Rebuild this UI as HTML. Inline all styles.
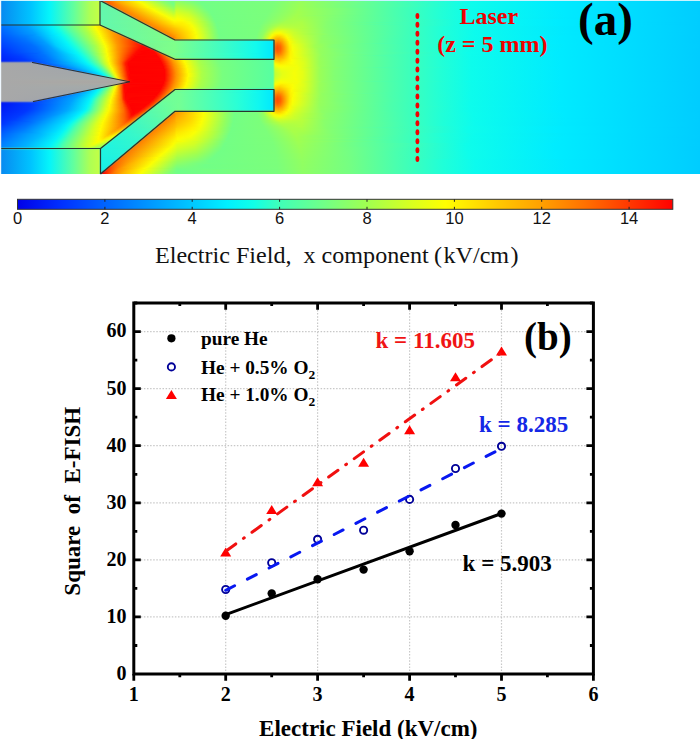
<!DOCTYPE html>
<html><head><meta charset="utf-8"><style>
html,body{margin:0;padding:0;background:#fff;width:700px;height:739px;overflow:hidden}
svg{display:block;position:absolute;left:0;top:0}
#f{position:absolute;left:0;top:0;width:700px;height:174px;overflow:hidden}
#f i{position:absolute;left:0;width:700px;display:block}
.grid{stroke:#c8c8c8;stroke-width:1.2;stroke-dasharray:1.5 1.6}
.tl{font-family:"Liberation Serif",serif;font-weight:bold;font-size:20px;fill:#000}
.lg{font-family:"Liberation Serif",serif;font-weight:bold;font-size:19.3px;fill:#000}
.k{font-family:"Liberation Serif",serif;font-weight:bold;font-size:23px}
.red{font-family:"Liberation Serif",serif;font-weight:bold;font-size:24px;fill:#f00000}
.biga{font-family:"Liberation Serif",serif;font-weight:bold;font-size:47px;fill:#000}
.big{font-family:"Liberation Serif",serif;font-weight:bold;font-size:39px;fill:#000}
.at{font-family:"Liberation Serif",serif;font-weight:bold;font-size:23px;fill:#000}
.cbl{font-family:"Liberation Sans",sans-serif;font-size:16.5px;fill:#111}
.cap{font-family:"Liberation Serif",serif;font-size:24.1px;fill:#111}
</style></head><body>
<div id="f">
<i style="top:0px;height:1px;background:linear-gradient(90deg,#0889f0 0.5px,#00c3ff 30.5px,#05f5fa 49.5px,#62ff9e 73.5px,#acff55 89.5px,#c2ff45 98.5px,#affa5a 99.5px,#97d074 100.5px,#ba7c4c 101.5px,#db5228 102.5px,#f2400f 103.5px,#fe4801 105.5px,#ff8a00 112.5px,#ffcd00 125.5px,#fafe04 137.5px,#8aff6a 161.5px,#76ff82 167.5px,#75ff82 173.5px,#8cff68 176.5px,#79ff7d 191.5px,#71ff87 200.5px,#7bff7b 274.5px,#97ff5a 300.5px,#70ff88 353.5px,#49ffaf 397.5px,#0efdeb 467.5px,#00ecff 555.5px,#00d2ff 676.5px,#00cdff 698.5px,#00cdff 699.5px)"></i>
<i style="top:1px;height:1px;background:linear-gradient(90deg,#0889f0 0.5px,#00c3ff 30.5px,#05f5fa 49.5px,#62ff9e 73.5px,#acff55 89.5px,#c2ff46 98.5px,#adfc5c 99.5px,#84eb89 100.5px,#82cc8a 101.5px,#9baa6e 102.5px,#c57941 103.5px,#df6024 104.5px,#f3520e 105.5px,#fe5901 107.5px,#ff9e00 116.5px,#fbfd04 138.5px,#90ff63 161.5px,#75ff82 169.5px,#75ff82 173.5px,#90ff63 176.5px,#7dff79 191.5px,#71ff87 200.5px,#7aff7c 273.5px,#98ff5a 300.5px,#70ff88 353.5px,#49ffaf 397.5px,#0efdeb 467.5px,#00ecff 555.5px,#00d2ff 676.5px,#00cdff 698.5px,#00cdff 699.5px)"></i>
<i style="top:2px;height:1px;background:linear-gradient(90deg,#0889f0 0.5px,#00c3ff 30.5px,#05f5fa 49.5px,#62ff9e 73.5px,#acff55 89.5px,#c2ff46 98.5px,#acfd5d 99.5px,#7bf993 100.5px,#66f3a9 101.5px,#6ee8a1 102.5px,#9cb16d 104.5px,#c58440 105.5px,#f35e0d 107.5px,#ff6400 109.5px,#ffa700 119.5px,#fafe04 140.5px,#8fff64 163.5px,#75ff82 171.5px,#76ff81 173.5px,#7dff79 174.5px,#8eff65 175.5px,#96ff5c 177.5px,#80ff75 192.5px,#71ff86 201.5px,#7bff7c 273.5px,#98ff59 300.5px,#6eff8a 355.5px,#48ffb0 398.5px,#0efdeb 467.5px,#00ecff 555.5px,#00d2ff 676.5px,#00cdff 698.5px,#00cdff 699.5px)"></i>
<i style="top:3px;height:1px;background:linear-gradient(90deg,#0889f0 0.5px,#00c3ff 30.5px,#05f5fa 49.5px,#62ff9e 73.5px,#acff55 89.5px,#c2ff46 98.5px,#acfd5d 99.5px,#7afa94 100.5px,#63f8ad 101.5px,#65f4aa 103.5px,#6ee9a0 104.5px,#9db66c 106.5px,#cd8537 107.5px,#f16310 108.5px,#fe6601 110.5px,#ffaa00 121.5px,#f9fe05 142.5px,#8eff65 165.5px,#76ff81 172.5px,#76ff81 173.5px,#7fff77 174.5px,#92ff60 175.5px,#9cff55 177.5px,#85ff6f 192.5px,#71ff86 201.5px,#7bff7b 273.5px,#99ff58 300.5px,#6cff8c 357.5px,#47ffb1 400.5px,#0efdeb 467.5px,#00ecff 555.5px,#00d2ff 676.5px,#00cdff 698.5px,#00cdff 699.5px)"></i>
<i style="top:4px;height:1px;background:linear-gradient(90deg,#0889f0 0.5px,#00c3ff 30.5px,#05f5fa 49.5px,#62ff9e 73.5px,#acff55 89.5px,#c2ff46 98.5px,#acfd5d 99.5px,#7afa94 100.5px,#63f8ad 101.5px,#66f4a9 105.5px,#71e99d 106.5px,#95c275 107.5px,#c59040 108.5px,#f36b0e 110.5px,#fe6e01 112.5px,#ffb400 125.5px,#f9fe05 144.5px,#8eff65 167.5px,#78ff7e 173.5px,#81ff74 174.5px,#97ff5b 175.5px,#a1ff50 176.5px,#8fff64 190.5px,#72ff86 202.5px,#7bff7c 272.5px,#9aff57 299.5px,#6cff8c 357.5px,#47ffb1 400.5px,#0efdeb 467.5px,#00ecff 555.5px,#00d2ff 676.5px,#00cdff 698.5px,#00cdff 699.5px)"></i>
<i style="top:5px;height:1px;background:linear-gradient(90deg,#0889f0 0.5px,#00c3ff 30.5px,#05f5fa 49.5px,#62ff9e 73.5px,#acff55 89.5px,#c2ff46 98.5px,#acfd5d 99.5px,#7afa94 100.5px,#63f8ad 101.5px,#64f7ab 106.5px,#6fec9f 107.5px,#9dbc6c 109.5px,#c6953f 110.5px,#f3720d 112.5px,#fe7501 114.5px,#ffbd00 129.5px,#fbfd03 145.5px,#96ff5c 167.5px,#7eff78 173.5px,#86ff6f 174.5px,#9dff56 175.5px,#a8ff4a 176.5px,#97ff5b 189.5px,#71ff86 204.5px,#7bff7b 272.5px,#9bff56 299.5px,#69ff8f 359.5px,#46ffb2 402.5px,#0efdeb 467.5px,#00ecff 555.5px,#00d2ff 676.5px,#00cdff 698.5px,#00cdff 699.5px)"></i>
<i style="top:6px;height:1px;background:linear-gradient(90deg,#0889f0 0.5px,#00c3ff 30.5px,#05f5fa 49.5px,#62ff9e 73.5px,#acff55 89.5px,#c2ff46 98.5px,#acfd5d 99.5px,#7afa94 100.5px,#63f8ad 101.5px,#67f5a8 108.5px,#70ec9d 109.5px,#9ec06b 111.5px,#c69a3f 112.5px,#f3780d 114.5px,#fe7901 116.5px,#ffc600 133.5px,#fbfd03 147.5px,#95ff5c 169.5px,#85ff6f 173.5px,#8dff67 174.5px,#a4ff4f 175.5px,#aeff44 176.5px,#9aff57 190.5px,#72ff86 205.5px,#7bff7b 272.5px,#9bff55 299.5px,#67ff91 361.5px,#44ffb4 405.5px,#0efdea 466.5px,#00ecff 554.5px,#00d2ff 675.5px,#00ceff 697.5px,#00cdff 699.5px)"></i>
<i style="top:7px;height:1px;background:linear-gradient(90deg,#0889f0 0.5px,#00c3ff 30.5px,#05f5fa 49.5px,#62ff9e 73.5px,#acff55 89.5px,#c2ff46 98.5px,#acfd5d 99.5px,#7afa94 100.5px,#63f8ad 101.5px,#68f5a7 110.5px,#71ed9c 111.5px,#9ec26a 113.5px,#c69e3e 114.5px,#f37d0d 116.5px,#fe7d01 118.5px,#fef901 147.5px,#cfff28 159.5px,#8dff66 173.5px,#95ff5f 174.5px,#abff49 175.5px,#b6ff3d 177.5px,#9aff57 192.5px,#72ff86 205.5px,#7bff7b 271.5px,#9cff54 299.5px,#65ff93 363.5px,#22ffd6 440.5px,#0dfced 472.5px,#00eaff 562.5px,#00d0ff 683.5px,#00cdff 698.5px,#00cdff 699.5px)"></i>
<i style="top:8px;height:1px;background:linear-gradient(90deg,#0889f0 0.5px,#00c3ff 30.5px,#05f5fa 49.5px,#62ff9e 73.5px,#acff55 89.5px,#c2ff46 98.5px,#acfd5d 99.5px,#7afa94 100.5px,#63f8ad 101.5px,#69f6a6 112.5px,#72ed9b 113.5px,#9fc56a 115.5px,#c7a13e 116.5px,#f3800d 118.5px,#fe8001 120.5px,#fafe04 151.5px,#95ff5d 173.5px,#9cff56 174.5px,#b2ff42 175.5px,#bcff38 177.5px,#9fff52 192.5px,#72ff86 206.5px,#7bff7b 270.5px,#9dff53 299.5px,#7fff76 338.5px,#4cffac 392.5px,#23ffd5 439.5px,#0dfcec 471.5px,#00ebff 560.5px,#00d1ff 681.5px,#00cdff 699.5px)"></i>
<i style="top:9px;height:1px;background:linear-gradient(90deg,#0889f0 0.5px,#00c3ff 30.5px,#05f5fa 49.5px,#62ff9e 73.5px,#acff55 89.5px,#c2ff46 98.5px,#acfd5d 99.5px,#7afa94 100.5px,#63f8ad 101.5px,#6af6a5 114.5px,#73ee9a 115.5px,#a0c669 117.5px,#c7a43e 118.5px,#f3830d 120.5px,#fe8301 122.5px,#fafe04 153.5px,#9eff53 173.5px,#a4ff4e 174.5px,#b9ff3b 175.5px,#c3ff32 177.5px,#a8ff49 191.5px,#72ff86 207.5px,#7aff7c 269.5px,#9eff52 299.5px,#80ff76 337.5px,#4cffac 392.5px,#23ffd5 439.5px,#0dfcec 471.5px,#00ebff 560.5px,#00d1ff 681.5px,#00cdff 699.5px)"></i>
<i style="top:10px;height:1px;background:linear-gradient(90deg,#0889f0 0.5px,#00c3ff 30.5px,#05f5fa 49.5px,#62ff9e 73.5px,#acff55 89.5px,#c2ff46 98.5px,#acfd5d 99.5px,#7afa94 100.5px,#63f8ad 101.5px,#6af6a4 116.5px,#73ef99 117.5px,#a0c868 119.5px,#c7a63d 120.5px,#f4850c 122.5px,#ff8400 124.5px,#fcfc02 154.5px,#a6ff4b 173.5px,#acff46 174.5px,#c0ff35 175.5px,#caff2c 177.5px,#aeff44 191.5px,#72ff86 208.5px,#7bff7b 269.5px,#9fff52 298.5px,#7fff76 338.5px,#4cffac 392.5px,#23ffd5 439.5px,#0dfcec 471.5px,#00ebff 560.5px,#00d1ff 681.5px,#00cdff 699.5px)"></i>
<i style="top:11px;height:1px;background:linear-gradient(90deg,#0889f0 0.5px,#00c3ff 30.5px,#05f5fa 49.5px,#62ff9e 73.5px,#acff55 89.5px,#c2ff46 98.5px,#acfd5d 99.5px,#7afa94 100.5px,#63f8ad 101.5px,#6bf7a2 118.5px,#74ef99 119.5px,#a1c867 121.5px,#cfa034 122.5px,#f2840f 123.5px,#fe8201 125.5px,#fcfd03 156.5px,#b0ff43 173.5px,#b5ff3e 174.5px,#d0ff27 176.5px,#baff3a 189.5px,#82ff73 204.5px,#72ff86 210.5px,#7bff7b 269.5px,#a0ff50 298.5px,#80ff76 337.5px,#4cffac 392.5px,#23ffd5 439.5px,#0dfcec 471.5px,#00ebff 560.5px,#00d1ff 681.5px,#00cdff 699.5px)"></i>
<i style="top:12px;height:1px;background:linear-gradient(90deg,#0889f0 0.5px,#00c3ff 30.5px,#05f5fa 49.5px,#62ff9e 73.5px,#acff55 89.5px,#c2ff46 98.5px,#acfd5d 99.5px,#7afa94 100.5px,#63f8ad 101.5px,#6cf7a1 120.5px,#77ee96 121.5px,#99cf70 122.5px,#c7a63d 123.5px,#f3840d 125.5px,#fe8301 127.5px,#fbfd03 158.5px,#b9ff3b 173.5px,#beff37 174.5px,#d7ff21 176.5px,#c3ff32 188.5px,#8aff69 203.5px,#72ff86 210.5px,#7bff7b 268.5px,#a1ff4f 298.5px,#80ff75 336.5px,#4bffad 393.5px,#21ffd7 441.5px,#0cfced 473.5px,#00eaff 564.5px,#00d0ff 685.5px,#00ceff 697.5px,#00cdff 699.5px)"></i>
<i style="top:13px;height:1px;background:linear-gradient(90deg,#0889f0 0.5px,#00c3ff 30.5px,#05f5fa 49.5px,#62ff9e 73.5px,#acff55 89.5px,#c2ff46 98.5px,#acfd5d 99.5px,#7afa94 100.5px,#63f8ad 101.5px,#6bf8a3 121.5px,#75f098 122.5px,#a1c967 124.5px,#c8a73c 125.5px,#f3860d 127.5px,#fe8501 129.5px,#fbfd03 160.5px,#c2ff33 173.5px,#c6ff2f 174.5px,#ddff1c 176.5px,#c9ff2d 188.5px,#8eff65 203.5px,#72ff86 211.5px,#7bff7c 267.5px,#a1ff4f 297.5px,#80ff76 337.5px,#4cffac 392.5px,#23ffd5 439.5px,#0dfcec 471.5px,#00ebff 560.5px,#00d1ff 681.5px,#00cdff 699.5px)"></i>
<i style="top:14px;height:1px;background:linear-gradient(90deg,#0889f0 0.5px,#00c3ff 30.5px,#05f5fa 49.5px,#62ff9e 73.5px,#acff55 89.5px,#c2ff46 98.5px,#acfd5d 99.5px,#7afa94 100.5px,#63f8ad 101.5px,#6df7a0 123.5px,#76f096 124.5px,#a2c966 126.5px,#c8a83c 127.5px,#f3870d 129.5px,#fe8601 131.5px,#fbfd04 162.5px,#cbff2b 173.5px,#cfff28 174.5px,#e3ff17 176.5px,#cfff28 188.5px,#8eff65 204.5px,#72ff85 211.5px,#7aff7c 266.5px,#a3ff4e 297.5px,#80ff75 336.5px,#4bffad 393.5px,#21ffd7 441.5px,#0cfced 473.5px,#00eaff 564.5px,#00d0ff 685.5px,#00ceff 697.5px,#00cdff 699.5px)"></i>
<i style="top:15px;height:1px;background:linear-gradient(90deg,#0889f0 0.5px,#00c3ff 30.5px,#05f5fa 49.5px,#62ff9e 73.5px,#acff55 89.5px,#c2ff46 98.5px,#acfd5d 99.5px,#7afa94 100.5px,#63f8ad 101.5px,#6ef79f 125.5px,#77f095 126.5px,#a3ca65 128.5px,#c9a93b 129.5px,#f3880d 131.5px,#ff8b00 134.5px,#fafd04 164.5px,#d5ff23 173.5px,#e9ff12 177.5px,#ceff29 190.5px,#88ff6b 206.5px,#72ff86 212.5px,#7bff7c 266.5px,#a3ff4d 296.5px,#93ff5f 312.5px,#4bffad 393.5px,#21ffd7 441.5px,#0cfced 473.5px,#00eaff 564.5px,#00d0ff 685.5px,#00ceff 697.5px,#00cdff 699.5px)"></i>
<i style="top:16px;height:1px;background:linear-gradient(90deg,#0889f0 0.5px,#00c3ff 30.5px,#05f5fa 49.5px,#62ff9e 73.5px,#acff55 89.5px,#c2ff46 98.5px,#acfd5d 99.5px,#7afa94 100.5px,#63f8ad 101.5px,#6ff89e 127.5px,#78f094 128.5px,#a3ca65 130.5px,#c9a93b 131.5px,#f3890d 133.5px,#ff8b00 136.5px,#fafe04 166.5px,#ddff1c 173.5px,#efff0e 177.5px,#d3ff24 190.5px,#8cff67 206.5px,#72ff86 213.5px,#7aff7c 265.5px,#a4ff4c 295.5px,#9bff56 307.5px,#81ff74 334.5px,#4bffad 393.5px,#21ffd7 441.5px,#0cfced 473.5px,#00eaff 564.5px,#00d0ff 685.5px,#00ceff 697.5px,#00cdff 699.5px)"></i>
<i style="top:17px;height:1px;background:linear-gradient(90deg,#0889f0 0.5px,#00c3ff 30.5px,#05f5fa 49.5px,#62ff9e 73.5px,#acff55 89.5px,#c2ff46 98.5px,#acfd5d 99.5px,#7afa94 100.5px,#63f8ad 101.5px,#70f89d 129.5px,#79f093 130.5px,#a4cb64 132.5px,#c9aa3b 133.5px,#f48a0c 135.5px,#ff8c00 138.5px,#f9fe05 168.5px,#e7ff14 174.5px,#f4ff09 177.5px,#d9ff1f 190.5px,#8fff63 206.5px,#72ff85 213.5px,#7bff7b 265.5px,#a5ff4c 294.5px,#9fff51 305.5px,#82ff73 332.5px,#4bffad 394.5px,#1fffd9 443.5px,#0cfbee 475.5px,#00e9ff 566.5px,#00d0ff 687.5px,#00cdff 699.5px)"></i>
<i style="top:18px;height:1px;background:linear-gradient(90deg,#0889f0 0.5px,#00c3ff 30.5px,#05f5fa 49.5px,#62ff9e 73.5px,#acff55 89.5px,#c2ff46 98.5px,#acfd5d 99.5px,#7afa94 100.5px,#63f8ad 101.5px,#71f89c 131.5px,#79f192 132.5px,#a4cb63 134.5px,#caab3a 135.5px,#f48a0c 137.5px,#ff8900 139.5px,#fcfc03 169.5px,#eeff0e 174.5px,#faff04 177.5px,#deff1b 190.5px,#8eff65 207.5px,#72ff86 214.5px,#7aff7c 264.5px,#a6ff4b 293.5px,#a1ff4f 304.5px,#82ff72 331.5px,#4bffad 394.5px,#1fffd9 443.5px,#0cfbee 475.5px,#00e9ff 566.5px,#00d0ff 687.5px,#00cdff 699.5px)"></i>
<i style="top:19px;height:1px;background:linear-gradient(90deg,#0889f0 0.5px,#00c3ff 30.5px,#05f5fa 49.5px,#62ff9e 73.5px,#acff55 89.5px,#c2ff46 98.5px,#acfd5d 99.5px,#7afa94 100.5px,#63f8ad 101.5px,#71f89b 133.5px,#7af191 134.5px,#a5cb62 136.5px,#d1a432 137.5px,#f2890e 138.5px,#fe8601 140.5px,#fcfd03 171.5px,#f5fe08 174.5px,#fdfd01 178.5px,#e2ff17 190.5px,#91ff61 207.5px,#72ff85 214.5px,#7aff7c 263.5px,#a7ff4a 292.5px,#a4ff4c 303.5px,#83ff72 330.5px,#4affae 395.5px,#0efdeb 468.5px,#00ecff 556.5px,#00d2ff 677.5px,#00cdff 699.5px)"></i>
<i style="top:20px;height:1px;background:linear-gradient(90deg,#0889f0 0.5px,#00c3ff 30.5px,#05f5fa 49.5px,#62ff9e 73.5px,#acff55 89.5px,#c2ff46 98.5px,#acfd5d 99.5px,#7afa94 100.5px,#63f8ad 101.5px,#72f89a 135.5px,#7cf08e 136.5px,#9dd26a 137.5px,#c9aa3a 138.5px,#f4880c 140.5px,#ff8a00 143.5px,#fbfd03 173.5px,#fdfd02 182.5px,#d3ff25 195.5px,#80ff75 211.5px,#72ff86 215.5px,#7bff7c 263.5px,#a6ff4b 289.5px,#a7ff4a 302.5px,#84ff71 329.5px,#4affae 395.5px,#0efdeb 468.5px,#00ecff 556.5px,#00d2ff 677.5px,#00cdff 699.5px)"></i>
<i style="top:21px;height:1px;background:linear-gradient(90deg,#0889f0 0.5px,#00c3ff 30.5px,#05f5fa 49.5px,#62ff9e 73.5px,#acff55 89.5px,#c2ff46 98.5px,#acfd5d 99.5px,#7afa94 100.5px,#63f8ad 101.5px,#71fa9b 136.5px,#7bf290 137.5px,#a5cb62 139.5px,#caaa39 140.5px,#f4890c 142.5px,#ff8b00 145.5px,#fef801 174.5px,#fff700 180.5px,#f3ff0a 188.5px,#acff45 203.5px,#72ff85 215.5px,#7aff7c 262.5px,#a5ff4c 286.5px,#aaff47 301.5px,#84ff70 328.5px,#4affae 395.5px,#0efdeb 468.5px,#00ecff 556.5px,#00d2ff 677.5px,#00cdff 699.5px)"></i>
<i style="top:22px;height:1px;background:linear-gradient(90deg,#0889f0 0.5px,#00c3ff 30.5px,#05f5fa 49.5px,#62ff9e 73.5px,#acff55 89.5px,#c2ff45 98.5px,#acfd5d 99.5px,#7afa94 100.5px,#63f8ad 101.5px,#74f998 138.5px,#7cf18f 139.5px,#a6cb61 141.5px,#cbaa39 142.5px,#f4890c 144.5px,#ff8b00 147.5px,#fff200 174.5px,#fff300 181.5px,#f4ff09 189.5px,#aaff47 204.5px,#73ff84 215.5px,#7aff7d 261.5px,#a6ff4b 284.5px,#acff46 301.5px,#85ff6f 327.5px,#57ffa1 376.5px,#2bffcd 432.5px,#0dfdec 469.5px,#00ecff 557.5px,#00d1ff 678.5px,#00ceff 696.5px,#00cdff 699.5px)"></i>
<i style="top:23px;height:1px;background:linear-gradient(90deg,#0889f1 0.5px,#00c3ff 30.5px,#05f5fa 49.5px,#63ff9d 73.5px,#adff54 89.5px,#c3fe44 98.5px,#aefd5b 99.5px,#7cf992 100.5px,#64f8ac 101.5px,#74f997 140.5px,#7df18e 141.5px,#a7cc60 143.5px,#cbab39 144.5px,#f48a0c 146.5px,#ff8c00 149.5px,#ffeb00 174.5px,#fff000 182.5px,#f8ff06 189.5px,#aeff44 204.5px,#72ff85 216.5px,#7aff7c 261.5px,#a8ff49 282.5px,#adff45 301.5px,#85ff6f 327.5px,#4affae 395.5px,#0efdeb 468.5px,#00ecff 556.5px,#00d2ff 677.5px,#00cdff 699.5px)"></i>
<i style="top:24px;height:1px;background:linear-gradient(90deg,#0682f4 0.5px,#00baff 29.5px,#04f3fb 49.5px,#4fffaf 68.5px,#baff46 90.5px,#d1fa34 98.5px,#c0f747 99.5px,#92f579 100.5px,#6ff69f 101.5px,#62f8ad 103.5px,#75f996 142.5px,#7ef28d 143.5px,#a7cc60 145.5px,#cbab38 146.5px,#f48a0c 148.5px,#ff8c00 151.5px,#ffe400 174.5px,#fff100 184.5px,#f4ff09 191.5px,#9fff51 207.5px,#73ff85 216.5px,#7aff7d 260.5px,#adff45 281.5px,#aeff44 301.5px,#86ff6e 326.5px,#57ffa1 376.5px,#2bffcd 432.5px,#0dfdec 469.5px,#00ecff 557.5px,#00d1ff 678.5px,#00ceff 696.5px,#00cdff 699.5px)"></i>
<i style="top:25px;height:1px;background:linear-gradient(90deg,#0275fb 0.5px,#00a6ff 27.5px,#05f3f9 51.5px,#1efedb 58.5px,#56ffa4 68.5px,#aeff48 85.5px,#effa12 96.5px,#f0f011 98.5px,#e8eb19 99.5px,#cae93b 100.5px,#9ced6e 101.5px,#6ef5a0 103.5px,#63f8ac 105.5px,#76f995 144.5px,#7ef28c 145.5px,#a8cc5f 147.5px,#ccac38 148.5px,#f48b0c 150.5px,#ff8d00 153.5px,#ffdd00 175.5px,#fff200 186.5px,#f4ff09 192.5px,#9cff55 208.5px,#73ff84 216.5px,#79ff7e 259.5px,#94ff5e 270.5px,#b2ff41 280.5px,#aeff44 302.5px,#86ff6e 326.5px,#4affae 395.5px,#0efdeb 468.5px,#00ecff 556.5px,#00d2ff 677.5px,#00cdff 699.5px)"></i>
<i style="top:26px;height:1px;background:linear-gradient(90deg,#006eff 0.5px,#00a0ff 27.5px,#03f2fb 51.5px,#1bffdd 58.5px,#50ffa8 66.5px,#abff47 84.5px,#fbfe04 95.5px,#fce503 99.5px,#f3e00d 100.5px,#c5e041 102.5px,#9ce86e 103.5px,#6ff49f 105.5px,#65f8aa 108.5px,#77f994 146.5px,#7ff28b 147.5px,#a8cd5e 149.5px,#ccac37 150.5px,#f58b0b 152.5px,#ff8900 154.5px,#ffd700 175.5px,#ffee00 186.5px,#f7ff06 192.5px,#9eff52 208.5px,#72ff85 217.5px,#79ff7d 259.5px,#95ff5d 269.5px,#b8ff3b 279.5px,#afff43 302.5px,#87ff6d 325.5px,#4bffad 394.5px,#1fffd9 443.5px,#0cfbee 475.5px,#00e9ff 566.5px,#00d0ff 687.5px,#00cdff 699.5px)"></i>
<i style="top:27px;height:1px;background:linear-gradient(90deg,#006cff 0.5px,#009dff 27.5px,#03f3fa 52.5px,#18ffe0 58.5px,#4effaa 66.5px,#a9ff48 84.5px,#fbfe04 95.5px,#fcd904 101.5px,#f3d50e 102.5px,#c5d940 104.5px,#9de46c 105.5px,#70f39e 108.5px,#65f8a9 110.5px,#78fa93 148.5px,#80f28a 149.5px,#a9cc5d 151.5px,#d3a52f 152.5px,#f38a0d 153.5px,#fe8601 155.5px,#ffd200 176.5px,#ffee00 187.5px,#f6ff07 193.5px,#96ff5c 210.5px,#73ff85 217.5px,#7aff7c 259.5px,#95ff5d 268.5px,#c0ff35 278.5px,#afff44 303.5px,#87ff6d 325.5px,#4bffad 394.5px,#1fffd9 443.5px,#0cfbee 475.5px,#00e9ff 566.5px,#00d0ff 687.5px,#00cdff 699.5px)"></i>
<i style="top:28px;height:1px;background:linear-gradient(90deg,#0069ff 0.5px,#009dff 28.5px,#02f2fc 52.5px,#1affde 59.5px,#4fffa9 67.5px,#adff45 85.5px,#fdfc02 96.5px,#fcce04 103.5px,#d7ca2c 106.5px,#c5cf41 107.5px,#9dde6c 108.5px,#71f39d 110.5px,#66f9a8 112.5px,#79fa92 150.5px,#82f187 151.5px,#a2d365 152.5px,#ccab37 153.5px,#f4890c 155.5px,#ff8a00 158.5px,#ffcd00 177.5px,#fff200 189.5px,#f4ff09 194.5px,#92ff60 211.5px,#73ff84 217.5px,#79ff7d 258.5px,#90ff63 266.5px,#c8ff2e 277.5px,#c5ff31 285.5px,#abff46 305.5px,#87ff6d 326.5px,#4bffad 394.5px,#1fffd9 443.5px,#0cfbee 475.5px,#00e9ff 566.5px,#00d0ff 687.5px,#00cdff 699.5px)"></i>
<i style="top:29px;height:1px;background:linear-gradient(90deg,#0066ff 0.5px,#00a0ff 30.5px,#02f2fc 53.5px,#1bffdd 60.5px,#50ffa8 68.5px,#b0ff43 86.5px,#fbfe04 96.5px,#fbbd05 106.5px,#f3bb0e 107.5px,#c6c83f 109.5px,#9eda6b 110.5px,#72f29c 112.5px,#67f9a7 114.5px,#77fb93 151.5px,#93e275 153.5px,#aacc5d 154.5px,#cdaa36 155.5px,#f4890c 157.5px,#ff8b00 160.5px,#ffc800 177.5px,#ffef00 189.5px,#f7ff06 194.5px,#94ff5e 211.5px,#72ff85 218.5px,#7aff7d 258.5px,#93ff5f 266.5px,#d0ff27 276.5px,#d3ff24 282.5px,#bbff39 296.5px,#87ff6d 326.5px,#4bffad 394.5px,#1fffd9 443.5px,#0cfbee 475.5px,#00e9ff 566.5px,#00d0ff 687.5px,#00cdff 699.5px)"></i>
<i style="top:30px;height:1px;background:linear-gradient(90deg,#0063ff 0.5px,#009fff 31.5px,#01f0fd 53.5px,#15fee4 60.5px,#4cffac 68.5px,#abff47 86.5px,#fdfd02 97.5px,#fcb304 108.5px,#f3b10e 109.5px,#c6c13f 111.5px,#9ed76a 112.5px,#72f29b 114.5px,#68f9a6 116.5px,#7afa90 153.5px,#93e274 155.5px,#aacc5c 156.5px,#cdab36 157.5px,#f48a0b 159.5px,#ff8c00 162.5px,#ffc300 177.5px,#ffe700 188.5px,#faff04 194.5px,#95ff5d 211.5px,#73ff85 218.5px,#7aff7c 258.5px,#92ff61 265.5px,#dcff1d 276.5px,#ddff1c 282.5px,#bfff35 294.5px,#abff47 306.5px,#87ff6d 326.5px,#4bffad 394.5px,#1fffd9 443.5px,#0cfbee 475.5px,#00e9ff 566.5px,#00d0ff 687.5px,#00cdff 699.5px)"></i>
<i style="top:31px;height:1px;background:linear-gradient(90deg,#0061ff 0.5px,#009fff 32.5px,#00eefe 53.5px,#16fee3 61.5px,#4dffab 69.5px,#aeff44 87.5px,#fefb01 98.5px,#fca804 110.5px,#f3a80d 111.5px,#c6bc3e 113.5px,#9fd46a 114.5px,#73f19a 116.5px,#69f9a5 119.5px,#7bfa8f 155.5px,#94e274 157.5px,#abcd5b 158.5px,#cdab36 159.5px,#f48a0b 161.5px,#ff8c00 164.5px,#ffbf00 177.5px,#ffe400 188.5px,#f7ff07 195.5px,#91ff62 212.5px,#73ff85 218.5px,#79ff7d 257.5px,#8fff63 264.5px,#e3ff17 275.5px,#ebff10 280.5px,#c2ff33 294.5px,#aaff48 307.5px,#86ff6e 327.5px,#4bffad 394.5px,#1fffd9 443.5px,#0cfbee 475.5px,#00e9ff 566.5px,#00d0ff 687.5px,#00cdff 699.5px)"></i>
<i style="top:32px;height:1px;background:linear-gradient(90deg,#005eff 0.5px,#009eff 33.5px,#00ebff 53.5px,#11fde8 61.5px,#4effaa 70.5px,#a9ff49 87.5px,#fcfd02 98.5px,#fc9f04 112.5px,#f3a10d 113.5px,#c7b83e 115.5px,#a0d168 116.5px,#74f098 119.5px,#6af9a4 121.5px,#7bfa8e 157.5px,#95e273 159.5px,#abcd5b 160.5px,#ceac35 161.5px,#f58b0b 163.5px,#ff8d00 166.5px,#ffba00 177.5px,#ffe100 188.5px,#f9ff05 195.5px,#92ff60 212.5px,#73ff84 218.5px,#7aff7c 257.5px,#93ff60 264.5px,#eaff11 274.5px,#f7fd07 279.5px,#d9ff1f 287.5px,#c2ff33 296.5px,#89ff6b 324.5px,#4bffad 393.5px,#21ffd7 441.5px,#0cfced 473.5px,#00eaff 564.5px,#00d0ff 685.5px,#00ceff 697.5px,#00cdff 699.5px)"></i>
<i style="top:33px;height:1px;background:linear-gradient(90deg,#005cff 0.5px,#009eff 34.5px,#00e5ff 52.5px,#0af9f1 60.5px,#27ffd1 65.5px,#58ffa0 73.5px,#acff46 88.5px,#fefb01 99.5px,#fe9a01 113.5px,#f39a0d 115.5px,#c6b13e 118.5px,#a0cd68 119.5px,#75f097 121.5px,#6bf9a2 123.5px,#7cfb8d 159.5px,#95e372 161.5px,#accd5a 162.5px,#ceac35 163.5px,#f58b0b 165.5px,#ff8d00 168.5px,#ffb600 177.5px,#ffdf00 188.5px,#fafe04 195.5px,#93ff5f 212.5px,#73ff84 218.5px,#79ff7e 256.5px,#90ff63 263.5px,#c7ff2e 269.5px,#f5fd08 274.5px,#fdf802 280.5px,#e5ff15 286.5px,#c7ff2e 294.5px,#a6ff4b 309.5px,#86ff6f 328.5px,#4bffad 394.5px,#1fffd9 443.5px,#0cfbee 475.5px,#00e9ff 566.5px,#00d0ff 687.5px,#00cdff 699.5px)"></i>
<i style="top:34px;height:1px;background:linear-gradient(90deg,#005aff 0.5px,#0099ff 34.5px,#00dfff 51.5px,#05f5f7 59.5px,#18ffe0 64.5px,#4fffa9 72.5px,#afff43 89.5px,#fcfd03 99.5px,#ff9700 114.5px,#fb8c04 117.5px,#f38f0d 118.5px,#c7ac3d 120.5px,#a1cb67 121.5px,#76ef96 123.5px,#6cfaa1 125.5px,#7dfb8c 161.5px,#96e371 163.5px,#acce59 164.5px,#cead34 165.5px,#f58b0a 167.5px,#ff8900 169.5px,#ffa100 174.5px,#ffb400 178.5px,#fff100 192.5px,#f1ff0b 197.5px,#83ff72 215.5px,#72ff85 219.5px,#79ff7d 256.5px,#8cff67 262.5px,#b8ff3b 267.5px,#f2fe0b 272.5px,#ffed00 276.5px,#ffed00 280.5px,#f3fe0a 285.5px,#cdff2a 293.5px,#a4ff4c 310.5px,#85ff70 329.5px,#4bffad 394.5px,#1fffd9 443.5px,#0cfbee 475.5px,#00e9ff 566.5px,#00d0ff 687.5px,#00cdff 699.5px)"></i>
<i style="top:35px;height:1px;background:linear-gradient(90deg,#0057ff 0.5px,#0090ff 32.5px,#00ecff 56.5px,#12fee6 64.5px,#50ffa8 73.5px,#aaff48 89.5px,#fdfb01 100.5px,#ff9800 114.5px,#fc8404 119.5px,#f3870d 120.5px,#c8a63d 122.5px,#a1c767 123.5px,#77ef95 125.5px,#6dfaa0 127.5px,#7efb8b 163.5px,#97e370 165.5px,#adcd58 166.5px,#d5a62d 167.5px,#f38a0d 168.5px,#fe8601 170.5px,#ff9a00 174.5px,#ffad00 177.5px,#ffe500 190.5px,#f8ff06 196.5px,#89ff6a 214.5px,#72ff85 219.5px,#7aff7d 256.5px,#8fff64 262.5px,#c0ff35 267.5px,#fafa04 272.5px,#ffdc00 277.5px,#ffe500 281.5px,#f4fe09 286.5px,#d0ff27 293.5px,#8bff68 323.5px,#4bffad 393.5px,#21ffd7 441.5px,#0cfced 473.5px,#00eaff 564.5px,#00d0ff 685.5px,#00ceff 697.5px,#00cdff 699.5px)"></i>
<i style="top:36px;height:1px;background:linear-gradient(90deg,#0055ff 0.5px,#0083ff 27.5px,#00a0ff 38.5px,#00d9ff 51.5px,#06f5f7 61.5px,#1affde 66.5px,#51ffa7 74.5px,#adff45 90.5px,#fbfd03 100.5px,#ff9900 114.5px,#fc7c04 121.5px,#f3800d 122.5px,#c8a03c 124.5px,#a2c366 125.5px,#78ee94 127.5px,#6efa9f 130.5px,#7ffb8a 165.5px,#88f280 166.5px,#a6d460 167.5px,#ceab34 168.5px,#f5890b 170.5px,#ff8b00 173.5px,#ffa600 176.5px,#ffe400 190.5px,#f9ff05 196.5px,#8aff6a 214.5px,#73ff85 219.5px,#7aff7c 256.5px,#91ff61 262.5px,#baff3a 266.5px,#faf904 271.5px,#ffd100 276.5px,#ffd200 280.5px,#fafc04 286.5px,#d0ff27 294.5px,#8dff67 322.5px,#4cffac 392.5px,#23ffd5 439.5px,#0dfcec 471.5px,#00ebff 560.5px,#00d1ff 681.5px,#00cdff 699.5px)"></i>
<i style="top:37px;height:1px;background:linear-gradient(90deg,#0052ff 0.5px,#007cff 25.5px,#009fff 39.5px,#00d9ff 52.5px,#06f6f6 62.5px,#1bffdd 67.5px,#51ffa7 75.5px,#b0ff42 91.5px,#fdfb02 101.5px,#ff9b00 114.5px,#fc7304 123.5px,#f3760d 124.5px,#c8993c 126.5px,#a3be65 127.5px,#79ed93 130.5px,#6ffa9e 132.5px,#7efd8b 166.5px,#98e36f 168.5px,#aecd58 169.5px,#cfab33 170.5px,#f5890b 172.5px,#fc8603 173.5px,#ffa500 177.5px,#faff04 196.5px,#90ff63 213.5px,#73ff85 219.5px,#79ff7e 255.5px,#8dff66 261.5px,#b3ff40 265.5px,#f8fa05 270.5px,#ffc800 275.5px,#ffc100 279.5px,#ffe600 284.5px,#f9fd05 287.5px,#d3ff24 294.5px,#8dff66 322.5px,#4cffac 392.5px,#23ffd5 439.5px,#0dfcec 471.5px,#00ebff 560.5px,#00d1ff 681.5px,#00cdff 699.5px)"></i>
<i style="top:38px;height:1px;background:linear-gradient(90deg,#0050ff 0.5px,#0078ff 25.5px,#009fff 40.5px,#00d6ff 52.5px,#04f4f9 62.5px,#1cffdc 68.5px,#52ffa6 76.5px,#abff47 91.5px,#fbfd03 101.5px,#ff9700 115.5px,#fc6804 125.5px,#d97d29 128.5px,#c88e3c 129.5px,#a3b864 130.5px,#79ec92 132.5px,#70fa9d 134.5px,#80fb88 168.5px,#98e36e 170.5px,#aecd57 171.5px,#cfab33 172.5px,#e5981c 173.5px,#f5900b 174.5px,#fca503 177.5px,#f7ff08 196.5px,#8fff64 213.5px,#72ff86 219.5px,#77ff80 255.5px,#8cff67 261.5px,#b4ff40 265.5px,#effc0e 269.5px,#ffbb00 275.5px,#ffb200 278.5px,#ffc800 282.5px,#fdf902 287.5px,#d3ff24 295.5px,#8fff64 321.5px,#4cffac 391.5px,#25ffd3 437.5px,#0dfcec 470.5px,#00ebff 559.5px,#00d1ff 680.5px,#00cdff 698.5px,#00cdff 699.5px)"></i>
<i style="top:39px;height:1px;background:linear-gradient(90deg,#004eff 0.5px,#0075ff 25.5px,#009eff 41.5px,#00d6ff 53.5px,#04f4f9 63.5px,#1dffdb 69.5px,#4effaa 76.5px,#aeff44 92.5px,#fdfc02 102.5px,#ff9900 115.5px,#fb5704 128.5px,#f35a0d 129.5px,#c9853b 131.5px,#a4b464 132.5px,#7aeb91 134.5px,#70fa9c 136.5px,#81fc87 170.5px,#99e36d 172.5px,#afce56 173.5px,#cfb134 174.5px,#dcae25 175.5px,#d3ff2c 196.5px,#66ff93 219.5px,#61fd98 256.5px,#75fc80 262.5px,#bcf643 269.5px,#c1d73e 272.5px,#cfca30 273.5px,#efb910 274.5px,#feae01 275.5px,#ffa500 278.5px,#ffbd00 282.5px,#fcfb03 288.5px,#d6ff22 295.5px,#8fff64 321.5px,#4cffac 391.5px,#25ffd3 437.5px,#0dfcec 470.5px,#00ebff 559.5px,#00d1ff 680.5px,#00cdff 698.5px,#00cdff 699.5px)"></i>
<i style="top:40px;height:1px;background:linear-gradient(90deg,#004bff 0.5px,#0073ff 26.5px,#009dff 42.5px,#00d3ff 53.5px,#05f4f8 64.5px,#1effda 70.5px,#4fffa9 77.5px,#b2ff41 93.5px,#fbfd04 102.5px,#ff9a00 115.5px,#fc4a03 130.5px,#f34f0d 131.5px,#e16120 132.5px,#c97e3b 133.5px,#a4b063 134.5px,#7bea90 136.5px,#71fa9b 138.5px,#82fc86 172.5px,#97e770 174.5px,#81ff81 198.5px,#4bffb3 222.5px,#2cf9d1 258.5px,#3df2c1 267.5px,#45e1ba 272.5px,#70d28f 273.5px,#cfb430 274.5px,#fba204 275.5px,#ff9700 278.5px,#ffb300 282.5px,#fef801 288.5px,#dcff1d 294.5px,#91ff62 320.5px,#4dffab 390.5px,#26ffd2 436.5px,#0dfcec 470.5px,#00ebff 559.5px,#00d1ff 680.5px,#00cdff 698.5px,#00cdff 699.5px)"></i>
<i style="top:41px;height:1px;background:linear-gradient(90deg,#0049ff 0.5px,#0072ff 27.5px,#009cff 43.5px,#00d4ff 54.5px,#05f4f8 65.5px,#17ffe1 70.5px,#4fffa9 78.5px,#acff46 93.5px,#fdfc02 103.5px,#ff9c00 115.5px,#ff4e00 129.5px,#fc3e03 132.5px,#f4440d 133.5px,#e25820 134.5px,#ca773a 135.5px,#a5ab62 136.5px,#7cea8f 138.5px,#72fa99 140.5px,#7cfd8c 175.5px,#15faeb 255.5px,#0de7f2 272.5px,#45d5ba 273.5px,#c1ae3e 274.5px,#f99606 275.5px,#ff8a00 278.5px,#ffa900 282.5px,#fcfb02 289.5px,#d8ff20 296.5px,#91ff61 320.5px,#4dffab 390.5px,#26ffd2 436.5px,#0dfcec 470.5px,#00ebff 559.5px,#00d1ff 680.5px,#00cdff 698.5px,#00cdff 699.5px)"></i>
<i style="top:42px;height:1px;background:linear-gradient(90deg,#0046ff 0.5px,#0070ff 28.5px,#009bff 44.5px,#00d1ff 54.5px,#05f5f8 66.5px,#18ffe0 71.5px,#50ffa8 79.5px,#afff43 94.5px,#fafe04 103.5px,#ff9800 116.5px,#ff4800 130.5px,#fc3303 134.5px,#f4390c 135.5px,#e24f20 136.5px,#ca6f3a 137.5px,#a5a862 138.5px,#7de98e 140.5px,#75f897 142.5px,#7eff8a 174.5px,#13faed 255.5px,#03eafc 271.5px,#07e8f8 272.5px,#41d3be 273.5px,#bfa540 274.5px,#f98a06 275.5px,#ff7d00 277.5px,#ff8900 280.5px,#fef801 289.5px,#daff1f 296.5px,#91ff61 320.5px,#4dffab 390.5px,#26ffd2 436.5px,#0dfcec 470.5px,#00ebff 559.5px,#00d1ff 680.5px,#00cdff 698.5px,#00cdff 699.5px)"></i>
<i style="top:43px;height:1px;background:linear-gradient(90deg,#0044ff 0.5px,#0071ff 30.5px,#00a0ff 46.5px,#00d1ff 55.5px,#05f5f8 67.5px,#19ffdf 72.5px,#51ffa7 80.5px,#b3ff40 95.5px,#fcfc02 104.5px,#ff9900 116.5px,#ff4300 131.5px,#fc2703 136.5px,#f42f0c 137.5px,#e24720 138.5px,#ca6a39 139.5px,#a7a360 140.5px,#96be72 141.5px,#8dcd7c 142.5px,#7ee98d 143.5px,#76f795 144.5px,#7eff8a 174.5px,#13faed 255.5px,#03eafc 271.5px,#07e7f8 272.5px,#41d0be 273.5px,#bf9d40 274.5px,#f97f06 275.5px,#ff7100 277.5px,#ff7f00 280.5px,#fef501 289.5px,#e8ff13 293.5px,#94ff5e 319.5px,#53ffa5 380.5px,#2dffcb 430.5px,#0efdeb 468.5px,#00ecff 556.5px,#00d2ff 677.5px,#00cdff 699.5px)"></i>
<i style="top:44px;height:1px;background:linear-gradient(90deg,#0042ff 0.5px,#006fff 31.5px,#009fff 47.5px,#00ceff 55.5px,#03f3fa 67.5px,#1affde 73.5px,#52ffa6 81.5px,#adff45 95.5px,#fafe04 104.5px,#ffd600 109.5px,#ff9600 117.5px,#ff3100 134.5px,#fc1d03 138.5px,#f4260c 139.5px,#e43d1e 140.5px,#db4927 141.5px,#ca633a 142.5px,#a7a060 143.5px,#7fe88c 145.5px,#77f794 146.5px,#7eff8a 174.5px,#13faed 255.5px,#03eafc 271.5px,#07e7f8 272.5px,#41cebe 273.5px,#bf9640 274.5px,#f97606 275.5px,#ff6700 277.5px,#ff7600 280.5px,#fff200 289.5px,#f1ff0c 292.5px,#9bff56 316.5px,#82ff72 333.5px,#4bffad 393.5px,#21ffd7 441.5px,#0cfced 473.5px,#00eaff 564.5px,#00d0ff 685.5px,#00ceff 697.5px,#00cdff 699.5px)"></i>
<i style="top:45px;height:1px;background:linear-gradient(90deg,#003fff 0.5px,#006eff 32.5px,#009eff 48.5px,#00ceff 56.5px,#04f3fa 68.5px,#1bffdd 74.5px,#4dffab 81.5px,#a0ff51 94.5px,#fcfc02 105.5px,#ff9700 117.5px,#fe1501 139.5px,#fb1104 141.5px,#f41a0c 142.5px,#e2361f 143.5px,#cb5e38 144.5px,#a79f5f 145.5px,#90c978 146.5px,#7fe88b 147.5px,#78f793 148.5px,#7eff8a 174.5px,#13faed 255.5px,#03eafc 271.5px,#07e7f8 272.5px,#41ccbe 273.5px,#bf9140 274.5px,#f96e06 275.5px,#ff5e00 277.5px,#ff6e00 280.5px,#ffef00 289.5px,#f3ff0a 292.5px,#9eff52 315.5px,#83ff72 332.5px,#4bffad 393.5px,#21ffd7 441.5px,#0cfced 473.5px,#00eaff 564.5px,#00d0ff 685.5px,#00ceff 697.5px,#00cdff 699.5px)"></i>
<i style="top:46px;height:1px;background:linear-gradient(90deg,#003dff 0.5px,#006fff 34.5px,#009eff 49.5px,#00ceff 57.5px,#04f3fa 69.5px,#1bffdd 75.5px,#4effaa 82.5px,#a4ff4d 95.5px,#fbfd04 105.5px,#ff9800 117.5px,#ff0900 141.5px,#fc0703 143.5px,#f4140c 144.5px,#e2341f 145.5px,#cb5e38 146.5px,#a89f5f 147.5px,#91c977 148.5px,#80e98a 149.5px,#79f792 150.5px,#7eff8a 174.5px,#13faed 255.5px,#03eafc 271.5px,#07e7f8 272.5px,#41cbbe 273.5px,#bf8c40 274.5px,#f96806 275.5px,#ff5800 277.5px,#ff6800 280.5px,#ffec00 289.5px,#f5ff08 292.5px,#a2ff4f 314.5px,#85ff70 330.5px,#4bffad 393.5px,#21ffd7 441.5px,#0cfced 473.5px,#00eaff 564.5px,#00d0ff 685.5px,#00ceff 697.5px,#00cdff 699.5px)"></i>
<i style="top:47px;height:1px;background:linear-gradient(90deg,#003aff 0.5px,#006fff 35.5px,#009fff 50.5px,#00d1ff 59.5px,#04f3fa 70.5px,#1cffdc 76.5px,#4fffa9 83.5px,#a9ff49 96.5px,#f9fe05 105.5px,#ffdf00 109.5px,#ff9800 117.5px,#ff2c00 134.5px,#ff0200 142.5px,#fc0603 145.5px,#f4140c 146.5px,#e3341f 147.5px,#cc5e38 148.5px,#a89f5e 149.5px,#92c977 150.5px,#81e989 151.5px,#7af690 152.5px,#7cfe8d 165.5px,#7eff8a 174.5px,#13faed 255.5px,#03eafc 271.5px,#07e7f8 272.5px,#41cabe 273.5px,#bf8a40 274.5px,#f96506 275.5px,#ff5400 277.5px,#ff6500 280.5px,#ffea00 289.5px,#f7ff07 292.5px,#9fff51 315.5px,#84ff71 331.5px,#4bffad 393.5px,#21ffd7 441.5px,#0cfced 473.5px,#00eaff 564.5px,#00d0ff 685.5px,#00ceff 697.5px,#00cdff 699.5px)"></i>
<i style="top:48px;height:1px;background:linear-gradient(90deg,#0037ff 0.5px,#006fff 36.5px,#009fff 51.5px,#00d4ff 61.5px,#04f3fa 71.5px,#1dffdb 77.5px,#50ffa8 84.5px,#aeff44 97.5px,#fdfb02 106.5px,#ff9800 117.5px,#ff2e00 133.5px,#ff0300 141.5px,#fc0603 147.5px,#f4140c 148.5px,#e3341f 149.5px,#cc5e37 150.5px,#aa9e5d 151.5px,#99be6e 152.5px,#91cf77 153.5px,#82eb87 154.5px,#79fc91 156.5px,#7eff8a 174.5px,#13faed 255.5px,#03eafc 271.5px,#07e7f8 272.5px,#41cabe 273.5px,#bf8940 274.5px,#f96406 275.5px,#ff5300 277.5px,#ff6400 280.5px,#ffe900 289.5px,#f8fe06 292.5px,#98ff5a 318.5px,#81ff74 336.5px,#4cffac 392.5px,#23ffd5 439.5px,#0dfcec 471.5px,#00ebff 560.5px,#00d1ff 681.5px,#00cdff 699.5px)"></i>
<i style="top:49px;height:1px;background:linear-gradient(90deg,#0034ff 0.5px,#006fff 37.5px,#00a0ff 52.5px,#00d3ff 62.5px,#04f3fa 72.5px,#16fee2 77.5px,#52ffa6 85.5px,#b5ff3e 98.5px,#fcfc02 106.5px,#ff9800 117.5px,#ff3900 131.5px,#ff0700 139.5px,#fe0201 148.5px,#fc0603 149.5px,#f4140c 150.5px,#e4321d 151.5px,#dc4626 152.5px,#cc6737 153.5px,#aaa75c 154.5px,#93cf74 155.5px,#83ec86 156.5px,#7afc90 158.5px,#7eff8a 174.5px,#13faed 255.5px,#03eafc 271.5px,#07e7f8 272.5px,#41cabe 273.5px,#bf8b40 274.5px,#f96506 275.5px,#ff5400 277.5px,#ff6500 280.5px,#ffe800 289.5px,#f9fe05 292.5px,#96ff5c 319.5px,#80ff76 338.5px,#4cffac 391.5px,#25ffd3 437.5px,#0dfcec 470.5px,#00ebff 559.5px,#00d1ff 680.5px,#00cdff 698.5px,#00cdff 699.5px)"></i>
<i style="top:50px;height:1px;background:linear-gradient(90deg,#0031ff 0.5px,#0070ff 38.5px,#00a0ff 53.5px,#00d6ff 64.5px,#06f5f7 74.5px,#1fffda 79.5px,#53ffa5 86.5px,#b1ff42 98.5px,#fbfd03 106.5px,#ff9800 117.5px,#ff3c00 130.5px,#ff0700 138.5px,#ff0000 148.5px,#fb0a04 152.5px,#f41c0c 153.5px,#cd6e36 155.5px,#aaac5c 156.5px,#94d274 157.5px,#84ed85 158.5px,#7bfd8f 160.5px,#7eff8a 174.5px,#13faed 255.5px,#03eafc 271.5px,#07e7f8 272.5px,#41cbbe 273.5px,#bf8e40 274.5px,#f96906 275.5px,#ff5900 277.5px,#ff6800 280.5px,#ffe800 289.5px,#fafe04 292.5px,#96ff5c 319.5px,#80ff75 337.5px,#4cffac 392.5px,#23ffd5 439.5px,#0dfcec 471.5px,#00ebff 560.5px,#00d1ff 681.5px,#00cdff 699.5px)"></i>
<i style="top:51px;height:1px;background:linear-gradient(90deg,#002ffe 0.5px,#0070ff 39.5px,#00a1ff 54.5px,#00ddff 67.5px,#06f5f7 75.5px,#1fffd9 80.5px,#54ffa4 87.5px,#b7ff3c 99.5px,#fafd04 106.5px,#ffc500 112.5px,#ff8b00 119.5px,#ff0d00 136.5px,#ff0000 141.5px,#fe0501 153.5px,#fc1003 154.5px,#f4270c 155.5px,#cd7836 157.5px,#abb25b 158.5px,#95d673 159.5px,#84ef84 160.5px,#7bfd8e 162.5px,#7eff8a 174.5px,#13faed 255.5px,#03eafc 271.5px,#07e7f8 272.5px,#41cdbe 273.5px,#bf9240 274.5px,#f97006 275.5px,#ff5f00 277.5px,#ff6e00 280.5px,#fff200 290.5px,#f5ff08 293.5px,#96ff5b 319.5px,#80ff75 337.5px,#4cffac 392.5px,#23ffd5 439.5px,#0dfcec 471.5px,#00ebff 560.5px,#00d1ff 681.5px,#00cdff 699.5px)"></i>
<i style="top:52px;height:1px;background:linear-gradient(90deg,#002dfe 0.5px,#006dff 39.5px,#00a1ff 55.5px,#00e4ff 70.5px,#09f8f3 77.5px,#20ffd8 81.5px,#86ff6f 94.5px,#f8fe06 106.5px,#ffdc00 110.5px,#ff9200 118.5px,#ff3b00 129.5px,#ff0800 136.5px,#ff0000 144.5px,#ff0400 154.5px,#fc1c03 156.5px,#f4340b 157.5px,#ce8135 159.5px,#abb75a 160.5px,#95d972 161.5px,#85f083 162.5px,#7efb8b 164.5px,#7eff8a 174.5px,#13faed 255.5px,#03eafc 271.5px,#07e7f8 272.5px,#41cfbe 273.5px,#bf9840 274.5px,#f97806 275.5px,#ff6800 277.5px,#ff7500 280.5px,#fff200 290.5px,#f6ff07 293.5px,#94ff5e 320.5px,#6dff8b 356.5px,#48ffb0 399.5px,#0efdeb 467.5px,#00ecff 555.5px,#00d2ff 676.5px,#00cdff 698.5px,#00cdff 699.5px)"></i>
<i style="top:53px;height:1px;background:linear-gradient(90deg,#002cfd 0.5px,#0062ff 36.5px,#00a2ff 56.5px,#01eefe 74.5px,#11fde8 80.5px,#51ffa7 88.5px,#a5ff4c 98.5px,#fdfb02 107.5px,#ff9100 118.5px,#ff3f00 128.5px,#ff0900 135.5px,#ff0000 142.5px,#ff0400 155.5px,#fc2b03 158.5px,#f4420b 159.5px,#ce8b35 161.5px,#acbd59 162.5px,#9dd56a 163.5px,#7ffb89 166.5px,#79ff8f 175.5px,#25ffdb 240.5px,#0cf3f4 262.5px,#03eafc 271.5px,#07e7f8 272.5px,#41d1be 273.5px,#bf9f40 274.5px,#f98106 275.5px,#ff7300 277.5px,#ff7d00 280.5px,#fff300 290.5px,#f2ff0b 294.5px,#95ff5d 320.5px,#70ff88 353.5px,#49ffaf 397.5px,#0efdeb 467.5px,#00ecff 555.5px,#00d2ff 676.5px,#00cdff 698.5px,#00cdff 699.5px)"></i>
<i style="top:54px;height:1px;background:linear-gradient(90deg,#002afc 0.5px,#0048ff 22.5px,#0073ff 43.5px,#00a7ff 58.5px,#03f3fa 77.5px,#19ffdf 82.5px,#52ffa6 89.5px,#b6ff3d 100.5px,#fcfc02 107.5px,#ff9100 118.5px,#ff4300 127.5px,#ff0f00 133.5px,#ff0000 138.5px,#ff0500 156.5px,#fc3b03 160.5px,#cea035 164.5px,#adc959 165.5px,#87f481 167.5px,#7efe8a 170.5px,#2bffd5 236.5px,#10f7f0 258.5px,#03eafc 271.5px,#07e8f8 272.5px,#41d4be 273.5px,#bfa740 274.5px,#f98c06 275.5px,#ff7d00 278.5px,#ff9000 281.5px,#fff400 290.5px,#f2ff0a 294.5px,#bbff39 309.5px,#91ff62 322.5px,#4dffab 390.5px,#26ffd2 436.5px,#0dfcec 470.5px,#00ebff 559.5px,#00d1ff 680.5px,#00cdff 698.5px,#00cdff 699.5px)"></i>
<i style="top:55px;height:1px;background:linear-gradient(90deg,#0029fc 0.5px,#0041ff 20.5px,#0073ff 44.5px,#00acff 60.5px,#03f3fa 78.5px,#1affdf 83.5px,#54ffa4 90.5px,#beff37 101.5px,#fbfd04 107.5px,#ff8900 119.5px,#ff3300 128.5px,#ff0500 134.5px,#ff0100 156.5px,#ff1e00 159.5px,#fb5904 163.5px,#f56e0b 164.5px,#cfa934 166.5px,#adcf58 167.5px,#88f580 169.5px,#7fff89 172.5px,#13faed 255.5px,#03eafc 271.5px,#07e8f8 272.5px,#41d6be 273.5px,#bfb040 274.5px,#f99806 275.5px,#ff8900 278.5px,#ffa300 282.5px,#fff500 290.5px,#f3ff0a 294.5px,#c0ff34 308.5px,#93ff5f 321.5px,#53ffa5 380.5px,#2dffcb 430.5px,#0efdeb 468.5px,#00ecff 556.5px,#00d2ff 677.5px,#00cdff 699.5px)"></i>
<i style="top:56px;height:1px;background:linear-gradient(90deg,#0027fb 0.5px,#003dff 20.5px,#0073ff 45.5px,#00b0ff 62.5px,#03f3fa 79.5px,#1affde 84.5px,#7aff7c 95.5px,#f0ff0c 106.5px,#ffee00 109.5px,#ff9100 118.5px,#ff4e00 125.5px,#ff1200 131.5px,#ff0000 135.5px,#ff0200 157.5px,#ff2100 160.5px,#fc6903 165.5px,#e4971d 167.5px,#cfb234 168.5px,#aed457 169.5px,#89f77f 171.5px,#75ff92 177.5px,#2bffd5 236.5px,#10f7f0 258.5px,#03eafc 271.5px,#07e8f8 272.5px,#41d9be 273.5px,#bfb840 274.5px,#f9a406 275.5px,#ff9600 278.5px,#ffac00 282.5px,#fff600 290.5px,#f0ff0c 295.5px,#c6ff30 307.5px,#95ff5d 320.5px,#80ff76 338.5px,#4cffac 391.5px,#25ffd3 437.5px,#0dfcec 470.5px,#00ebff 559.5px,#00d1ff 680.5px,#00cdff 698.5px,#00cdff 699.5px)"></i>
<i style="top:57px;height:1px;background:linear-gradient(90deg,#0026fa 0.5px,#003cff 21.5px,#0077ff 47.5px,#00bdff 66.5px,#03f3fa 80.5px,#1bffdd 85.5px,#74ff83 95.5px,#e4ff16 105.5px,#fdf901 108.5px,#ff8800 119.5px,#ff3d00 126.5px,#ff0c00 131.5px,#ff0000 135.5px,#ff0300 158.5px,#ff4100 163.5px,#fc7a03 167.5px,#e5a31c 169.5px,#cfbb33 170.5px,#aed957 171.5px,#89f87e 173.5px,#78fe8f 177.5px,#14faeb 255.5px,#04ebfb 271.5px,#09e9f6 272.5px,#42dcbd 273.5px,#c0c13f 274.5px,#f9af06 275.5px,#ffa300 278.5px,#ffb400 282.5px,#fff800 290.5px,#e9ff12 298.5px,#95ff5c 320.5px,#80ff76 338.5px,#4cffac 391.5px,#25ffd3 437.5px,#0dfcec 470.5px,#00ebff 559.5px,#00d1ff 680.5px,#00cdff 698.5px,#00cdff 699.5px)"></i>
<i style="top:58px;height:1px;background:linear-gradient(90deg,#0024f9 0.5px,#003aff 22.5px,#0077ff 48.5px,#00ccff 71.5px,#03f3fa 81.5px,#1cffdc 86.5px,#78ff7f 96.5px,#e1ff19 105.5px,#fdfb02 108.5px,#ff5000 124.5px,#ff1400 129.5px,#ff0000 133.5px,#ff0500 159.5px,#fc8903 169.5px,#e5ad1c 171.5px,#d0c333 172.5px,#afdd55 173.5px,#9fea66 174.5px,#8bff78 186.5px,#60ff9e 207.5px,#23f9db 258.5px,#1beee2 272.5px,#50e3ae 273.5px,#c4cb3a 274.5px,#fabb05 275.5px,#ffaf00 278.5px,#ffc400 283.5px,#fff900 290.5px,#d1ff26 305.5px,#98ff59 319.5px,#81ff74 336.5px,#4cffac 392.5px,#23ffd5 439.5px,#0dfcec 471.5px,#00ebff 560.5px,#00d1ff 681.5px,#00cdff 699.5px)"></i>
<i style="top:59px;height:1px;background:linear-gradient(90deg,#0023f9 0.5px,#003aff 24.5px,#007aff 50.5px,#03f3fa 82.5px,#14fee5 86.5px,#71ff86 96.5px,#d2ff25 104.5px,#fcfc03 108.5px,#ff5800 123.5px,#ff1600 128.5px,#ff0100 132.5px,#ff0200 159.5px,#ff2000 162.5px,#fc9703 171.5px,#dfc222 174.5px,#dafc27 183.5px,#97ff5f 197.5px,#69ff90 219.5px,#3ffabb 271.5px,#43f9b7 272.5px,#6fee8c 273.5px,#cfd72f 274.5px,#fbc704 275.5px,#ffbb00 279.5px,#ffdb00 285.5px,#fdfe01 291.5px,#d2ff25 305.5px,#98ff59 319.5px,#81ff74 336.5px,#4cffac 392.5px,#23ffd5 439.5px,#0dfcec 471.5px,#00ebff 560.5px,#00d1ff 681.5px,#00cdff 699.5px)"></i>
<i style="top:60px;height:1px;background:linear-gradient(90deg,#0424f6 0.5px,#043cfd 26.5px,#007bff 51.5px,#03f3fa 83.5px,#15fee4 87.5px,#75ff81 97.5px,#ceff29 104.5px,#fafd04 108.5px,#ff6100 122.5px,#ff1800 127.5px,#ff0100 131.5px,#ff0400 160.5px,#ff5000 166.5px,#fda402 173.5px,#fbf904 183.5px,#c0ff36 193.5px,#a1ff50 200.5px,#77ff80 218.5px,#55fea3 272.5px,#7df57d 273.5px,#d3e12a 274.5px,#fbd304 275.5px,#ffc600 279.5px,#ffe200 285.5px,#fdfe02 291.5px,#d3ff24 305.5px,#99ff59 319.5px,#82ff74 335.5px,#4cffac 392.5px,#23ffd5 439.5px,#0dfcec 471.5px,#00ebff 560.5px,#00d1ff 681.5px,#00cdff 699.5px)"></i>
<i style="top:61px;height:1px;background:linear-gradient(90deg,#2a42e3 0.5px,#2a57e9 28.5px,#295cea 31.5px,#2058ee 32.5px,#0d4ef8 33.5px,#044dfd 35.5px,#0088ff 56.5px,#03f3fa 84.5px,#15fee3 88.5px,#6dff8a 97.5px,#caff2c 104.5px,#f8fd06 108.5px,#ffa500 116.5px,#ff5b00 122.5px,#ff1b00 126.5px,#ff0300 129.5px,#ff0100 160.5px,#ff1e00 163.5px,#ff9300 172.5px,#fefb01 184.5px,#aaff47 198.5px,#78ff7f 218.5px,#57fea1 272.5px,#7ef97c 273.5px,#d4eb29 274.5px,#fbe004 275.5px,#ffd100 279.5px,#ffed00 286.5px,#f9ff05 292.5px,#d8ff20 304.5px,#99ff58 319.5px,#82ff73 335.5px,#4cffac 392.5px,#23ffd5 439.5px,#0dfcec 471.5px,#00ebff 560.5px,#00d1ff 681.5px,#00cdff 699.5px)"></i>
<i style="top:62px;height:1px;background:linear-gradient(90deg,#7e86bc 0.5px,#7c8dbf 31.5px,#6982c9 32.5px,#3f6ade 33.5px,#2c60e8 34.5px,#205fee 37.5px,#0d56f8 38.5px,#0456fd 40.5px,#00a7ff 66.5px,#03f2fa 85.5px,#16fee3 89.5px,#71ff86 98.5px,#c4ff31 104.5px,#fdf902 109.5px,#ff6800 121.5px,#ff2000 125.5px,#ff0400 128.5px,#ff0300 161.5px,#ff4100 166.5px,#ff9800 173.5px,#fff900 184.5px,#c9ff2c 193.5px,#a9ff49 199.5px,#78ff7f 219.5px,#57ffa1 272.5px,#7efc7c 273.5px,#d4f429 274.5px,#fbeb04 275.5px,#ffdd00 279.5px,#fbff03 291.5px,#ddff1c 303.5px,#99ff58 319.5px,#82ff73 335.5px,#4cffac 392.5px,#23ffd5 439.5px,#0dfcec 471.5px,#00ebff 560.5px,#00d1ff 681.5px,#00cdff 699.5px)"></i>
<i style="top:63px;height:1px;background:linear-gradient(90deg,#a4a5aa 0.5px,#a3a5aa 31.5px,#9ba0af 32.5px,#8894b9 33.5px,#7c8fbf 36.5px,#6985c9 37.5px,#3f6fde 38.5px,#2c66e8 39.5px,#2065ee 42.5px,#0d5df8 43.5px,#045efd 45.5px,#00cbff 77.5px,#05f5f7 87.5px,#1ffeda 91.5px,#66ff91 98.5px,#bdff37 104.5px,#fbfb04 109.5px,#ff6700 121.5px,#ff1c00 125.5px,#ff0200 128.5px,#ff0100 161.5px,#ff1e00 164.5px,#ff9300 173.5px,#fefb01 185.5px,#aaff47 199.5px,#78ff7f 219.5px,#57ffa1 272.5px,#7efe7c 273.5px,#d2fb2b 274.5px,#faf605 275.5px,#ffe700 280.5px,#faff04 291.5px,#deff1b 303.5px,#99ff58 319.5px,#82ff73 335.5px,#4cffac 392.5px,#23ffd5 439.5px,#0dfcec 471.5px,#00ebff 560.5px,#00d1ff 681.5px,#00cdff 699.5px)"></i>
<i style="top:64px;height:1px;background:linear-gradient(90deg,#a8a8a8 0.5px,#a3a5aa 36.5px,#9ba1af 37.5px,#8896b9 38.5px,#7c91bf 41.5px,#6988c9 42.5px,#3f73de 43.5px,#2c6be8 44.5px,#206bee 47.5px,#0d64f8 48.5px,#0464fd 50.5px,#00d0ff 80.5px,#04f4f9 88.5px,#1dfedc 92.5px,#68ff90 99.5px,#c2ff33 105.5px,#f7fd07 109.5px,#ffd000 113.5px,#ff6900 121.5px,#ff1c00 125.5px,#ff0200 128.5px,#ff0300 162.5px,#ff5e00 169.5px,#ffa200 175.5px,#fef900 185.5px,#c2ff33 195.5px,#a5ff4b 201.5px,#78ff7f 220.5px,#57ffa1 272.5px,#7cff7d 273.5px,#cefe2e 274.5px,#f6fc08 275.5px,#fff100 280.5px,#f6ff07 293.5px,#deff1b 303.5px,#99ff58 319.5px,#82ff73 335.5px,#4cffac 392.5px,#23ffd5 439.5px,#0dfcec 471.5px,#00ebff 560.5px,#00d1ff 681.5px,#00cdff 699.5px)"></i>
<i style="top:65px;height:1px;background:linear-gradient(90deg,#a8a8a8 0.5px,#a3a6aa 41.5px,#9ba1af 42.5px,#8897b9 43.5px,#7c93bf 46.5px,#698ac9 47.5px,#3f77de 48.5px,#2c6fe8 49.5px,#2070ee 52.5px,#0d6af8 53.5px,#046bfd 55.5px,#00d2ff 82.5px,#06f5f6 90.5px,#25ffd3 94.5px,#68ff8f 100.5px,#c6ff30 106.5px,#fafa04 110.5px,#ff6d00 121.5px,#ff1f00 125.5px,#ff0200 128.5px,#ff0200 162.5px,#ff2000 165.5px,#ff8b00 173.5px,#fdfc01 186.5px,#adff45 199.5px,#78ff7f 220.5px,#57ffa1 272.5px,#7aff7f 273.5px,#c7ff34 274.5px,#efff0e 275.5px,#fef901 279.5px,#f2ff0a 296.5px,#d6ff21 305.5px,#9aff58 319.5px,#82ff73 335.5px,#4cffac 392.5px,#23ffd5 439.5px,#0dfcec 471.5px,#00ebff 560.5px,#00d1ff 681.5px,#00cdff 699.5px)"></i>
<i style="top:66px;height:1px;background:linear-gradient(90deg,#a8a8a8 0.5px,#a3a6aa 46.5px,#9ba2af 47.5px,#8898b9 48.5px,#7c95bf 51.5px,#698dc9 52.5px,#3f7bde 53.5px,#2c74e8 54.5px,#2075ee 57.5px,#0d70f8 58.5px,#0473fd 60.5px,#00d3ff 84.5px,#05f4f8 91.5px,#22ffd6 95.5px,#69ff8e 101.5px,#cbff2b 107.5px,#f6fd08 110.5px,#ffcd00 114.5px,#ff7000 121.5px,#ff1400 126.5px,#ff0000 129.5px,#ff0400 163.5px,#ff9100 174.5px,#fefb01 186.5px,#abff47 200.5px,#78ff7e 220.5px,#57ffa1 272.5px,#78ff81 273.5px,#c1ff39 274.5px,#e6ff15 275.5px,#fafe04 279.5px,#f3ff0a 296.5px,#d7ff21 305.5px,#9aff57 319.5px,#82ff73 335.5px,#4cffac 392.5px,#23ffd5 439.5px,#0dfcec 471.5px,#00ebff 560.5px,#00d1ff 681.5px,#00cdff 699.5px)"></i>
<i style="top:67px;height:1px;background:linear-gradient(90deg,#a8a8a8 0.5px,#a3a6aa 51.5px,#9ba2af 52.5px,#8899b9 53.5px,#7c96bf 56.5px,#698fc9 57.5px,#3f7ede 58.5px,#2c78e8 59.5px,#207cee 62.5px,#0d78f8 63.5px,#047bfd 65.5px,#00daff 87.5px,#07f6f5 93.5px,#1ffed9 96.5px,#6aff8e 102.5px,#d0ff27 108.5px,#fafa04 111.5px,#ff7300 121.5px,#ff1600 126.5px,#ff0000 129.5px,#ff0300 163.5px,#ff4f00 169.5px,#ff9800 175.5px,#fff900 186.5px,#c9ff2c 195.5px,#a9ff49 201.5px,#78ff7f 221.5px,#57ffa1 272.5px,#76ff82 273.5px,#bbff3e 274.5px,#deff1b 275.5px,#f6ff08 280.5px,#f0ff0c 298.5px,#beff36 310.5px,#92ff60 322.5px,#54ffa4 379.5px,#2dffcb 430.5px,#0efdeb 468.5px,#00ecff 556.5px,#00d2ff 677.5px,#00cdff 699.5px)"></i>
<i style="top:68px;height:1px;background:linear-gradient(90deg,#a8a8a8 0.5px,#a3a6aa 56.5px,#9ba2af 57.5px,#889bb9 58.5px,#7c98bf 61.5px,#6992c9 62.5px,#3f83de 63.5px,#2c7ee8 64.5px,#2083ee 67.5px,#0d80f8 68.5px,#0484fd 70.5px,#00e1ff 90.5px,#0bf8f0 95.5px,#5bff9d 102.5px,#d6ff22 109.5px,#fcf502 112.5px,#ff6400 122.5px,#ff1800 126.5px,#ff0100 129.5px,#ff0200 163.5px,#ff2100 166.5px,#ff8b00 174.5px,#fdfc01 187.5px,#adff45 200.5px,#78ff7f 221.5px,#57ffa1 272.5px,#74ff84 273.5px,#b5ff43 274.5px,#d7ff21 275.5px,#f2ff0b 281.5px,#f2ff0b 297.5px,#ceff29 307.5px,#97ff5a 320.5px,#80ff75 337.5px,#4cffac 392.5px,#23ffd5 439.5px,#0dfcec 471.5px,#00ebff 560.5px,#00d1ff 681.5px,#00cdff 699.5px)"></i>
<i style="top:69px;height:1px;background:linear-gradient(90deg,#a8a8a8 0.5px,#a3a6aa 61.5px,#9ba3af 62.5px,#889cb9 63.5px,#7c9abf 66.5px,#6995c9 67.5px,#3f89de 68.5px,#2c85e8 69.5px,#208bee 72.5px,#0d89f8 73.5px,#048efd 75.5px,#02eefc 94.5px,#10faeb 97.5px,#6bff8c 104.5px,#dcff1d 110.5px,#f9fa05 112.5px,#ff6700 122.5px,#ff1a00 126.5px,#ff0100 129.5px,#ff0500 164.5px,#ff9300 175.5px,#fefb01 187.5px,#aaff47 201.5px,#78ff7f 221.5px,#57ffa1 272.5px,#73ff85 273.5px,#b1ff46 274.5px,#d1ff26 275.5px,#edff0f 281.5px,#f4ff09 296.5px,#d8ff20 305.5px,#9aff57 319.5px,#82ff73 335.5px,#4cffac 392.5px,#23ffd5 439.5px,#0dfcec 471.5px,#00ebff 560.5px,#00d1ff 681.5px,#00cdff 699.5px)"></i>
<i style="top:70px;height:1px;background:linear-gradient(90deg,#a8a8a8 0.5px,#a3a7aa 66.5px,#9ba4af 67.5px,#889eb9 68.5px,#7c9dbf 71.5px,#6999c9 72.5px,#3f8fde 73.5px,#2c8ce8 74.5px,#2093ee 77.5px,#0d93f8 78.5px,#0499fd 80.5px,#03f1fa 96.5px,#16fce3 99.5px,#6cff8b 105.5px,#cfff28 110.5px,#f3fc0a 112.5px,#ffe600 114.5px,#ff6b00 122.5px,#ff1c00 126.5px,#ff0100 129.5px,#ff0400 164.5px,#ff9100 175.5px,#fefa01 187.5px,#abff47 201.5px,#78ff7f 222.5px,#57ffa1 272.5px,#71ff86 273.5px,#adff4a 274.5px,#ccff2a 275.5px,#e9ff12 281.5px,#f5ff08 295.5px,#e1ff18 303.5px,#9aff57 319.5px,#82ff73 334.5px,#4cffac 392.5px,#23ffd5 439.5px,#0dfcec 471.5px,#00ebff 560.5px,#00d1ff 681.5px,#00cdff 699.5px)"></i>
<i style="top:71px;height:1px;background:linear-gradient(90deg,#a8a8a8 0.5px,#a3a7aa 71.5px,#9ba5af 72.5px,#88a0b9 73.5px,#7ca0bf 76.5px,#699dc9 77.5px,#3f95de 78.5px,#2c94e8 79.5px,#209dee 82.5px,#0d9ef8 83.5px,#04a7fd 85.5px,#02eefc 97.5px,#13fbe6 100.5px,#6dff8a 106.5px,#d6ff22 111.5px,#f8f906 113.5px,#ff9000 120.5px,#ff1100 127.5px,#ff0000 130.5px,#ff0300 164.5px,#ff8f00 175.5px,#fefa00 187.5px,#c1ff34 197.5px,#a5ff4c 203.5px,#78ff7f 222.5px,#57ffa1 272.5px,#71ff87 273.5px,#aaff4c 274.5px,#c9ff2e 275.5px,#e6ff14 281.5px,#f5ff08 294.5px,#e6ff15 302.5px,#9aff57 319.5px,#82ff73 334.5px,#4cffac 392.5px,#23ffd5 439.5px,#0dfcec 471.5px,#00ebff 560.5px,#00d1ff 681.5px,#00cdff 699.5px)"></i>
<i style="top:72px;height:1px;background:linear-gradient(90deg,#a8a8a8 0.5px,#a3a7aa 76.5px,#9ba5af 77.5px,#88a2b9 78.5px,#7ca2bf 81.5px,#69a1c9 82.5px,#3f9dde 83.5px,#2c9de8 84.5px,#20a9ee 87.5px,#0dacf8 88.5px,#04b7fd 90.5px,#04f1fa 99.5px,#1dfddc 102.5px,#6eff89 107.5px,#deff1c 112.5px,#fbf303 114.5px,#ff5e00 123.5px,#ff1300 127.5px,#ff0000 130.5px,#ff0300 164.5px,#ff4f00 170.5px,#ff9800 176.5px,#fff900 187.5px,#c9ff2c 196.5px,#a9ff49 202.5px,#78ff7f 222.5px,#57ffa1 272.5px,#70ff87 273.5px,#a8ff4e 274.5px,#c6ff30 275.5px,#e4ff16 281.5px,#f6ff08 294.5px,#e6ff15 302.5px,#9aff57 319.5px,#82ff73 334.5px,#4cffac 392.5px,#23ffd5 439.5px,#0dfcec 471.5px,#00ebff 560.5px,#00d1ff 681.5px,#00cdff 699.5px)"></i>
<i style="top:73px;height:1px;background:linear-gradient(90deg,#a8a8a8 0.5px,#a3a7aa 81.5px,#9ba6af 82.5px,#88a4b9 83.5px,#7ca6bf 86.5px,#69a6c9 87.5px,#3fa6de 88.5px,#2ca9e8 89.5px,#20b7ee 92.5px,#0dbdf8 93.5px,#04cafd 95.5px,#03eefb 100.5px,#19fce0 103.5px,#6fff88 108.5px,#e6fe15 113.5px,#feeb01 115.5px,#ff6200 123.5px,#ff1600 127.5px,#ff0000 130.5px,#ff0200 164.5px,#ff4000 169.5px,#ff9700 176.5px,#fdfd02 188.5px,#acff46 201.5px,#78ff7f 222.5px,#57ffa1 272.5px,#70ff88 273.5px,#a7ff4f 274.5px,#c4ff31 275.5px,#e6ff14 282.5px,#f6ff08 294.5px,#e6ff14 302.5px,#9aff57 319.5px,#82ff73 334.5px,#4cffac 392.5px,#23ffd5 439.5px,#0dfcec 471.5px,#00ebff 560.5px,#00d1ff 681.5px,#00cdff 699.5px)"></i>
<i style="top:74px;height:1px;background:linear-gradient(90deg,#a8a8a8 0.5px,#a3a8aa 86.5px,#9ba7af 87.5px,#88a7b9 88.5px,#7cabbf 91.5px,#69adc9 92.5px,#3fb2de 93.5px,#2cb7e8 94.5px,#20c9ee 97.5px,#0dd2f8 98.5px,#04e3fc 100.5px,#0cf6f0 103.5px,#37ffc1 106.5px,#70ff86 109.5px,#d7ff21 113.5px,#fbf204 115.5px,#ff6600 123.5px,#ff1800 127.5px,#ff0300 129.5px,#ff0200 164.5px,#ff3100 168.5px,#ff8d00 175.5px,#fdfd01 188.5px,#acff46 201.5px,#78ff7f 222.5px,#57ffa1 272.5px,#70ff88 273.5px,#a7ff4f 274.5px,#c4ff31 275.5px,#e6ff14 282.5px,#f6ff08 294.5px,#e6ff14 302.5px,#9aff57 319.5px,#82ff73 334.5px,#4cffac 392.5px,#23ffd5 439.5px,#0dfcec 471.5px,#00ebff 560.5px,#00d1ff 681.5px,#00cdff 699.5px)"></i>
<i style="top:75px;height:1px;background:linear-gradient(90deg,#a8a8a8 0.5px,#a3a8aa 91.5px,#9ba9af 92.5px,#88aab9 93.5px,#7cb0bf 96.5px,#69b5c9 97.5px,#3fc0de 98.5px,#2cc8e8 99.5px,#22deed 102.5px,#11eaf4 103.5px,#0df3f2 104.5px,#36fdc3 107.5px,#72ff84 110.5px,#e0fe1a 114.5px,#f5f809 115.5px,#ffd700 117.5px,#ff1a00 127.5px,#ff0300 129.5px,#ff0200 164.5px,#ff3100 168.5px,#ff8d00 175.5px,#fdfd01 188.5px,#acff46 201.5px,#78ff7f 222.5px,#57ffa1 272.5px,#70ff87 273.5px,#a7ff4e 274.5px,#c5ff31 275.5px,#e7ff14 282.5px,#f6ff08 295.5px,#e2ff18 303.5px,#9aff57 319.5px,#82ff72 334.5px,#4cffac 392.5px,#23ffd5 439.5px,#0dfcec 471.5px,#00ebff 560.5px,#00d1ff 681.5px,#00cdff 699.5px)"></i>
<i style="top:76px;height:1px;background:linear-gradient(90deg,#a8a8a8 0.5px,#a3a9aa 96.5px,#9babaf 97.5px,#88afb9 98.5px,#7cb7bf 101.5px,#69c0c9 102.5px,#40d1de 103.5px,#2edce5 104.5px,#3df8c2 108.5px,#5efd9c 110.5px,#e9fc12 115.5px,#f9f105 116.5px,#ff4400 125.5px,#ff0e00 128.5px,#ff0100 130.5px,#ff0200 164.5px,#ff4000 169.5px,#ff9700 176.5px,#fdfd02 188.5px,#acff46 201.5px,#78ff7f 222.5px,#57ffa1 272.5px,#70ff87 273.5px,#a9ff4d 274.5px,#c7ff2f 275.5px,#e6ff15 281.5px,#f6ff07 294.5px,#e6ff14 302.5px,#9aff57 319.5px,#82ff72 334.5px,#4cffac 392.5px,#23ffd5 439.5px,#0dfcec 471.5px,#00ebff 560.5px,#00d1ff 681.5px,#00cdff 699.5px)"></i>
<i style="top:77px;height:1px;background:linear-gradient(90deg,#a8a8a8 0.5px,#a3aaaa 101.5px,#9badaf 102.5px,#88b4b9 103.5px,#7fbbbc 105.5px,#80bdba 106.5px,#72c8bd 107.5px,#56dec4 108.5px,#54e8bb 109.5px,#87ee80 112.5px,#b7fd41 114.5px,#f1f50e 116.5px,#fed301 118.5px,#ff1000 128.5px,#ff0100 130.5px,#ff0300 164.5px,#ff4f00 170.5px,#ff9800 176.5px,#fff900 187.5px,#c9ff2c 196.5px,#a9ff49 202.5px,#78ff7f 222.5px,#57ffa1 272.5px,#71ff86 273.5px,#acff4b 274.5px,#cbff2c 275.5px,#e8ff13 281.5px,#f6ff07 294.5px,#e6ff14 302.5px,#9aff57 319.5px,#82ff73 334.5px,#4cffac 392.5px,#23ffd5 439.5px,#0dfcec 471.5px,#00ebff 560.5px,#00d1ff 681.5px,#00cdff 699.5px)"></i>
<i style="top:78px;height:1px;background:linear-gradient(90deg,#a8a8a8 0.5px,#a4aaaa 106.5px,#8db9b2 108.5px,#90beaa 110.5px,#96c998 112.5px,#96de81 113.5px,#a6e866 114.5px,#dae636 116.5px,#f8d60e 118.5px,#fdb304 120.5px,#ff1300 128.5px,#ff0100 130.5px,#ff0300 164.5px,#ff8f00 175.5px,#fefa00 187.5px,#c1ff34 197.5px,#a5ff4c 203.5px,#78ff7f 222.5px,#57ffa1 272.5px,#72ff85 273.5px,#afff48 274.5px,#cfff28 275.5px,#ecff10 281.5px,#f6ff08 295.5px,#e2ff18 303.5px,#9aff57 319.5px,#82ff73 334.5px,#4cffac 392.5px,#23ffd5 439.5px,#0dfcec 471.5px,#00ebff 560.5px,#00d1ff 681.5px,#00cdff 699.5px)"></i>
<i style="top:79px;height:1px;background:linear-gradient(90deg,#a8a8a8 0.5px,#a6aaa8 111.5px,#a6bd94 114.5px,#b8bd81 116.5px,#c7c16a 117.5px,#dec93f 118.5px,#e8c22c 119.5px,#ee9220 122.5px,#f87b0d 123.5px,#fd5004 125.5px,#ff0800 129.5px,#ff0000 134.5px,#ff0400 164.5px,#ff9100 175.5px,#fefa01 187.5px,#abff47 201.5px,#78ff7f 222.5px,#57ffa1 272.5px,#74ff84 273.5px,#b4ff44 274.5px,#d5ff23 275.5px,#f0ff0c 281.5px,#f5ff08 296.5px,#d9ff1f 305.5px,#9aff57 319.5px,#82ff73 334.5px,#4cffac 392.5px,#23ffd5 439.5px,#0dfcec 471.5px,#00ebff 560.5px,#00d1ff 681.5px,#00cdff 699.5px)"></i>
<i style="top:80px;height:1px;background:linear-gradient(90deg,#a8a8a8 0.5px,#aaaaa4 116.5px,#afad9b 117.5px,#b9b288 118.5px,#bfa77c 121.5px,#c99c69 122.5px,#de893f 123.5px,#e8762c 124.5px,#f03b1d 127.5px,#fa1d0a 128.5px,#ff0901 129.5px,#ff0000 132.5px,#ff0500 164.5px,#ff9300 175.5px,#fefb01 187.5px,#aaff47 201.5px,#78ff7f 221.5px,#57ffa1 272.5px,#75ff83 273.5px,#b9ff40 274.5px,#dcff1e 275.5px,#f4ff09 280.5px,#f5ff08 296.5px,#d9ff1f 305.5px,#9aff57 319.5px,#82ff73 334.5px,#4cffac 392.5px,#23ffd5 439.5px,#0dfcec 471.5px,#00ebff 560.5px,#00d1ff 681.5px,#00cdff 699.5px)"></i>
<i style="top:81px;height:1px;background:linear-gradient(90deg,#a8a8a8 0.5px,#aaa8a3 120.5px,#b1a297 122.5px,#c0937a 124.5px,#c58570 125.5px,#de4c40 127.5px,#f42115 128.5px,#fe0802 129.5px,#ff0000 133.5px,#ff0200 163.5px,#ff2100 166.5px,#ff8b00 174.5px,#fdfc01 187.5px,#adff45 200.5px,#78ff7f 221.5px,#57ffa1 272.5px,#77ff81 273.5px,#beff3b 274.5px,#e3ff17 275.5px,#f9fe05 280.5px,#f2ff0b 298.5px,#bfff35 310.5px,#93ff60 322.5px,#5bff9d 372.5px,#29ffcf 434.5px,#0dfdec 469.5px,#00ecff 557.5px,#00d1ff 678.5px,#00ceff 696.5px,#00cdff 699.5px)"></i>
<i style="top:82px;height:1px;background:linear-gradient(90deg,#a8a8a8 0.5px,#aaa7a3 119.5px,#afa29b 120.5px,#be8b7e 122.5px,#c17c78 124.5px,#cb6765 125.5px,#e13c3a 126.5px,#fa0d0a 128.5px,#ff0100 130.5px,#ff0300 163.5px,#ff4f00 169.5px,#ff9800 175.5px,#fff900 186.5px,#c9ff2c 195.5px,#a9ff49 201.5px,#78ff7f 221.5px,#57ffa1 272.5px,#79ff80 273.5px,#c5ff36 274.5px,#ebff11 275.5px,#fdfc02 279.5px,#f3ff0a 297.5px,#ceff28 307.5px,#97ff5a 320.5px,#81ff74 336.5px,#4cffac 392.5px,#23ffd5 439.5px,#0dfcec 471.5px,#00ebff 560.5px,#00d1ff 681.5px,#00cdff 699.5px)"></i>
<i style="top:83px;height:1px;background:linear-gradient(90deg,#a8a8a8 0.5px,#aaaaa4 115.5px,#afac9b 116.5px,#b9af88 117.5px,#bfa27c 119.5px,#c99269 120.5px,#de723f 121.5px,#e8512c 122.5px,#e9392a 123.5px,#ee2120 125.5px,#fd0404 127.5px,#ff0400 163.5px,#ff9100 174.5px,#fefb01 186.5px,#abff47 200.5px,#78ff7e 220.5px,#57ffa1 272.5px,#7bff7e 273.5px,#cbff30 274.5px,#f4fe0a 275.5px,#fff500 279.5px,#f4ff09 296.5px,#d8ff20 305.5px,#9aff57 319.5px,#82ff73 335.5px,#4cffac 392.5px,#23ffd5 439.5px,#0dfcec 471.5px,#00ebff 560.5px,#00d1ff 681.5px,#00cdff 699.5px)"></i>
<i style="top:84px;height:1px;background:linear-gradient(90deg,#a8a8a8 0.5px,#a7aaa6 110.5px,#b5be85 114.5px,#bbbd7f 115.5px,#c8bf6a 116.5px,#debf3f 117.5px,#e8af2c 118.5px,#ee8120 120.5px,#f85d0d 121.5px,#fd1804 123.5px,#fd0804 124.5px,#ff0000 131.5px,#ff0200 162.5px,#ff2000 165.5px,#ff8b00 173.5px,#fdfc01 186.5px,#adff45 199.5px,#78ff7f 220.5px,#57ffa1 272.5px,#7dfe7c 273.5px,#d1fc2c 274.5px,#f9f906 275.5px,#ffeb00 281.5px,#faff04 292.5px,#e0ff19 303.5px,#9aff57 319.5px,#82ff73 335.5px,#4cffac 392.5px,#23ffd5 439.5px,#0dfcec 471.5px,#00ebff 560.5px,#00d1ff 681.5px,#00cdff 699.5px)"></i>
<i style="top:85px;height:1px;background:linear-gradient(90deg,#a8a8a8 0.5px,#a5aaa8 105.5px,#98bda2 108.5px,#a1bf96 110.5px,#a7c985 111.5px,#b1de65 112.5px,#d1e93e 114.5px,#ecdd22 116.5px,#f8ca0e 117.5px,#fd9404 119.5px,#fe5b01 121.5px,#ff1600 123.5px,#ff0500 124.5px,#ff0000 161.5px,#ff0c00 163.5px,#ff8f00 173.5px,#fef900 185.5px,#c2ff33 195.5px,#a5ff4b 201.5px,#78ff7f 220.5px,#57ffa1 272.5px,#7efd7c 273.5px,#d3f62a 274.5px,#fbef04 275.5px,#ffe000 280.5px,#fbff03 292.5px,#e0ff1a 303.5px,#9aff57 319.5px,#82ff73 335.5px,#4cffac 392.5px,#23ffd5 439.5px,#0dfcec 471.5px,#00ebff 560.5px,#00d1ff 681.5px,#00cdff 699.5px)"></i>
<i style="top:86px;height:1px;background:linear-gradient(90deg,#a8a8a8 0.5px,#a4aaaa 100.5px,#8abdb1 103.5px,#8fbfaa 105.5px,#89c9a6 106.5px,#7ade9f 107.5px,#7be893 108.5px,#a7ee5e 111.5px,#cffd2b 113.5px,#f4f70b 115.5px,#fce504 116.5px,#ff5b00 121.5px,#ff1800 123.5px,#ff0600 124.5px,#ff0000 145.5px,#ff0100 161.5px,#ff1e00 164.5px,#ff9300 173.5px,#fefb01 185.5px,#aaff47 199.5px,#78ff7f 219.5px,#57ffa1 272.5px,#7efa7c 273.5px,#d4ee29 274.5px,#fbe404 275.5px,#ffd500 279.5px,#fff100 287.5px,#f9ff05 293.5px,#dbff1e 304.5px,#9aff58 319.5px,#82ff73 335.5px,#4cffac 392.5px,#23ffd5 439.5px,#0dfcec 471.5px,#00ebff 560.5px,#00d1ff 681.5px,#00cdff 699.5px)"></i>
<i style="top:87px;height:1px;background:linear-gradient(90deg,#a8a8a8 0.5px,#a3aaaa 95.5px,#9badaf 96.5px,#88b6b9 97.5px,#80bcbb 99.5px,#80beba 100.5px,#72c8bd 101.5px,#55dec4 102.5px,#4fe8c0 103.5px,#68eea1 106.5px,#76fd83 108.5px,#edfd0f 114.5px,#faf504 115.5px,#ff5d00 121.5px,#ff1900 123.5px,#ff0600 124.5px,#ff0000 134.5px,#ff0300 161.5px,#ff4100 166.5px,#ff9800 173.5px,#fbf904 184.5px,#c7ff2f 193.5px,#a7ff4b 199.5px,#77ff80 219.5px,#55fea3 272.5px,#7df77d 273.5px,#d3e52a 274.5px,#fbd804 275.5px,#ffc900 279.5px,#ffe800 286.5px,#fcff02 292.5px,#daff1e 304.5px,#99ff58 319.5px,#82ff73 335.5px,#4cffac 392.5px,#23ffd5 439.5px,#0dfcec 471.5px,#00ebff 560.5px,#00d1ff 681.5px,#00cdff 699.5px)"></i>
<i style="top:88px;height:1px;background:linear-gradient(90deg,#a8a8a8 0.5px,#a3a9aa 90.5px,#9babaf 91.5px,#88b0b9 92.5px,#7cb8bf 95.5px,#69c1c8 96.5px,#40d4dd 97.5px,#2fdfe4 98.5px,#3cfdbf 103.5px,#70fe87 107.5px,#e2ff18 113.5px,#fcf002 115.5px,#ff5e00 121.5px,#ff1a00 123.5px,#ff0700 124.5px,#ff0000 129.5px,#ff0100 160.5px,#ff1e00 163.5px,#ff9400 172.5px,#f5ac0b 174.5px,#ddc724 176.5px,#d7fe29 185.5px,#97ff5f 198.5px,#69ff90 220.5px,#43f9b7 272.5px,#6ff08c 273.5px,#cfda2f 274.5px,#fbcb04 275.5px,#ffbe00 279.5px,#ffdb00 285.5px,#fdfe02 292.5px,#d5ff22 305.5px,#99ff58 319.5px,#82ff73 335.5px,#4cffac 392.5px,#23ffd5 439.5px,#0dfcec 471.5px,#00ebff 560.5px,#00d1ff 681.5px,#00cdff 699.5px)"></i>
<i style="top:89px;height:1px;background:linear-gradient(90deg,#a8a8a8 0.5px,#a3a8aa 85.5px,#9ba9af 86.5px,#88abb9 87.5px,#7cb0bf 90.5px,#69b6c9 91.5px,#3fc2de 92.5px,#2ccbe8 93.5px,#21dfed 96.5px,#10ebf5 97.5px,#0bf3f4 98.5px,#28fdd2 101.5px,#7cff7a 107.5px,#eafe11 113.5px,#f8f906 114.5px,#ffd300 116.5px,#ff5f00 121.5px,#ff1c00 123.5px,#ff0900 124.5px,#ff0000 128.5px,#ff0400 160.5px,#ff5000 166.5px,#fc9b03 172.5px,#f2a90e 173.5px,#aae05a 175.5px,#9aec6b 176.5px,#8aff79 187.5px,#60ff9e 208.5px,#23f9db 258.5px,#1beee2 272.5px,#50e4ae 273.5px,#c4ce3a 274.5px,#fabf05 275.5px,#ffb300 279.5px,#ffd500 285.5px,#fffb00 291.5px,#d9ff1f 304.5px,#99ff58 319.5px,#82ff73 335.5px,#4cffac 392.5px,#23ffd5 439.5px,#0dfcec 471.5px,#00ebff 560.5px,#00d1ff 681.5px,#00cdff 699.5px)"></i>
<i style="top:90px;height:1px;background:linear-gradient(90deg,#a8a8a8 0.5px,#a3a8aa 80.5px,#9ba7af 81.5px,#88a7b9 82.5px,#7caabf 85.5px,#69adc9 86.5px,#3fb3de 87.5px,#2cb8e8 88.5px,#20c9ee 91.5px,#0dd2f8 92.5px,#04e2fd 94.5px,#0bf9f0 98.5px,#87ff6d 107.5px,#f0fd0c 113.5px,#fbf603 114.5px,#ff7b00 120.5px,#ff1d00 123.5px,#ff0a00 124.5px,#ff0000 127.5px,#ff0200 159.5px,#ff2000 162.5px,#fd8c02 170.5px,#f49c0b 171.5px,#c9c639 173.5px,#9fe366 174.5px,#82f785 175.5px,#77fe90 178.5px,#20ffe0 245.5px,#04ebfb 271.5px,#09e9f6 272.5px,#42ddbd 273.5px,#c0c43f 274.5px,#f9b306 275.5px,#ffa700 278.5px,#ffbd00 283.5px,#fffa00 291.5px,#d4ff24 305.5px,#99ff58 319.5px,#82ff73 335.5px,#4cffac 392.5px,#23ffd5 439.5px,#0dfcec 471.5px,#00ebff 560.5px,#00d1ff 681.5px,#00cdff 699.5px)"></i>
<i style="top:91px;height:1px;background:linear-gradient(90deg,#a8a8a8 0.5px,#a3a7aa 75.5px,#9ba6af 76.5px,#88a3b9 77.5px,#7ca5bf 80.5px,#69a5c9 81.5px,#3fa5de 82.5px,#2ca8e8 83.5px,#20b5ee 86.5px,#0dbcf8 87.5px,#04c8fd 89.5px,#05f3f9 96.5px,#20fed9 99.5px,#b3ff40 109.5px,#f5fc08 113.5px,#ffdf00 115.5px,#ff7b00 120.5px,#ff1e00 123.5px,#ff0b00 124.5px,#ff0000 127.5px,#ff0500 159.5px,#fd8802 169.5px,#f3990d 170.5px,#d2b830 171.5px,#a6da5f 172.5px,#7cf88b 174.5px,#6fff97 182.5px,#28ffd8 238.5px,#0ef5f2 260.5px,#03eafc 271.5px,#07e8f8 272.5px,#41dabe 273.5px,#bfbb40 274.5px,#f9a806 275.5px,#ff9a00 278.5px,#ffad00 282.5px,#fff900 291.5px,#d3ff24 305.5px,#99ff59 319.5px,#82ff74 335.5px,#4cffac 392.5px,#23ffd5 439.5px,#0dfcec 471.5px,#00ebff 560.5px,#00d1ff 681.5px,#00cdff 699.5px)"></i>
<i style="top:92px;height:1px;background:linear-gradient(90deg,#a8a8a8 0.5px,#a3a7aa 71.5px,#9ba5af 72.5px,#88a2b9 73.5px,#7ca1bf 75.5px,#699fc9 76.5px,#3f9ade 77.5px,#2c9ae8 78.5px,#20a4ee 81.5px,#0da8f8 82.5px,#04b2fd 84.5px,#04f3fa 95.5px,#1dfedb 98.5px,#bcff38 109.5px,#fafa05 113.5px,#ffb200 117.5px,#ff7b00 120.5px,#ff3f00 122.5px,#ff1f00 123.5px,#ff0c00 124.5px,#ff0000 126.5px,#ff0300 158.5px,#ff4100 163.5px,#fd8402 168.5px,#f3960d 169.5px,#d1b631 170.5px,#9edd67 171.5px,#7df68a 172.5px,#73fe95 174.5px,#65ffa0 190.5px,#13faed 255.5px,#03eafc 271.5px,#07e8f8 272.5px,#41d7be 273.5px,#bfb240 274.5px,#f99c06 275.5px,#ff8d00 278.5px,#ffa500 282.5px,#fff200 290.5px,#f7ff06 294.5px,#c9ff2d 307.5px,#96ff5c 320.5px,#80ff76 338.5px,#4cffac 391.5px,#25ffd3 437.5px,#0dfcec 470.5px,#00ebff 559.5px,#00d1ff 680.5px,#00cdff 698.5px,#00cdff 699.5px)"></i>
<i style="top:93px;height:1px;background:linear-gradient(90deg,#a8a8a8 0.5px,#a3a7aa 66.5px,#9ba5af 67.5px,#88a0b9 68.5px,#7c9fbf 71.5px,#699cc9 72.5px,#3f95de 73.5px,#2c94e8 74.5px,#2097ee 76.5px,#0d97f8 77.5px,#049efd 79.5px,#03f2fa 94.5px,#1bfede 97.5px,#7bff7b 104.5px,#f3fd0a 112.5px,#ffe800 114.5px,#ff7c00 120.5px,#ff4100 122.5px,#ff2100 123.5px,#ff0300 125.5px,#ff0200 157.5px,#ff2100 160.5px,#fc8203 167.5px,#f2940e 168.5px,#d1b431 169.5px,#9edd67 170.5px,#7cf68b 171.5px,#70ff98 173.5px,#73ff95 179.5px,#29ffd7 237.5px,#0ff6f1 259.5px,#03eafc 271.5px,#07e8f8 272.5px,#41d4be 273.5px,#bfaa40 274.5px,#f99006 275.5px,#ff8100 278.5px,#ff9200 281.5px,#fff000 290.5px,#f7ff06 294.5px,#c3ff32 308.5px,#93ff5f 321.5px,#64ff94 364.5px,#23ffd5 439.5px,#0dfcec 471.5px,#00ebff 560.5px,#00d1ff 681.5px,#00cdff 699.5px)"></i>
<i style="top:94px;height:1px;background:linear-gradient(90deg,#a8a8a8 0.5px,#a3a7aa 61.5px,#9ba4af 62.5px,#889eb9 63.5px,#7c9dbf 66.5px,#6999c9 67.5px,#3f8fde 68.5px,#2c8ce8 69.5px,#2090ee 72.5px,#0d8ff8 73.5px,#0494fd 75.5px,#03f1fb 93.5px,#18fde1 96.5px,#5fff98 101.5px,#bdff37 108.5px,#f7fc06 112.5px,#ffe300 114.5px,#ff7c00 120.5px,#ff6400 121.5px,#ff2200 123.5px,#ff0400 125.5px,#ff0100 156.5px,#ff1e00 159.5px,#fd7202 165.5px,#f4850b 166.5px,#c9b839 168.5px,#9ddc68 169.5px,#7cf68b 170.5px,#70ff98 172.5px,#73ff95 179.5px,#29ffd7 237.5px,#0ff6f1 259.5px,#03eafc 271.5px,#07e7f8 272.5px,#41d2be 273.5px,#bfa140 274.5px,#f98406 275.5px,#ff7500 277.5px,#ff7f00 280.5px,#ffef00 290.5px,#fbfe03 293.5px,#b9ff3b 310.5px,#91ff61 322.5px,#4effaa 389.5px,#27ffd1 435.5px,#0dfcec 470.5px,#00ebff 559.5px,#00d1ff 680.5px,#00cdff 698.5px,#00cdff 699.5px)"></i>
<i style="top:95px;height:1px;background:linear-gradient(90deg,#a8a8a8 0.5px,#a3a6aa 56.5px,#9ba3af 57.5px,#889db9 58.5px,#7c9abf 61.5px,#6995c9 62.5px,#3f89de 63.5px,#2c85e8 64.5px,#2089ee 67.5px,#0d86f8 68.5px,#0489fd 70.5px,#00b1ff 80.5px,#02f1fc 92.5px,#16fde3 95.5px,#5dff9b 100.5px,#b6ff3d 107.5px,#fbfa04 112.5px,#ff7c00 120.5px,#ff6500 121.5px,#ff2300 123.5px,#ff0400 125.5px,#ff0500 156.5px,#fd6f02 164.5px,#f3840d 165.5px,#d2a930 166.5px,#a6d25f 167.5px,#7bf78d 169.5px,#70ff98 171.5px,#73ff95 179.5px,#29ffd7 237.5px,#0ff6f1 259.5px,#03eafc 271.5px,#07e7f8 272.5px,#41cfbe 273.5px,#bf9a40 274.5px,#f97a06 275.5px,#ff6a00 277.5px,#ff7600 280.5px,#ffee00 290.5px,#fbfe04 293.5px,#95ff5d 320.5px,#80ff76 338.5px,#4cffac 391.5px,#25ffd3 437.5px,#0dfcec 470.5px,#00ebff 559.5px,#00d1ff 680.5px,#00cdff 698.5px,#00cdff 699.5px)"></i>
<i style="top:96px;height:1px;background:linear-gradient(90deg,#a8a8a8 0.5px,#a3a6aa 51.5px,#9ba3af 52.5px,#889bb9 53.5px,#7c98bf 56.5px,#6992c9 57.5px,#3f84de 58.5px,#2c7fe8 59.5px,#2082ee 62.5px,#0d7ef8 63.5px,#0480fd 65.5px,#00a9ff 77.5px,#02f0fc 91.5px,#14fce6 94.5px,#5cff9c 99.5px,#beff36 107.5px,#f5fd08 111.5px,#ffea00 113.5px,#ff7c00 120.5px,#ff6600 121.5px,#ff2400 123.5px,#ff0500 125.5px,#ff0100 154.5px,#ff1900 157.5px,#fd6d02 163.5px,#f3820d 164.5px,#d1a831 165.5px,#9ed767 166.5px,#7df48a 167.5px,#71fe97 169.5px,#71ff96 180.5px,#29ffd7 237.5px,#0ff6f1 259.5px,#03eafc 271.5px,#07e7f8 272.5px,#41cdbe 273.5px,#bf9340 274.5px,#f97106 275.5px,#ff6000 277.5px,#ff6d00 280.5px,#ffee00 290.5px,#fafe04 293.5px,#95ff5d 320.5px,#7fff76 339.5px,#4cffac 391.5px,#25ffd3 437.5px,#0dfcec 470.5px,#00ebff 559.5px,#00d1ff 680.5px,#00cdff 698.5px,#00cdff 699.5px)"></i>
<i style="top:97px;height:1px;background:linear-gradient(90deg,#a8a8a8 0.5px,#a3a6aa 46.5px,#9ba2af 47.5px,#889ab9 48.5px,#7c96bf 51.5px,#698fc9 52.5px,#3f7fde 53.5px,#2c79e8 54.5px,#207bee 57.5px,#0d76f8 58.5px,#0478fd 60.5px,#00a6ff 75.5px,#04f3f9 91.5px,#1ffed9 94.5px,#5aff9e 98.5px,#b7ff3c 106.5px,#f9fc05 111.5px,#ffc600 115.5px,#ff7d00 120.5px,#ff6700 121.5px,#ff2500 123.5px,#ff0600 125.5px,#ff0000 135.5px,#ff0400 154.5px,#ff4100 159.5px,#fc6d03 162.5px,#f2810e 163.5px,#d1a731 164.5px,#9ed667 165.5px,#7cf48b 166.5px,#70ff98 168.5px,#73ff95 179.5px,#29ffd7 237.5px,#0ff6f1 259.5px,#03eafc 271.5px,#07e7f8 272.5px,#41cbbe 273.5px,#bf8e40 274.5px,#f96a06 275.5px,#ff5800 277.5px,#ff6700 280.5px,#ffe300 289.5px,#fefc01 292.5px,#95ff5d 320.5px,#7fff76 339.5px,#4cffac 391.5px,#25ffd3 437.5px,#0dfcec 470.5px,#00ebff 559.5px,#00d1ff 680.5px,#00cdff 698.5px,#00cdff 699.5px)"></i>
<i style="top:98px;height:1px;background:linear-gradient(90deg,#a8a8a8 0.5px,#a3a6aa 41.5px,#9ba1af 42.5px,#8898b9 43.5px,#7c94bf 46.5px,#698cc9 47.5px,#3f7ade 48.5px,#2c74e8 49.5px,#2075ee 52.5px,#0d6ff8 53.5px,#0470fd 55.5px,#00a2ff 73.5px,#03f3fa 90.5px,#1cfedd 93.5px,#57ffa1 97.5px,#bfff36 106.5px,#fbfa03 111.5px,#ff7d00 120.5px,#ff6900 121.5px,#ff2800 123.5px,#ff0800 125.5px,#ff0000 131.5px,#ff0400 153.5px,#ff3200 157.5px,#fd5d02 160.5px,#f4720b 161.5px,#c9ac3a 163.5px,#9dd668 164.5px,#7cf48b 165.5px,#70ff98 167.5px,#73ff95 179.5px,#29ffd7 237.5px,#0ff6f1 259.5px,#03eafc 271.5px,#07e7f8 272.5px,#41cabe 273.5px,#bf8a40 274.5px,#f96406 275.5px,#ff5300 277.5px,#ff6200 280.5px,#ffe300 289.5px,#fdfd01 292.5px,#97ff5b 319.5px,#80ff75 337.5px,#4cffac 392.5px,#23ffd5 439.5px,#0dfcec 471.5px,#00ebff 560.5px,#00d1ff 681.5px,#00cdff 699.5px)"></i>
<i style="top:99px;height:1px;background:linear-gradient(90deg,#a8a8a8 0.5px,#a3a5aa 36.5px,#9ba0af 37.5px,#8896b9 38.5px,#7c91bf 41.5px,#6988c9 42.5px,#3f74de 43.5px,#2c6ce8 44.5px,#206dee 47.5px,#0d66f8 48.5px,#0467fd 50.5px,#00a2ff 72.5px,#02f1fc 89.5px,#16fde3 92.5px,#53ffa5 96.5px,#b7ff3c 105.5px,#f6fe07 110.5px,#ffde00 113.5px,#ff6c00 121.5px,#ff2e00 123.5px,#ff0a00 125.5px,#ff0000 129.5px,#ff0400 152.5px,#ff3100 156.5px,#fd5d02 159.5px,#f2730d 160.5px,#d09c31 161.5px,#a4cb60 162.5px,#7af68e 164.5px,#70ff98 166.5px,#73ff95 179.5px,#29ffd7 237.5px,#0ff6f1 259.5px,#03eafc 271.5px,#07e7f8 272.5px,#41c9be 273.5px,#bf8840 274.5px,#f96106 275.5px,#ff5000 277.5px,#ff6000 280.5px,#ffe400 289.5px,#fdfd02 292.5px,#97ff5b 319.5px,#80ff75 337.5px,#4cffac 392.5px,#23ffd5 439.5px,#0dfcec 471.5px,#00ebff 560.5px,#00d1ff 681.5px,#00cdff 699.5px)"></i>
<i style="top:100px;height:1px;background:linear-gradient(90deg,#a4a5aa 0.5px,#a3a5aa 31.5px,#9b9faf 32.5px,#8893b9 33.5px,#7c8ebf 36.5px,#6984c9 37.5px,#3f6dde 38.5px,#2c63e8 39.5px,#2063ee 42.5px,#0d5cf8 43.5px,#045cfd 45.5px,#00a1ff 71.5px,#04f3fa 89.5px,#1cfedc 92.5px,#58ffa0 96.5px,#bcff38 105.5px,#f9fd05 110.5px,#ffc000 115.5px,#ff6f00 121.5px,#ff1f00 124.5px,#ff0500 126.5px,#ff0100 150.5px,#ff1600 153.5px,#fd5d02 158.5px,#f2730d 159.5px,#cf9d33 160.5px,#9bd16a 161.5px,#7af28d 162.5px,#6ffe99 164.5px,#73ff95 179.5px,#29ffd7 237.5px,#0ff6f1 259.5px,#03eafc 271.5px,#07e7f8 272.5px,#41c9be 273.5px,#bf8740 274.5px,#f96106 275.5px,#ff4f00 277.5px,#ff6000 280.5px,#ffe500 289.5px,#fcfd03 292.5px,#96ff5b 319.5px,#80ff75 337.5px,#4cffac 392.5px,#23ffd5 439.5px,#0dfcec 471.5px,#00ebff 560.5px,#00d1ff 681.5px,#00cdff 699.5px)"></i>
<i style="top:101px;height:1px;background:linear-gradient(90deg,#7e83bb 0.5px,#7c8bbf 31.5px,#697fc9 32.5px,#3f65de 33.5px,#2c5be8 34.5px,#205aee 37.5px,#0d51f8 38.5px,#0450fd 40.5px,#00a3ff 71.5px,#02f1fc 88.5px,#14fde5 91.5px,#51ffa7 95.5px,#c0ff34 105.5px,#fbfc03 110.5px,#ff7300 121.5px,#ff1500 125.5px,#ff0200 127.5px,#ff0400 150.5px,#ff3200 154.5px,#fc5e04 157.5px,#f1740e 158.5px,#ce9d33 159.5px,#9ad16b 160.5px,#77f38f 161.5px,#6dfd9a 162.5px,#73ff95 179.5px,#29ffd7 237.5px,#0ff6f1 259.5px,#03eafc 271.5px,#07e7f8 272.5px,#41cabe 273.5px,#bf8940 274.5px,#f96306 275.5px,#ff5200 277.5px,#ff6200 280.5px,#ffe600 289.5px,#fafe04 292.5px,#96ff5c 319.5px,#80ff75 337.5px,#4cffac 392.5px,#23ffd5 439.5px,#0dfcec 471.5px,#00ebff 560.5px,#00d1ff 681.5px,#00cdff 699.5px)"></i>
<i style="top:102px;height:1px;background:linear-gradient(90deg,#2a3ae0 0.5px,#2954ea 31.5px,#2050ee 32.5px,#0d46f8 33.5px,#0445fd 35.5px,#00a2ff 70.5px,#03f3fa 88.5px,#1afedf 91.5px,#55ffa3 95.5px,#c5ff30 105.5px,#fcfa02 110.5px,#ff7600 121.5px,#ff1c00 125.5px,#ff0500 127.5px,#ff0500 149.5px,#ff3300 153.5px,#fd5002 155.5px,#f4660c 156.5px,#c6a43c 158.5px,#98d26d 159.5px,#75f291 160.5px,#6bfd9c 161.5px,#73ff95 179.5px,#29ffd7 237.5px,#0ff6f1 259.5px,#03eafc 271.5px,#07e7f8 272.5px,#41cbbe 273.5px,#bf8c40 274.5px,#f96806 275.5px,#ff5700 277.5px,#ff6700 280.5px,#ffe800 289.5px,#f9fe05 292.5px,#96ff5c 319.5px,#80ff76 338.5px,#4cffac 391.5px,#25ffd3 437.5px,#0dfcec 470.5px,#00ebff 559.5px,#00d1ff 680.5px,#00cdff 698.5px,#00cdff 699.5px)"></i>
<i style="top:103px;height:1px;background:linear-gradient(90deg,#041af1 0.5px,#043cfd 31.5px,#00a0ff 69.5px,#02f1fc 87.5px,#12fce7 90.5px,#59ff9f 95.5px,#c9ff2d 105.5px,#fdf802 110.5px,#ff6900 122.5px,#ff2300 125.5px,#ff0800 127.5px,#ff0000 132.5px,#ff0500 148.5px,#ff4300 153.5px,#fd5202 154.5px,#f2690e 155.5px,#ce9434 156.5px,#9fc665 157.5px,#72f494 159.5px,#69fe9e 161.5px,#74ff94 178.5px,#2bffd5 236.5px,#10f7f0 258.5px,#03eafc 271.5px,#07e7f8 272.5px,#41ccbe 273.5px,#bf9140 274.5px,#f96e06 275.5px,#ff5e00 277.5px,#ff6e00 280.5px,#ffeb00 289.5px,#f7ff06 292.5px,#95ff5c 319.5px,#80ff76 338.5px,#4cffac 391.5px,#25ffd3 437.5px,#0dfcec 470.5px,#00ebff 559.5px,#00d1ff 680.5px,#00cdff 698.5px,#00cdff 699.5px)"></i>
<i style="top:104px;height:1px;background:linear-gradient(90deg,#0018f3 0.5px,#0038ff 30.5px,#00a2ff 69.5px,#03f3fb 87.5px,#18fee1 90.5px,#52ffa6 94.5px,#c0ff34 104.5px,#f9fd05 109.5px,#ff6d00 122.5px,#ff1900 126.5px,#ff0100 129.5px,#ff0200 146.5px,#ff1b00 149.5px,#fd5402 153.5px,#f26b0e 154.5px,#cc9635 155.5px,#96ce6e 156.5px,#72f094 157.5px,#67fda0 159.5px,#74ff94 178.5px,#2bffd5 236.5px,#10f7f0 258.5px,#03eafc 271.5px,#07e7f8 272.5px,#41cebe 273.5px,#bf9740 274.5px,#f97706 275.5px,#ff6800 277.5px,#ff7600 280.5px,#ffee00 289.5px,#f5ff08 292.5px,#95ff5d 319.5px,#7fff76 339.5px,#4cffac 391.5px,#25ffd3 437.5px,#0dfcec 470.5px,#00ebff 559.5px,#00d1ff 680.5px,#00cdff 698.5px,#00cdff 699.5px)"></i>
<i style="top:105px;height:1px;background:linear-gradient(90deg,#0019f4 0.5px,#0036ff 29.5px,#00a5ff 69.5px,#02f1fd 86.5px,#11fce9 89.5px,#56ffa2 94.5px,#c5ff31 104.5px,#fbfc03 109.5px,#ff7000 122.5px,#ff1200 127.5px,#ff0000 130.5px,#ff0300 145.5px,#ff1e00 148.5px,#fb5804 152.5px,#f16e0f 153.5px,#cc9836 154.5px,#94ce70 155.5px,#70f196 156.5px,#65fca1 157.5px,#74ff94 178.5px,#2bffd5 236.5px,#10f7f0 258.5px,#03eafc 271.5px,#07e7f8 272.5px,#41d1be 273.5px,#bf9f40 274.5px,#f98106 275.5px,#ff7300 277.5px,#ff8000 280.5px,#fff200 289.5px,#f2ff0a 292.5px,#95ff5d 319.5px,#7fff76 339.5px,#4cffac 391.5px,#25ffd3 437.5px,#0dfcec 470.5px,#00ebff 559.5px,#00d1ff 680.5px,#00cdff 698.5px,#00cdff 699.5px)"></i>
<i style="top:106px;height:1px;background:linear-gradient(90deg,#001af5 0.5px,#0038ff 29.5px,#00a3ff 68.5px,#03f2fb 86.5px,#16fde3 89.5px,#4fffa9 93.5px,#c9ff2d 104.5px,#fdfa02 109.5px,#ff7200 122.5px,#ff1800 127.5px,#ff0100 130.5px,#ff0400 144.5px,#ff2100 147.5px,#fd4c02 150.5px,#f3630d 151.5px,#c3a13f 153.5px,#92d071 154.5px,#6ef197 155.5px,#63fca3 156.5px,#74ff94 178.5px,#2bffd5 236.5px,#10f7f0 258.5px,#03eafc 271.5px,#07e8f8 272.5px,#41d4be 273.5px,#bfa740 274.5px,#f98d06 275.5px,#ff8000 278.5px,#ff9500 281.5px,#fef601 289.5px,#eaff11 293.5px,#92ff60 320.5px,#4effaa 388.5px,#29ffcf 434.5px,#0dfdec 469.5px,#00ecff 557.5px,#00d1ff 678.5px,#00ceff 696.5px,#00cdff 699.5px)"></i>
<i style="top:107px;height:1px;background:linear-gradient(90deg,#001cf5 0.5px,#0036ff 28.5px,#00a6ff 68.5px,#04f4f9 86.5px,#1bfedd 89.5px,#54ffa4 93.5px,#d8ff20 105.5px,#fdf801 109.5px,#ff6700 123.5px,#ff1100 128.5px,#ff0000 131.5px,#ff0500 143.5px,#ff3300 147.5px,#fd5002 149.5px,#f1680f 150.5px,#cb9336 151.5px,#9ac469 152.5px,#6bf39b 154.5px,#61fda5 156.5px,#74ff94 178.5px,#2bffd5 236.5px,#10f7f0 258.5px,#03eafc 271.5px,#07e8f8 272.5px,#41d7be 273.5px,#bfb040 274.5px,#f99906 275.5px,#ff8d00 278.5px,#ffaa00 282.5px,#fdf901 289.5px,#daff1e 297.5px,#92ff60 320.5px,#4dffab 390.5px,#26ffd2 436.5px,#0dfcec 470.5px,#00ebff 559.5px,#00d1ff 680.5px,#00cdff 698.5px,#00cdff 699.5px)"></i>
<i style="top:108px;height:1px;background:linear-gradient(90deg,#001df6 0.5px,#0037ff 28.5px,#00a8ff 68.5px,#03f2fb 85.5px,#14fde5 88.5px,#58ffa0 93.5px,#e7ff14 106.5px,#fef601 109.5px,#ff6a00 123.5px,#ff1600 128.5px,#ff0000 131.5px,#ff0200 141.5px,#ff1c00 144.5px,#fb5604 148.5px,#f06c10 149.5px,#ca9637 150.5px,#90cd73 151.5px,#6bef9a 152.5px,#5ffca7 154.5px,#74ff93 178.5px,#2bffd5 236.5px,#10f7f0 258.5px,#03eafc 271.5px,#07e8f8 272.5px,#41dabe 273.5px,#bfba40 274.5px,#f9a606 275.5px,#ff9b00 278.5px,#ffb400 282.5px,#fbfc03 289.5px,#daff1e 296.5px,#92ff61 320.5px,#4dffab 390.5px,#26ffd2 436.5px,#0dfcec 470.5px,#00ebff 559.5px,#00d1ff 680.5px,#00cdff 698.5px,#00cdff 699.5px)"></i>
<i style="top:109px;height:1px;background:linear-gradient(90deg,#001ef6 0.5px,#0036ff 27.5px,#00a7ff 67.5px,#02f0fd 84.5px,#10fbea 87.5px,#5cff9c 93.5px,#eaff11 106.5px,#fff400 109.5px,#ff6d00 123.5px,#ff0f00 129.5px,#ff0000 132.5px,#ff0400 140.5px,#ff2100 143.5px,#fd4c02 146.5px,#f2620d 147.5px,#c0a041 149.5px,#8ecf75 150.5px,#68f09d 151.5px,#5dfba8 152.5px,#72fe96 174.5px,#77fd90 178.5px,#33ffcd 231.5px,#13f8ed 257.5px,#0de8f2 272.5px,#45ddba 273.5px,#c1c33e 274.5px,#f9b206 275.5px,#ffa800 278.5px,#ffbe00 282.5px,#fdfa02 288.5px,#d8ff20 296.5px,#90ff63 321.5px,#4cffac 391.5px,#25ffd3 437.5px,#0dfcec 470.5px,#00ebff 559.5px,#00d1ff 680.5px,#00cdff 698.5px,#00cdff 699.5px)"></i>
<i style="top:110px;height:1px;background:linear-gradient(90deg,#001ff7 0.5px,#0037ff 26.5px,#00a7ff 66.5px,#04f3f9 84.5px,#19fde0 87.5px,#59ff9f 92.5px,#e4ff16 105.5px,#fdf902 108.5px,#ff6e00 123.5px,#ff1300 129.5px,#ff0000 132.5px,#ff0600 139.5px,#ff4200 144.5px,#fd5102 145.5px,#f0680f 146.5px,#c99338 147.5px,#96c46d 148.5px,#65f2a0 150.5px,#5afdab 152.5px,#6ffd99 173.5px,#8feb77 175.5px,#98e66e 177.5px,#75ff8a 208.5px,#3bffc3 238.5px,#2cf7d1 260.5px,#45e9ba 272.5px,#70df8f 273.5px,#cfcc30 274.5px,#fbbf04 275.5px,#ffb600 278.5px,#ffc900 282.5px,#fafd04 288.5px,#d8ff20 295.5px,#8fff63 321.5px,#4cffac 391.5px,#25ffd3 437.5px,#0dfcec 470.5px,#00ebff 559.5px,#00d1ff 680.5px,#00cdff 698.5px,#00cdff 699.5px)"></i>
<i style="top:111px;height:1px;background:linear-gradient(90deg,#0020f8 0.5px,#0038ff 25.5px,#00a8ff 65.5px,#02f0fc 82.5px,#0ffbeb 85.5px,#62ff96 92.5px,#dfff1a 104.5px,#fef601 108.5px,#ff6e00 123.5px,#ff0b00 130.5px,#ff0000 133.5px,#ff0900 138.5px,#fd5702 144.5px,#f06e0f 145.5px,#c89739 146.5px,#8ccd77 147.5px,#65ef9f 148.5px,#58fbad 150.5px,#6ffc99 172.5px,#7af38d 173.5px,#9cda69 174.5px,#c9bd39 175.5px,#dbb426 176.5px,#d2ff2d 203.5px,#6fff88 229.5px,#61ff98 235.5px,#61fd97 257.5px,#76fc7f 263.5px,#bdf441 271.5px,#c1ec3e 272.5px,#cfe230 273.5px,#efd610 274.5px,#fecc01 275.5px,#ffc400 279.5px,#ffef00 285.5px,#f5fe08 288.5px,#d6ff22 295.5px,#8fff64 321.5px,#4cffac 391.5px,#25ffd3 437.5px,#0dfcec 470.5px,#00ebff 559.5px,#00d1ff 680.5px,#00cdff 698.5px,#00cdff 699.5px)"></i>
<i style="top:112px;height:1px;background:linear-gradient(90deg,#0022f8 0.5px,#0037ff 23.5px,#00a3ff 62.5px,#02f1fc 81.5px,#11fbe9 84.5px,#61ff97 91.5px,#e5ff15 104.5px,#fdfa02 107.5px,#ff6e00 123.5px,#ff0d00 130.5px,#ff0000 133.5px,#ff0d00 137.5px,#fb5f04 143.5px,#ef7410 144.5px,#c79b3a 145.5px,#8acf78 146.5px,#62f0a2 147.5px,#56faae 148.5px,#6afd9d 170.5px,#75f592 171.5px,#a3cf61 173.5px,#d0ae31 174.5px,#f29d0e 175.5px,#fca003 177.5px,#f8ff07 203.5px,#8eff65 226.5px,#71ff86 234.5px,#78ff7f 256.5px,#8eff65 262.5px,#c1ff35 267.5px,#f2fb0b 271.5px,#ffd500 276.5px,#ffd500 280.5px,#fbfc03 286.5px,#d5ff22 294.5px,#8dff66 322.5px,#4cffac 392.5px,#23ffd5 439.5px,#0dfcec 471.5px,#00ebff 560.5px,#00d1ff 681.5px,#00cdff 699.5px)"></i>
<i style="top:113px;height:1px;background:linear-gradient(90deg,#0024f9 0.5px,#0039ff 22.5px,#00a1ff 60.5px,#00e5ff 77.5px,#0bf9f0 82.5px,#6aff8d 91.5px,#e1ff18 103.5px,#fef701 107.5px,#ff6100 124.5px,#ff0600 131.5px,#ff0400 134.5px,#ff1f00 137.5px,#fd5702 141.5px,#f26c0e 142.5px,#bda644 144.5px,#88d17a 145.5px,#61f0a3 146.5px,#55fab0 147.5px,#69fd9e 169.5px,#75f392 170.5px,#99d56c 171.5px,#c7ae3b 172.5px,#e19a20 173.5px,#f4910c 174.5px,#ff9d00 176.5px,#fbff03 203.5px,#90ff63 226.5px,#73ff85 234.5px,#7cff7b 257.5px,#95ff5d 263.5px,#cbff2b 268.5px,#f8fb06 272.5px,#ffe000 277.5px,#ffe700 281.5px,#f6fe08 286.5px,#d2ff25 294.5px,#abff46 309.5px,#88ff6c 326.5px,#4bffad 393.5px,#21ffd7 441.5px,#0cfced 473.5px,#00eaff 564.5px,#00d0ff 685.5px,#00ceff 697.5px,#00cdff 699.5px)"></i>
<i style="top:114px;height:1px;background:linear-gradient(90deg,#0025fa 0.5px,#0038ff 20.5px,#0099ff 56.5px,#00e2ff 75.5px,#07f6f6 80.5px,#1efeda 83.5px,#58ffa0 88.5px,#ddff1c 102.5px,#fdfa02 106.5px,#ff6100 124.5px,#ff0800 131.5px,#ff0700 133.5px,#ff3400 137.5px,#fd5f02 140.5px,#f07410 141.5px,#c69b3a 142.5px,#91c871 143.5px,#5df2a7 145.5px,#52fcb2 147.5px,#67fca0 168.5px,#73f393 169.5px,#98d46c 170.5px,#cea734 171.5px,#f18b0e 172.5px,#fc8603 173.5px,#ffa000 176.5px,#fbff03 203.5px,#8fff63 226.5px,#73ff85 234.5px,#7bff7b 257.5px,#92ff60 263.5px,#c2ff33 268.5px,#f6fd07 273.5px,#ffee00 279.5px,#f4fe09 285.5px,#cfff27 294.5px,#adff44 308.5px,#89ff6b 325.5px,#4bffad 393.5px,#21ffd7 441.5px,#0cfced 473.5px,#00eaff 564.5px,#00d0ff 685.5px,#00ceff 697.5px,#00cdff 699.5px)"></i>
<i style="top:115px;height:1px;background:linear-gradient(90deg,#0026fa 0.5px,#003aff 19.5px,#0095ff 53.5px,#00deff 73.5px,#07f7f5 79.5px,#20fed9 82.5px,#58ffa0 87.5px,#e3ff17 102.5px,#fef801 106.5px,#ff6100 124.5px,#ff0d00 131.5px,#ff1500 133.5px,#fd6702 139.5px,#f07c10 140.5px,#c5a13b 141.5px,#86d07c 142.5px,#5defa6 143.5px,#50fbb4 145.5px,#65fca1 167.5px,#71f395 168.5px,#97d46d 169.5px,#cea734 170.5px,#f28b0e 171.5px,#fd8502 172.5px,#ff9000 174.5px,#ffa400 176.5px,#ffe300 195.5px,#faff04 203.5px,#8bff69 227.5px,#73ff85 234.5px,#7aff7c 257.5px,#8fff64 263.5px,#c4ff31 269.5px,#f2fe0a 274.5px,#fcfa02 280.5px,#cdff2a 294.5px,#afff43 307.5px,#8aff6a 324.5px,#4bffad 393.5px,#21ffd7 441.5px,#0cfced 473.5px,#00eaff 564.5px,#00d0ff 685.5px,#00ceff 697.5px,#00cdff 699.5px)"></i>
<i style="top:116px;height:1px;background:linear-gradient(90deg,#0028fb 0.5px,#003aff 17.5px,#008eff 49.5px,#00daff 71.5px,#05f4f8 77.5px,#16fde3 80.5px,#58ffa0 86.5px,#dfff1a 101.5px,#fdfb02 105.5px,#ff6100 124.5px,#ff1a00 130.5px,#ff1d00 132.5px,#fb7004 138.5px,#ef8311 139.5px,#c4a63c 140.5px,#85d37d 141.5px,#5bf0a8 142.5px,#4efab5 143.5px,#65fba1 166.5px,#70f295 167.5px,#96d46e 168.5px,#cda834 169.5px,#f28c0e 170.5px,#fd8602 171.5px,#ff9400 174.5px,#ffa700 176.5px,#ffdc00 193.5px,#faff04 203.5px,#8aff69 227.5px,#73ff85 234.5px,#7cff7a 258.5px,#98ff59 265.5px,#e7ff14 274.5px,#f5fe08 279.5px,#c8ff2d 295.5px,#aeff44 307.5px,#89ff6b 325.5px,#4bffad 393.5px,#21ffd7 441.5px,#0cfced 473.5px,#00eaff 564.5px,#00d0ff 685.5px,#00ceff 697.5px,#00cdff 699.5px)"></i>
<i style="top:117px;height:1px;background:linear-gradient(90deg,#0029fc 0.5px,#003bff 16.5px,#0086ff 45.5px,#00d7ff 69.5px,#05f5f8 76.5px,#17fde1 79.5px,#58ffa0 85.5px,#dcff1d 100.5px,#fef801 105.5px,#ff6200 124.5px,#ff2900 129.5px,#ff2800 131.5px,#fd6b02 136.5px,#f17e0e 137.5px,#bab046 139.5px,#83d67f 140.5px,#59f1aa 141.5px,#4dfab7 142.5px,#60fca5 164.5px,#6bf39a 165.5px,#9dce67 167.5px,#cda834 168.5px,#f28c0e 169.5px,#fd8602 170.5px,#ff9900 174.5px,#ffab00 176.5px,#ffd900 192.5px,#f9ff05 203.5px,#8aff6a 227.5px,#73ff85 234.5px,#7bff7b 258.5px,#94ff5e 265.5px,#e0ff19 275.5px,#eaff11 280.5px,#c6ff2f 295.5px,#adff45 307.5px,#89ff6b 325.5px,#4bffad 393.5px,#21ffd7 441.5px,#0cfced 473.5px,#00eaff 564.5px,#00d0ff 685.5px,#00ceff 697.5px,#00cdff 699.5px)"></i>
<i style="top:118px;height:1px;background:linear-gradient(90deg,#002afc 0.5px,#003dff 15.5px,#0082ff 42.5px,#00d8ff 68.5px,#06f5f7 75.5px,#24ffd4 79.5px,#60ff98 85.5px,#e1ff19 100.5px,#fdfb02 104.5px,#ff6c00 123.5px,#ff3000 129.5px,#ff3e00 131.5px,#fd7402 135.5px,#ef8710 136.5px,#c4a83c 137.5px,#8bce76 138.5px,#55f2ad 140.5px,#4afbb9 142.5px,#5ffba7 163.5px,#6bf29a 164.5px,#92d472 165.5px,#c3ad3e 166.5px,#f38b0c 168.5px,#ff8900 170.5px,#ff9d00 174.5px,#ffae00 176.5px,#ffd700 191.5px,#fcff03 202.5px,#92ff60 225.5px,#73ff84 233.5px,#7aff7c 258.5px,#91ff62 265.5px,#d9ff1f 276.5px,#dcff1c 282.5px,#c3ff32 296.5px,#a3ff4d 310.5px,#85ff70 329.5px,#4bffad 394.5px,#1fffd9 443.5px,#0cfbee 475.5px,#00e9ff 566.5px,#00d0ff 687.5px,#00cdff 699.5px)"></i>
<i style="top:119px;height:1px;background:linear-gradient(90deg,#002cfd 0.5px,#003eff 14.5px,#0080ff 40.5px,#00d9ff 67.5px,#06f6f6 74.5px,#26ffd2 78.5px,#60ff98 84.5px,#ddff1c 99.5px,#fef901 104.5px,#ff6c00 123.5px,#ff3d00 128.5px,#ff4900 130.5px,#fd7d02 134.5px,#ef8f10 135.5px,#c2ae3e 136.5px,#81d681 137.5px,#56f0ac 138.5px,#48fabb 140.5px,#5dfba9 162.5px,#6af29b 163.5px,#91d372 164.5px,#cba736 165.5px,#f18b0f 166.5px,#fe8701 168.5px,#ffa100 174.5px,#ffb200 176.5px,#ffd500 190.5px,#fbff04 202.5px,#91ff61 225.5px,#73ff84 233.5px,#7bff7b 259.5px,#98ff5a 267.5px,#d1ff26 277.5px,#d0ff27 284.5px,#b3ff40 304.5px,#89ff6b 324.5px,#4bffad 393.5px,#21ffd7 441.5px,#0cfced 473.5px,#00eaff 564.5px,#00d0ff 685.5px,#00ceff 697.5px,#00cdff 699.5px)"></i>
<i style="top:120px;height:1px;background:linear-gradient(90deg,#002dfd 0.5px,#0046ff 16.5px,#0082ff 39.5px,#00dbff 66.5px,#07f7f5 73.5px,#27ffd1 77.5px,#60ff98 83.5px,#daff1e 98.5px,#fdfc02 103.5px,#ff6c00 123.5px,#ff4900 127.5px,#ff5400 129.5px,#fb8704 133.5px,#ee9712 134.5px,#c2b43e 135.5px,#7fd982 136.5px,#53f1af 137.5px,#46f9bc 138.5px,#5bfbaa 161.5px,#68f29d 162.5px,#90d373 163.5px,#caa737 164.5px,#f18b0e 165.5px,#fd8502 166.5px,#ffa600 174.5px,#ffb500 176.5px,#ffd700 190.5px,#faff05 202.5px,#91ff62 225.5px,#73ff85 233.5px,#7bff7b 259.5px,#98ff59 268.5px,#c9ff2d 278.5px,#b7ff3d 302.5px,#8aff69 323.5px,#4bffad 393.5px,#21ffd7 441.5px,#0cfced 473.5px,#00eaff 564.5px,#00d0ff 685.5px,#00ceff 697.5px,#00cdff 699.5px)"></i>
<i style="top:121px;height:1px;background:linear-gradient(90deg,#002efe 0.5px,#0062ff 27.5px,#00d7ff 64.5px,#05f4f8 71.5px,#1dfedb 75.5px,#58ffa0 81.5px,#dfff1a 98.5px,#fef901 103.5px,#ff6c00 123.5px,#ff5400 126.5px,#ff5f00 128.5px,#fd8402 131.5px,#f1940f 132.5px,#b7bd49 134.5px,#7ddb84 135.5px,#52f2b0 136.5px,#44f9be 137.5px,#5bf9aa 160.5px,#67f19d 161.5px,#8fd374 162.5px,#caa737 163.5px,#f18b0f 164.5px,#fd8502 165.5px,#ffa900 174.5px,#ffb900 176.5px,#ffd600 189.5px,#fcff03 201.5px,#98ff59 223.5px,#73ff85 233.5px,#7cff7a 260.5px,#9dff54 270.5px,#c1ff34 279.5px,#b5ff3e 302.5px,#8aff6a 323.5px,#4bffad 393.5px,#21ffd7 441.5px,#0cfced 473.5px,#00eaff 564.5px,#00d0ff 685.5px,#00ceff 697.5px,#00cdff 699.5px)"></i>
<i style="top:122px;height:1px;background:linear-gradient(90deg,#002ffe 0.5px,#0072ff 31.5px,#00d8ff 63.5px,#05f5f7 70.5px,#1effda 74.5px,#58ffa0 80.5px,#dcff1d 97.5px,#fdfc02 102.5px,#ff6c00 123.5px,#ff6000 125.5px,#ff6b00 127.5px,#fd8e02 130.5px,#ee9d11 131.5px,#c1b83f 132.5px,#86d67a 133.5px,#4ef3b4 135.5px,#43f9bf 136.5px,#56fbae 158.5px,#62f2a2 159.5px,#96cd6c 161.5px,#caa737 162.5px,#f18c0f 163.5px,#fd8602 164.5px,#ffad00 174.5px,#ffbd00 177.5px,#ffdf00 191.5px,#faff04 201.5px,#93ff5f 224.5px,#73ff85 233.5px,#7bff7b 260.5px,#a0ff50 272.5px,#bbff39 281.5px,#b4ff3f 302.5px,#89ff6b 324.5px,#4bffad 394.5px,#1fffd9 443.5px,#0cfbee 475.5px,#00e9ff 566.5px,#00d0ff 687.5px,#00cdff 699.5px)"></i>
<i style="top:123px;height:1px;background:linear-gradient(90deg,#0031ff 0.5px,#0074ff 30.5px,#00d9ff 62.5px,#06f5f7 69.5px,#1fffd9 73.5px,#58ffa0 79.5px,#d9ff1f 96.5px,#fefa01 102.5px,#ff6a00 124.5px,#ff8100 127.5px,#fd9702 129.5px,#eea511 130.5px,#c0be40 131.5px,#7bdd86 132.5px,#4ef1b3 133.5px,#42f8c0 134.5px,#55fab0 157.5px,#62f1a2 158.5px,#8bd378 159.5px,#bfac42 160.5px,#f38b0d 162.5px,#ff8900 164.5px,#ffb100 174.5px,#ffc100 177.5px,#ffe100 191.5px,#f9ff05 201.5px,#92ff60 224.5px,#73ff84 232.5px,#7cff7a 261.5px,#b3ff40 280.5px,#b4ff3f 301.5px,#89ff6b 324.5px,#4bffad 394.5px,#1fffd9 443.5px,#0cfbee 475.5px,#00e9ff 566.5px,#00d0ff 687.5px,#00cdff 699.5px)"></i>
<i style="top:124px;height:1px;background:linear-gradient(90deg,#0035ff 0.5px,#0076ff 29.5px,#00daff 61.5px,#06f5f7 68.5px,#1effda 72.5px,#56ffa2 78.5px,#dcff1c 96.5px,#fff800 102.5px,#ff7500 122.5px,#ff7800 124.5px,#fba104 128.5px,#edae12 129.5px,#bfc341 130.5px,#7adf87 131.5px,#4cf2b5 132.5px,#3ef8c3 133.5px,#53fab1 156.5px,#61f1a3 157.5px,#8ad278 158.5px,#c8a639 159.5px,#f08a10 160.5px,#fe8701 162.5px,#ffb500 174.5px,#ffc400 177.5px,#ffe700 192.5px,#fbff04 200.5px,#99ff58 222.5px,#73ff84 232.5px,#7bff7b 261.5px,#aeff44 281.5px,#b3ff40 301.5px,#87ff6d 325.5px,#4bffad 394.5px,#1fffd9 443.5px,#0cfbee 475.5px,#00e9ff 566.5px,#00d0ff 687.5px,#00cdff 699.5px)"></i>
<i style="top:125px;height:1px;background:linear-gradient(90deg,#003aff 0.5px,#0075ff 27.5px,#00daff 60.5px,#05f5f8 67.5px,#1cffdc 71.5px,#54ffa4 77.5px,#d8ff20 95.5px,#fefc01 101.5px,#ff7d00 121.5px,#ff8c00 124.5px,#fda002 126.5px,#f0ad0f 127.5px,#b4cc4c 129.5px,#77e289 130.5px,#4af3b7 131.5px,#3cf8c5 132.5px,#51fab3 155.5px,#5ff1a5 156.5px,#89d379 157.5px,#c7a63a 158.5px,#f08a0f 159.5px,#fd8402 160.5px,#ffb900 174.5px,#ffc800 177.5px,#ffe900 192.5px,#f9ff05 200.5px,#98ff59 222.5px,#73ff85 232.5px,#7cff7a 262.5px,#acff46 283.5px,#b1ff41 301.5px,#87ff6d 325.5px,#4bffad 394.5px,#1fffd9 443.5px,#0cfbee 475.5px,#00e9ff 566.5px,#00d0ff 687.5px,#00cdff 699.5px)"></i>
<i style="top:126px;height:1px;background:linear-gradient(90deg,#003fff 0.5px,#0077ff 26.5px,#00daff 59.5px,#05f4f8 66.5px,#1affde 70.5px,#52ffa6 76.5px,#d4ff24 94.5px,#fefb01 101.5px,#ff8400 120.5px,#ffa000 124.5px,#fdaa02 125.5px,#eeb511 126.5px,#bfc941 127.5px,#81de7f 128.5px,#46f4bb 130.5px,#3af8c7 131.5px,#4ffab4 154.5px,#5df1a6 155.5px,#88d37a 156.5px,#c6a73a 157.5px,#f08b0f 158.5px,#fd8502 159.5px,#ffbc00 174.5px,#ffcc00 177.5px,#ffec00 192.5px,#f7ff07 200.5px,#97ff5b 222.5px,#73ff85 232.5px,#7cff7a 263.5px,#a9ff48 284.5px,#b2ff41 300.5px,#86ff6e 326.5px,#4affae 395.5px,#0efdeb 468.5px,#00ecff 556.5px,#00d2ff 677.5px,#00cdff 699.5px)"></i>
<i style="top:127px;height:1px;background:linear-gradient(90deg,#0044ff 0.5px,#0078ff 25.5px,#00daff 58.5px,#04f4f9 65.5px,#18fee1 69.5px,#50ffa8 75.5px,#d6ff21 94.5px,#fff900 101.5px,#ff8d00 118.5px,#ff9800 121.5px,#fab305 124.5px,#ecbe13 125.5px,#bdcf43 126.5px,#75e48b 127.5px,#47f3ba 128.5px,#3af7c7 129.5px,#4ff8b4 153.5px,#5cf0a7 154.5px,#87d37b 155.5px,#c6a73b 156.5px,#f08b0f 157.5px,#fd8602 158.5px,#ffc000 174.5px,#ffd000 177.5px,#fff200 193.5px,#f4ff09 200.5px,#91ff61 223.5px,#73ff84 231.5px,#7cff7a 263.5px,#aaff48 287.5px,#aeff44 301.5px,#86ff6e 326.5px,#57ffa1 376.5px,#2bffcd 432.5px,#0dfdec 469.5px,#00ecff 557.5px,#00d1ff 678.5px,#00ceff 696.5px,#00cdff 699.5px)"></i>
<i style="top:128px;height:1px;background:linear-gradient(90deg,#0048ff 0.5px,#007aff 24.5px,#00daff 57.5px,#06f6f6 65.5px,#1fffd9 69.5px,#55ffa3 75.5px,#d2ff25 93.5px,#fdfd01 100.5px,#ff9400 117.5px,#ffa200 120.5px,#fdb402 122.5px,#f0be0f 123.5px,#b2d74e 125.5px,#73e88d 126.5px,#44f4bc 127.5px,#36f8ca 128.5px,#4bf9b8 151.5px,#57f1ac 152.5px,#8fcc73 154.5px,#c6a73a 155.5px,#f08c10 156.5px,#fd8602 157.5px,#ffc400 174.5px,#ffd300 176.5px,#fff200 192.5px,#f5ff08 199.5px,#98ff59 221.5px,#73ff84 231.5px,#7cff7a 264.5px,#aaff48 289.5px,#abff46 302.5px,#85ff6f 327.5px,#4affae 395.5px,#0efdeb 468.5px,#00ecff 556.5px,#00d2ff 677.5px,#00cdff 699.5px)"></i>
<i style="top:129px;height:1px;background:linear-gradient(90deg,#004cff 0.5px,#007eff 24.5px,#00daff 56.5px,#06f5f7 64.5px,#1cffdc 68.5px,#52ffa6 74.5px,#d5ff23 93.5px,#fefc01 100.5px,#ff9d00 115.5px,#ffa400 118.5px,#fdbe02 121.5px,#edc812 122.5px,#bdd642 123.5px,#7de582 124.5px,#40f5c0 126.5px,#34f8cc 127.5px,#49f9ba 150.5px,#57f0ab 151.5px,#83d27f 152.5px,#bbac46 153.5px,#f28b0e 155.5px,#ff8900 157.5px,#ffc800 174.5px,#ffd700 176.5px,#fff500 192.5px,#f3ff0a 199.5px,#97ff5b 221.5px,#73ff85 231.5px,#7bff7b 264.5px,#aaff47 291.5px,#aaff48 302.5px,#85ff70 328.5px,#4affae 395.5px,#0efdeb 468.5px,#00ecff 556.5px,#00d2ff 677.5px,#00cdff 699.5px)"></i>
<i style="top:130px;height:1px;background:linear-gradient(90deg,#0050ff 0.5px,#0082ff 24.5px,#00daff 55.5px,#05f5f7 63.5px,#1affde 67.5px,#50ffa8 73.5px,#d1ff26 92.5px,#fefb01 100.5px,#ffa400 114.5px,#ffae00 117.5px,#fdc802 120.5px,#edd212 121.5px,#bcdd44 122.5px,#72eb8e 123.5px,#42f4be 124.5px,#34f7cc 125.5px,#47f9bb 149.5px,#56f0ad 150.5px,#82d27f 151.5px,#c4a63d 152.5px,#ef8a11 153.5px,#fe8701 155.5px,#ffcc00 174.5px,#ffdb00 176.5px,#fff800 192.5px,#edff0f 200.5px,#8dff66 223.5px,#73ff85 231.5px,#7cff7a 265.5px,#a9ff48 292.5px,#a7ff4a 303.5px,#84ff71 329.5px,#4affae 395.5px,#0efdeb 468.5px,#00ecff 556.5px,#00d2ff 677.5px,#00cdff 699.5px)"></i>
<i style="top:131px;height:1px;background:linear-gradient(90deg,#0054ff 0.5px,#008bff 26.5px,#00daff 54.5px,#05f5f8 62.5px,#18fee0 66.5px,#4effaa 72.5px,#cdff2a 91.5px,#fff900 100.5px,#ffac00 112.5px,#ffb100 115.5px,#fad305 119.5px,#ecdc13 120.5px,#bbe544 121.5px,#71ee8e 122.5px,#40f5c0 123.5px,#31f7cf 124.5px,#45f9bd 148.5px,#54efae 149.5px,#81d280 150.5px,#c3a63d 151.5px,#ef8a10 152.5px,#fd8402 153.5px,#ffd000 174.5px,#ffe000 176.5px,#faff04 195.5px,#a8ff49 216.5px,#73ff84 230.5px,#7cff7a 266.5px,#a9ff49 293.5px,#a5ff4b 303.5px,#83ff72 330.5px,#4affae 395.5px,#0efdeb 468.5px,#00ecff 556.5px,#00d2ff 677.5px,#00cdff 699.5px)"></i>
<i style="top:132px;height:1px;background:linear-gradient(90deg,#0057ff 0.5px,#009aff 31.5px,#00e1ff 55.5px,#07f7f5 62.5px,#1fffd9 66.5px,#53ffa5 72.5px,#cfff27 91.5px,#fefd01 99.5px,#ffb200 111.5px,#ffbc00 114.5px,#fdd602 117.5px,#efde10 118.5px,#b0ed50 120.5px,#70f290 121.5px,#3ff6c1 122.5px,#30f7d0 123.5px,#46f7bd 147.5px,#53efaf 148.5px,#80d281 149.5px,#c3a63e 150.5px,#ef8b10 151.5px,#fd8502 152.5px,#ffd500 174.5px,#ffe400 176.5px,#faff04 194.5px,#afff43 214.5px,#73ff85 230.5px,#7cff7a 266.5px,#a8ff49 294.5px,#a2ff4e 304.5px,#83ff72 330.5px,#4affae 395.5px,#0efdeb 468.5px,#00ecff 556.5px,#00d2ff 677.5px,#00cdff 699.5px)"></i>
<i style="top:133px;height:1px;background:linear-gradient(90deg,#005bff 0.5px,#00b0ff 38.5px,#04f4f9 60.5px,#1dffdb 65.5px,#51ffa7 71.5px,#cbff2b 90.5px,#fefc01 99.5px,#ffbb00 109.5px,#ffbf00 112.5px,#fde202 116.5px,#ede912 117.5px,#bcef44 118.5px,#7bf385 119.5px,#3cf6c4 121.5px,#2ff7d1 122.5px,#41f8c1 145.5px,#4ef0b4 146.5px,#89cb78 148.5px,#c3a63d 149.5px,#ef8b10 150.5px,#fd8602 151.5px,#ffd900 174.5px,#ffe800 176.5px,#faff04 193.5px,#b1ff42 213.5px,#73ff84 229.5px,#7cff7a 267.5px,#a6ff4b 294.5px,#a1ff4f 304.5px,#82ff72 331.5px,#4bffad 394.5px,#1fffd9 443.5px,#0cfbee 475.5px,#00e9ff 566.5px,#00d0ff 687.5px,#00cdff 699.5px)"></i>
<i style="top:134px;height:1px;background:linear-gradient(90deg,#005eff 0.5px,#00bbff 41.5px,#04f3fa 59.5px,#1affde 64.5px,#4fffa9 70.5px,#c7ff2e 89.5px,#fefb00 99.5px,#ffc100 108.5px,#ffcb00 111.5px,#fcec03 115.5px,#ecf213 116.5px,#baf645 117.5px,#6ff690 118.5px,#3ef6c2 119.5px,#30f7d0 120.5px,#3bf9c6 142.5px,#3ff8c3 144.5px,#4eefb3 145.5px,#7cd185 146.5px,#b7ab49 147.5px,#f18b0e 149.5px,#fd8602 150.5px,#ffdd00 174.5px,#ffec00 176.5px,#f9ff05 192.5px,#b7ff3c 211.5px,#73ff85 229.5px,#7dff79 268.5px,#a6ff4b 295.5px,#9cff55 307.5px,#81ff74 333.5px,#4bffad 394.5px,#1fffd9 443.5px,#0cfbee 475.5px,#00e9ff 566.5px,#00d0ff 687.5px,#00cdff 699.5px)"></i>
<i style="top:135px;height:1px;background:linear-gradient(90deg,#0061ff 0.5px,#00bbff 40.5px,#03f3fa 58.5px,#18ffe0 63.5px,#4dffab 69.5px,#caff2c 89.5px,#fff900 99.5px,#ffc800 107.5px,#ffe000 111.5px,#f8f507 114.5px,#e8f916 115.5px,#b7fa48 116.5px,#6ef892 117.5px,#3cf7c4 118.5px,#2df7d3 119.5px,#3df8c4 143.5px,#4defb5 144.5px,#7cd185 145.5px,#c0a53f 146.5px,#ee8a12 147.5px,#fb8404 148.5px,#ffe100 174.5px,#fff000 176.5px,#f8ff06 191.5px,#b8ff3b 210.5px,#73ff84 228.5px,#7cff7a 268.5px,#a5ff4c 296.5px,#94ff5e 312.5px,#4bffad 393.5px,#21ffd7 441.5px,#0cfced 473.5px,#00eaff 564.5px,#00d0ff 685.5px,#00ceff 697.5px,#00cdff 699.5px)"></i>
<i style="top:136px;height:1px;background:linear-gradient(90deg,#0064ff 0.5px,#00bbff 39.5px,#03f3fb 57.5px,#16fee2 62.5px,#51ffa7 69.5px,#c7ff2f 88.5px,#fefd01 98.5px,#ffd200 105.5px,#ffdb00 108.5px,#f9f706 112.5px,#e9fa15 113.5px,#a8fb56 115.5px,#6af995 116.5px,#3bf7c5 117.5px,#2cf6d4 118.5px,#3bf8c6 142.5px,#4beeb6 143.5px,#7ad186 144.5px,#c0a540 145.5px,#ee8a11 146.5px,#fd8402 147.5px,#ffe600 174.5px,#fff500 177.5px,#f7ff07 190.5px,#b9ff3a 209.5px,#73ff85 228.5px,#7dff79 269.5px,#a3ff4d 296.5px,#93ff5f 312.5px,#4bffad 393.5px,#21ffd7 441.5px,#0cfced 473.5px,#00eaff 564.5px,#00d0ff 685.5px,#00ceff 697.5px,#00cdff 699.5px)"></i>
<i style="top:137px;height:1px;background:linear-gradient(90deg,#0067ff 0.5px,#00b9ff 37.5px,#03f2fb 56.5px,#14fee4 61.5px,#4fffa9 68.5px,#c9ff2d 88.5px,#fefc01 98.5px,#ffda00 104.5px,#f9f905 110.5px,#f3fc0a 111.5px,#e1fd1c 112.5px,#b1fc4d 113.5px,#73f98b 114.5px,#37f7c9 116.5px,#2bf6d5 117.5px,#38f8c9 140.5px,#3cf6c5 141.5px,#4aeeb7 142.5px,#79d187 143.5px,#bfa540 144.5px,#ee8a11 145.5px,#fd8402 146.5px,#ffea00 174.5px,#fff900 177.5px,#f3ff0a 190.5px,#baff39 208.5px,#73ff85 228.5px,#7cff7a 269.5px,#a2ff4e 296.5px,#93ff5f 312.5px,#5bff9d 372.5px,#29ffcf 434.5px,#0dfdec 469.5px,#00ecff 557.5px,#00d1ff 678.5px,#00ceff 696.5px,#00cdff 699.5px)"></i>
<i style="top:138px;height:1px;background:linear-gradient(90deg,#006bff 0.5px,#00b7ff 35.5px,#04f4f9 56.5px,#1bffde 61.5px,#4dffab 67.5px,#c6ff30 87.5px,#fffb00 98.5px,#ffe300 103.5px,#f3fd0a 109.5px,#ecfe10 110.5px,#d9fe23 111.5px,#aafc53 112.5px,#66f999 113.5px,#39f7c7 114.5px,#2cf6d4 115.5px,#37f7ca 139.5px,#44efbc 140.5px,#82ca7e 142.5px,#c0a540 143.5px,#ee8b11 144.5px,#fd8502 145.5px,#ffee00 174.5px,#fefc01 177.5px,#edff0f 191.5px,#afff43 210.5px,#73ff85 227.5px,#7cff79 270.5px,#a1ff4f 297.5px,#80ff76 337.5px,#4cffac 392.5px,#23ffd5 439.5px,#0dfcec 471.5px,#00ebff 560.5px,#00d1ff 681.5px,#00cdff 699.5px)"></i>
<i style="top:139px;height:1px;background:linear-gradient(90deg,#006eff 0.5px,#00b5ff 33.5px,#04f4fa 55.5px,#19ffe0 60.5px,#51ffa7 67.5px,#c2ff33 86.5px,#fffa00 98.5px,#feed01 102.5px,#f0fe0d 107.5px,#e0ff1a 109.5px,#cffe2b 110.5px,#a2fc59 111.5px,#62f89c 112.5px,#36f6c9 113.5px,#29f6d7 114.5px,#35f7cb 138.5px,#45eebb 139.5px,#75d08b 140.5px,#b3aa4c 141.5px,#f08a0f 143.5px,#fd8502 144.5px,#fcfe02 177.5px,#e2ff17 194.5px,#96ff5c 216.5px,#73ff85 227.5px,#7cff7a 270.5px,#a0ff50 297.5px,#5dff9b 370.5px,#27ffd1 435.5px,#0dfcec 470.5px,#00ebff 559.5px,#00d1ff 680.5px,#00cdff 698.5px,#00cdff 699.5px)"></i>
<i style="top:140px;height:1px;background:linear-gradient(90deg,#0071ff 0.5px,#00b2ff 31.5px,#03f3fa 54.5px,#17fee2 59.5px,#4fffa9 66.5px,#c5ff31 86.5px,#fefd01 97.5px,#fcf502 101.5px,#deff1b 107.5px,#cefe2b 108.5px,#93fb68 110.5px,#5df8a0 111.5px,#34f6cb 112.5px,#28f5d8 113.5px,#33f7cd 137.5px,#43edbd 138.5px,#75d08b 139.5px,#bda442 140.5px,#ed8912 141.5px,#fb8304 142.5px,#fdf601 174.5px,#f8ff06 178.5px,#daff1f 196.5px,#8cff67 218.5px,#73ff85 226.5px,#7cff79 271.5px,#9fff51 297.5px,#62ff96 366.5px,#24ffd4 438.5px,#0dfcec 471.5px,#00ebff 560.5px,#00d1ff 681.5px,#00cdff 699.5px)"></i>
<i style="top:141px;height:1px;background:linear-gradient(90deg,#0075ff 0.5px,#00b3ff 30.5px,#03f3fa 53.5px,#15fee4 58.5px,#4dffab 65.5px,#c1ff33 85.5px,#fdfd01 97.5px,#e9ff12 103.5px,#d3ff24 106.5px,#c2fe36 107.5px,#98fc61 108.5px,#64f998 109.5px,#31f6ce 111.5px,#25f5db 113.5px,#32f6ce 136.5px,#42edbe 137.5px,#74d08c 138.5px,#bda443 139.5px,#ee8812 140.5px,#fd8302 141.5px,#fcf902 174.5px,#efff0d 183.5px,#c6ff2f 201.5px,#7bff7b 222.5px,#73ff85 228.5px,#7dff79 272.5px,#9fff52 298.5px,#7fff76 338.5px,#4cffac 392.5px,#23ffd5 439.5px,#0dfcec 471.5px,#00ebff 560.5px,#00d1ff 681.5px,#00cdff 699.5px)"></i>
<i style="top:142px;height:1px;background:linear-gradient(90deg,#0078ff 0.5px,#00b1ff 28.5px,#03f3fb 52.5px,#13fee5 57.5px,#4cffac 64.5px,#c4ff31 85.5px,#faff04 96.5px,#deff1b 102.5px,#c8ff2e 105.5px,#b7fe3f 106.5px,#8ffc69 107.5px,#57f8a6 108.5px,#32f6cd 109.5px,#25f5db 111.5px,#31f6cf 135.5px,#41edbf 136.5px,#73d08d 137.5px,#bca443 138.5px,#ed8912 139.5px,#fd8302 140.5px,#fbfc03 174.5px,#efff0d 178.5px,#d2ff25 196.5px,#8bff69 217.5px,#73ff85 225.5px,#7cff7a 272.5px,#9eff53 298.5px,#64ff94 364.5px,#23ffd5 439.5px,#0dfcec 471.5px,#00ebff 560.5px,#00d1ff 681.5px,#00cdff 699.5px)"></i>
<i style="top:143px;height:1px;background:linear-gradient(90deg,#007aff 0.5px,#00b1ff 27.5px,#03f2fb 51.5px,#19ffdf 57.5px,#4fffa9 64.5px,#c1ff34 84.5px,#f3ff0a 94.5px,#e6ff14 98.5px,#bbff39 104.5px,#acfe49 105.5px,#87fc70 106.5px,#52f8aa 107.5px,#2ff5d0 108.5px,#24f5dc 109.5px,#32f5ce 134.5px,#41ecbf 135.5px,#72cf8e 136.5px,#bca443 137.5px,#ed8912 138.5px,#fd8302 139.5px,#fdfc01 173.5px,#ebff10 177.5px,#d3ff24 194.5px,#8fff64 215.5px,#73ff85 224.5px,#7cff7a 272.5px,#9dff54 298.5px,#66ff92 362.5px,#43ffb5 407.5px,#0efdea 466.5px,#00ecff 554.5px,#00d2ff 675.5px,#00ceff 697.5px,#00cdff 699.5px)"></i>
<i style="top:144px;height:1px;background:linear-gradient(90deg,#007dff 0.5px,#00aeff 25.5px,#04f4fa 51.5px,#16ffe2 56.5px,#4dffab 63.5px,#c3ff32 84.5px,#ecff0f 93.5px,#cdff29 99.5px,#b8ff3c 102.5px,#95fd61 104.5px,#7afb7d 105.5px,#4ef8ad 106.5px,#2df5d2 107.5px,#23f4dd 108.5px,#2ff6d1 132.5px,#3ceec3 133.5px,#7cc983 135.5px,#bda443 136.5px,#ed8a12 137.5px,#fd8402 138.5px,#fbfe03 173.5px,#e7ff13 176.5px,#d1ff26 193.5px,#8fff63 214.5px,#72ff85 224.5px,#7cff79 273.5px,#9cff55 298.5px,#68ff90 360.5px,#45ffb3 403.5px,#0efdeb 467.5px,#00ecff 555.5px,#00d2ff 676.5px,#00cdff 698.5px,#00cdff 699.5px)"></i>
<i style="top:145px;height:1px;background:linear-gradient(90deg,#007eff 0.5px,#00b0ff 25.5px,#03f3fb 50.5px,#19ffdf 56.5px,#4fffa9 63.5px,#beff36 83.5px,#e5ff16 91.5px,#d5ff23 95.5px,#afff44 101.5px,#a1fe52 102.5px,#7ffb77 103.5px,#54f8a6 104.5px,#2af5d5 106.5px,#21f4df 108.5px,#2ef5d2 131.5px,#3eecc2 132.5px,#6fcf90 133.5px,#b0a94f 134.5px,#ef8810 136.5px,#fd8402 137.5px,#fbfe03 172.5px,#e3ff17 176.5px,#cdff2a 193.5px,#8dff67 214.5px,#73ff85 223.5px,#7cff7a 273.5px,#9bff55 299.5px,#67ff91 361.5px,#44ffb4 405.5px,#0efdea 466.5px,#00ecff 554.5px,#00d2ff 675.5px,#00ceff 697.5px,#00cdff 699.5px)"></i>
<i style="top:146px;height:1px;background:linear-gradient(90deg,#0281fc 0.5px,#02b2fc 25.5px,#05f3f8 50.5px,#1bffdd 56.5px,#50ffa8 63.5px,#bdff37 83.5px,#dcff1e 90.5px,#a6ff4c 100.5px,#9afe58 101.5px,#7afb7c 102.5px,#4af7b1 103.5px,#2bf5d4 104.5px,#20f4e0 106.5px,#2df5d3 130.5px,#3decc3 131.5px,#70ce90 132.5px,#bba245 133.5px,#ec8713 134.5px,#fa8205 135.5px,#faff04 171.5px,#deff1b 177.5px,#c6ff2f 194.5px,#8aff6a 214.5px,#72ff85 223.5px,#7cff7a 273.5px,#9bff56 299.5px,#69ff8f 359.5px,#46ffb2 402.5px,#0efdeb 467.5px,#00ecff 555.5px,#00d2ff 676.5px,#00cdff 698.5px,#00cdff 699.5px)"></i>
<i style="top:147px;height:1px;background:linear-gradient(90deg,#1a9ce4 0.5px,#1acee4 31.5px,#1df7de 51.5px,#2dffcb 56.5px,#5bff9d 64.5px,#b9ff3f 86.5px,#beff3a 90.5px,#95fe5f 99.5px,#6ffb87 101.5px,#47f7b4 102.5px,#29f4d6 103.5px,#1ff4e1 105.5px,#2cf5d4 129.5px,#3cecc4 130.5px,#6fce91 131.5px,#bba245 132.5px,#ed8712 133.5px,#fd8102 134.5px,#faff04 170.5px,#daff1f 177.5px,#c2ff33 194.5px,#87ff6d 214.5px,#72ff85 222.5px,#7cff7a 274.5px,#9aff57 299.5px,#6cff8c 357.5px,#47ffb1 400.5px,#0efdeb 467.5px,#00ecff 555.5px,#00d2ff 676.5px,#00cdff 698.5px,#00cdff 699.5px)"></i>
<i style="top:148px;height:1px;background:linear-gradient(90deg,#3ac1c0 0.5px,#3cfabf 51.5px,#99ff61 89.5px,#91ff69 98.5px,#7dfd7d 99.5px,#52f8aa 100.5px,#26f4d8 102.5px,#1ef3e2 104.5px,#2df3d3 128.5px,#3cebc3 129.5px,#6fce91 130.5px,#baa245 131.5px,#ed8712 132.5px,#fd8102 133.5px,#fcfe02 168.5px,#e3ff17 174.5px,#d5ff23 177.5px,#bbff39 195.5px,#81ff74 215.5px,#72ff85 222.5px,#7cff7a 274.5px,#99ff58 299.5px,#6eff8a 355.5px,#48ffb0 398.5px,#0efdeb 467.5px,#00ecff 555.5px,#00d2ff 676.5px,#00cdff 698.5px,#00cdff 699.5px)"></i>
<i style="top:149px;height:1px;background:linear-gradient(90deg,#1fa4d9 0.5px,#1ad7e4 33.5px,#1ef7e0 49.5px,#6eff90 75.5px,#a1ff5e 90.5px,#adff56 98.5px,#8dfc76 99.5px,#43f6bd 100.5px,#21f3de 101.5px,#25f5db 120.5px,#2af4d6 126.5px,#38ecc8 127.5px,#79c786 129.5px,#bba244 130.5px,#ed8712 131.5px,#fd8102 132.5px,#fcfe03 167.5px,#deff1b 174.5px,#d0ff27 177.5px,#b6ff3d 195.5px,#7eff78 215.5px,#72ff85 222.5px,#7cff7a 274.5px,#98ff59 300.5px,#6eff8a 355.5px,#48ffb0 398.5px,#0efdeb 467.5px,#00ecff 555.5px,#00d2ff 676.5px,#00cdff 698.5px,#00cdff 699.5px)"></i>
<i style="top:150px;height:1px;background:linear-gradient(90deg,#0a8cee 0.5px,#02c7fc 31.5px,#08f5f7 49.5px,#63ff9d 73.5px,#abff56 89.5px,#beff48 98.5px,#9afc6c 99.5px,#46f6bc 100.5px,#1ff3e1 101.5px,#29f4d7 125.5px,#39ebc7 126.5px,#6ccd94 127.5px,#aea651 128.5px,#ef8510 130.5px,#fd8102 131.5px,#fbfe03 166.5px,#d9ff1f 174.5px,#cbff2b 177.5px,#b2ff41 195.5px,#72ff85 220.5px,#7bff7b 274.5px,#98ff5a 300.5px,#70ff88 353.5px,#49ffaf 397.5px,#0efdeb 467.5px,#00ecff 555.5px,#00d2ff 676.5px,#00cdff 698.5px,#00cdff 699.5px)"></i>
<i style="top:151px;height:1px;background:linear-gradient(90deg,#0889f0 0.5px,#00c3ff 30.5px,#05f5fa 49.5px,#62ff9e 73.5px,#acff55 89.5px,#c0ff47 98.5px,#9bfc6b 99.5px,#46f6bc 100.5px,#1ff3e1 101.5px,#28f4d8 124.5px,#38eac7 125.5px,#6ccc93 126.5px,#b99f46 127.5px,#ec8414 128.5px,#fa7f05 129.5px,#fbfe04 165.5px,#d4ff23 174.5px,#c6ff30 177.5px,#abff47 196.5px,#72ff85 219.5px,#7bff7b 274.5px,#97ff5a 300.5px,#71ff87 352.5px,#49ffaf 396.5px,#0efdeb 468.5px,#00ecff 556.5px,#00d2ff 677.5px,#00cdff 699.5px)"></i>
<i style="top:152px;height:1px;background:linear-gradient(90deg,#0889f0 0.5px,#00c3ff 30.5px,#05f5fa 49.5px,#62ff9e 73.5px,#acff55 89.5px,#c0ff47 98.5px,#9bfc6b 99.5px,#45f6bd 100.5px,#1ef3e2 101.5px,#27f4d9 123.5px,#38eac8 124.5px,#6ccc94 125.5px,#b99f46 126.5px,#ed8313 127.5px,#fd7d02 128.5px,#faff04 164.5px,#cfff28 174.5px,#c1ff34 177.5px,#a7ff4a 196.5px,#72ff86 218.5px,#7cff7a 275.5px,#97ff5b 300.5px,#71ff87 352.5px,#49ffaf 396.5px,#0efdeb 468.5px,#00ecff 556.5px,#00d2ff 677.5px,#00cdff 699.5px)"></i>
<i style="top:153px;height:1px;background:linear-gradient(90deg,#0889f0 0.5px,#00c3ff 30.5px,#05f5fa 49.5px,#62ff9e 73.5px,#acff55 89.5px,#c0ff47 98.5px,#9bfc6b 99.5px,#45f6bd 100.5px,#1ef3e2 101.5px,#29f2d7 122.5px,#38e9c8 123.5px,#6bcb94 124.5px,#b99e47 125.5px,#ec8213 126.5px,#fd7d02 127.5px,#fcfe02 162.5px,#bcff38 177.5px,#a2ff4e 196.5px,#72ff86 217.5px,#7cff7a 275.5px,#96ff5c 301.5px,#72ff86 351.5px,#49ffaf 396.5px,#0efdeb 468.5px,#00ecff 556.5px,#00d2ff 677.5px,#00cdff 699.5px)"></i>
<i style="top:154px;height:1px;background:linear-gradient(90deg,#0889f0 0.5px,#00c3ff 30.5px,#05f5fa 49.5px,#62ff9e 73.5px,#acff55 89.5px,#c0ff47 98.5px,#9afc6b 99.5px,#45f6bd 100.5px,#1df3e3 101.5px,#25f3db 120.5px,#33ebcd 121.5px,#76c48a 123.5px,#b99d46 124.5px,#ec8213 125.5px,#fd7c02 126.5px,#fcfe03 161.5px,#c5ff31 174.5px,#b7ff3d 177.5px,#9cff55 197.5px,#72ff86 216.5px,#7bff7b 275.5px,#95ff5d 301.5px,#72ff86 351.5px,#49ffaf 396.5px,#0efdeb 468.5px,#00ecff 556.5px,#00d2ff 677.5px,#00cdff 699.5px)"></i>
<i style="top:155px;height:1px;background:linear-gradient(90deg,#0889f0 0.5px,#00c3ff 30.5px,#05f5fa 49.5px,#62ff9e 73.5px,#acff55 89.5px,#c0ff47 98.5px,#9afc6b 99.5px,#44f5be 100.5px,#1df3e3 101.5px,#24f3dc 119.5px,#35e9cb 120.5px,#68c997 121.5px,#aca153 122.5px,#ef8010 124.5px,#fd7c02 125.5px,#fcfe03 160.5px,#bfff35 174.5px,#b2ff41 177.5px,#98ff59 197.5px,#72ff86 215.5px,#7bff7b 275.5px,#95ff5d 301.5px,#72ff86 351.5px,#49ffaf 396.5px,#0efdeb 468.5px,#00ecff 556.5px,#00d2ff 677.5px,#00cdff 699.5px)"></i>
<i style="top:156px;height:1px;background:linear-gradient(90deg,#0889f0 0.5px,#00c3ff 30.5px,#05f5fa 49.5px,#62ff9e 73.5px,#acff55 89.5px,#c0ff47 98.5px,#9afc6b 99.5px,#44f5be 100.5px,#1df2e4 101.5px,#23f3dd 118.5px,#34e8cc 119.5px,#69c897 120.5px,#b79948 121.5px,#eb7d14 122.5px,#fa7805 123.5px,#fbfe03 159.5px,#adff45 177.5px,#96ff5b 196.5px,#72ff86 214.5px,#7bff7b 275.5px,#94ff5e 301.5px,#73ff84 350.5px,#4affae 395.5px,#0efdeb 468.5px,#00ecff 556.5px,#00d2ff 677.5px,#00cdff 699.5px)"></i>
<i style="top:157px;height:1px;background:linear-gradient(90deg,#0889f0 0.5px,#00c3ff 30.5px,#05f5fa 49.5px,#62ff9e 73.5px,#acff55 89.5px,#c0ff47 98.5px,#9afc6b 99.5px,#44f5be 100.5px,#1cf2e4 101.5px,#22f2de 117.5px,#33e8cd 118.5px,#68c897 119.5px,#b79848 120.5px,#ec7b13 121.5px,#fd7602 122.5px,#fffb00 156.5px,#bcff38 173.5px,#a8ff49 176.5px,#94ff5e 195.5px,#72ff86 213.5px,#7bff7c 275.5px,#94ff5e 301.5px,#73ff84 350.5px,#4affae 395.5px,#0efdeb 468.5px,#00ecff 556.5px,#00d2ff 677.5px,#00cdff 699.5px)"></i>
<i style="top:158px;height:1px;background:linear-gradient(90deg,#0889f0 0.5px,#00c3ff 30.5px,#05f5fa 49.5px,#62ff9e 73.5px,#acff55 89.5px,#c0ff47 98.5px,#9afc6c 99.5px,#43f5bf 100.5px,#1cf2e4 101.5px,#21f2df 116.5px,#32e8ce 117.5px,#68c798 118.5px,#b79748 119.5px,#ec7a13 120.5px,#fd7502 121.5px,#ffe100 148.5px,#faff04 157.5px,#b0ff43 174.5px,#a3ff4e 177.5px,#8cff67 197.5px,#72ff86 212.5px,#7cff7b 276.5px,#93ff5f 301.5px,#73ff84 350.5px,#4affae 395.5px,#0efdeb 468.5px,#00ecff 556.5px,#00d2ff 677.5px,#00cdff 699.5px)"></i>
<i style="top:159px;height:1px;background:linear-gradient(90deg,#0889f0 0.5px,#00c3ff 30.5px,#05f5fa 49.5px,#62ff9e 73.5px,#acff55 89.5px,#c0ff47 98.5px,#9afc6c 99.5px,#43f5bf 100.5px,#1bf2e5 101.5px,#23f0dd 115.5px,#32e7cd 116.5px,#67c698 117.5px,#b79649 118.5px,#ec7913 119.5px,#fd7302 120.5px,#ffca00 141.5px,#faff04 156.5px,#aaff47 174.5px,#9eff53 177.5px,#89ff6b 197.5px,#72ff86 210.5px,#7bff7b 276.5px,#92ff60 302.5px,#74ff83 349.5px,#4bffad 394.5px,#1fffd9 443.5px,#0cfbee 475.5px,#00e9ff 566.5px,#00d0ff 687.5px,#00cdff 699.5px)"></i>
<i style="top:160px;height:1px;background:linear-gradient(90deg,#0889f0 0.5px,#00c3ff 30.5px,#05f5fa 49.5px,#62ff9e 73.5px,#acff55 89.5px,#c0ff47 98.5px,#9afc6c 99.5px,#43f5bf 100.5px,#1bf2e5 101.5px,#1ff1e1 113.5px,#2ee8d2 114.5px,#72bd8d 116.5px,#b89448 117.5px,#ec7713 118.5px,#fd7203 119.5px,#ffc300 138.5px,#f9ff05 155.5px,#9aff58 177.5px,#85ff70 197.5px,#72ff86 209.5px,#7bff7b 276.5px,#92ff61 302.5px,#74ff83 349.5px,#4bffad 394.5px,#1fffd9 443.5px,#0cfbee 475.5px,#00e9ff 566.5px,#00d0ff 687.5px,#00cdff 699.5px)"></i>
<i style="top:161px;height:1px;background:linear-gradient(90deg,#0889f0 0.5px,#00c3ff 30.5px,#05f5fa 49.5px,#62ff9e 73.5px,#acff55 89.5px,#c0ff47 98.5px,#9afc6c 99.5px,#42f5c0 100.5px,#1af2e6 101.5px,#1ef1e2 112.5px,#2fe6d1 113.5px,#64c39b 114.5px,#aa9655 115.5px,#ee7311 117.5px,#fd7002 118.5px,#ffbf00 136.5px,#fcfe03 153.5px,#a0ff51 174.5px,#95ff5d 177.5px,#7fff77 198.5px,#72ff86 209.5px,#7bff7b 276.5px,#91ff61 302.5px,#74ff83 349.5px,#4bffad 394.5px,#1fffd9 443.5px,#0cfbee 475.5px,#00e9ff 566.5px,#00d0ff 687.5px,#00cdff 699.5px)"></i>
<i style="top:162px;height:1px;background:linear-gradient(90deg,#0889f0 0.5px,#00c3ff 30.5px,#05f5fa 49.5px,#62ff9e 73.5px,#acff55 89.5px,#c0ff47 98.5px,#9afc6c 99.5px,#42f5c0 100.5px,#1af2e6 101.5px,#1df1e3 111.5px,#2ee5d1 112.5px,#65c19b 113.5px,#b68c4a 114.5px,#eb6d15 115.5px,#fa6905 116.5px,#ffb800 133.5px,#fbfe03 152.5px,#9bff56 174.5px,#91ff62 177.5px,#7bff7b 198.5px,#72ff86 209.5px,#7bff7c 276.5px,#91ff61 302.5px,#74ff83 349.5px,#4bffad 394.5px,#1fffd9 443.5px,#0cfbee 475.5px,#00e9ff 566.5px,#00d0ff 687.5px,#00cdff 699.5px)"></i>
<i style="top:163px;height:1px;background:linear-gradient(90deg,#0889f0 0.5px,#00c3ff 30.5px,#05f5fa 49.5px,#62ff9e 73.5px,#acff55 89.5px,#c0ff47 98.5px,#99fc6c 99.5px,#42f5c0 100.5px,#19f2e7 101.5px,#1cf1e4 110.5px,#2ee5d2 111.5px,#64bf9b 112.5px,#b5894a 113.5px,#ec6914 114.5px,#fc6403 115.5px,#ffb000 130.5px,#fbfe03 151.5px,#97ff5b 174.5px,#8dff67 177.5px,#77ff80 198.5px,#72ff86 218.5px,#7bff7b 277.5px,#91ff62 302.5px,#75ff82 348.5px,#4bffad 394.5px,#1fffd9 443.5px,#0cfbee 475.5px,#00e9ff 566.5px,#00d0ff 687.5px,#00cdff 699.5px)"></i>
<i style="top:164px;height:1px;background:linear-gradient(90deg,#0889f0 0.5px,#00c3ff 30.5px,#05f5fa 49.5px,#62ff9e 73.5px,#acff55 89.5px,#c0ff47 98.5px,#99fc6c 99.5px,#41f5c1 100.5px,#19f2e7 101.5px,#1eeee2 109.5px,#2ee3d2 110.5px,#64bd9c 111.5px,#b5864a 112.5px,#ec6514 113.5px,#fc6003 114.5px,#ffb000 129.5px,#fbfe04 150.5px,#92ff60 174.5px,#88ff6c 177.5px,#71ff86 205.5px,#7aff7c 276.5px,#90ff62 302.5px,#75ff82 348.5px,#4bffad 394.5px,#1fffd9 443.5px,#0cfbee 475.5px,#00e9ff 566.5px,#00d0ff 687.5px,#00cdff 699.5px)"></i>
<i style="top:165px;height:1px;background:linear-gradient(90deg,#0889f0 0.5px,#00c3ff 30.5px,#05f5fa 49.5px,#62ff9e 73.5px,#acff55 89.5px,#c0ff47 98.5px,#99fc6c 99.5px,#41f5c1 100.5px,#19f1e8 101.5px,#1af0e6 107.5px,#29e4d7 108.5px,#6fb290 110.5px,#b68249 111.5px,#eb6114 112.5px,#fc5c03 113.5px,#ffab00 127.5px,#faff04 149.5px,#93ff5f 173.5px,#84ff70 176.5px,#71ff86 204.5px,#7bff7b 277.5px,#90ff62 302.5px,#75ff82 348.5px,#4bffad 394.5px,#1fffd9 443.5px,#0cfbee 475.5px,#00e9ff 566.5px,#00d0ff 687.5px,#00cdff 699.5px)"></i>
<i style="top:166px;height:1px;background:linear-gradient(90deg,#0889f0 0.5px,#00c3ff 30.5px,#05f5fa 49.5px,#62ff9e 73.5px,#acff55 89.5px,#c0ff47 98.5px,#99fb6c 99.5px,#41f4c1 100.5px,#18f1e8 101.5px,#19efe7 106.5px,#2be2d5 107.5px,#61b79f 108.5px,#a88257 109.5px,#ee5a11 111.5px,#fc5703 112.5px,#ffa600 125.5px,#faff04 148.5px,#8eff64 173.5px,#80ff75 176.5px,#71ff86 204.5px,#7bff7b 277.5px,#90ff63 302.5px,#75ff82 348.5px,#4bffad 394.5px,#1fffd9 443.5px,#0cfbee 475.5px,#00e9ff 566.5px,#00d0ff 687.5px,#00cdff 699.5px)"></i>
<i style="top:167px;height:1px;background:linear-gradient(90deg,#0889f0 0.5px,#00c3ff 30.5px,#05f5fa 49.5px,#62ff9e 73.5px,#acff55 89.5px,#c0ff47 98.5px,#99fb6d 99.5px,#40f4c2 100.5px,#18f1e8 101.5px,#18efe8 105.5px,#2ae1d6 106.5px,#62b49e 107.5px,#b4744b 108.5px,#ea5015 109.5px,#fa4b05 110.5px,#ffa100 123.5px,#fcfe02 146.5px,#8eff65 172.5px,#7cff7a 176.5px,#71ff86 205.5px,#7bff7c 277.5px,#90ff63 302.5px,#75ff82 348.5px,#4bffad 394.5px,#1fffd9 443.5px,#0cfbee 475.5px,#00e9ff 566.5px,#00d0ff 687.5px,#00cdff 699.5px)"></i>
<i style="top:168px;height:1px;background:linear-gradient(90deg,#0889f0 0.5px,#00c3ff 30.5px,#05f5fa 49.5px,#62ff9e 73.5px,#acff55 89.5px,#c0ff47 98.5px,#99fb6d 99.5px,#40f4c2 100.5px,#17f1e9 101.5px,#17efe9 104.5px,#29e0d7 105.5px,#61b19f 106.5px,#b46f4c 107.5px,#eb4814 108.5px,#fc4303 109.5px,#ff8e00 119.5px,#fefc01 144.5px,#9dff54 167.5px,#77ff7f 176.5px,#72ff86 215.5px,#7bff7c 277.5px,#8fff63 302.5px,#75ff82 348.5px,#4bffad 394.5px,#1fffd9 443.5px,#0cfbee 475.5px,#00e9ff 566.5px,#00d0ff 687.5px,#00cdff 699.5px)"></i>
<i style="top:169px;height:1px;background:linear-gradient(90deg,#0889f0 0.5px,#00c3ff 30.5px,#05f5fa 49.5px,#62ff9e 73.5px,#acff55 89.5px,#c0ff47 98.5px,#99fb6d 99.5px,#40f4c2 100.5px,#17f1e9 101.5px,#19ece7 103.5px,#29ded7 104.5px,#60ae9f 105.5px,#b3694c 106.5px,#eb4014 107.5px,#fc3b03 108.5px,#ff8c00 118.5px,#ffed00 139.5px,#f4ff09 146.5px,#81ff75 173.5px,#73ff84 177.5px,#79ff7d 276.5px,#8fff64 302.5px,#75ff82 348.5px,#4bffad 394.5px,#1fffd9 443.5px,#0cfbee 475.5px,#00e9ff 566.5px,#00d0ff 687.5px,#00cdff 699.5px)"></i>
<i style="top:170px;height:1px;background:linear-gradient(90deg,#0889f0 0.5px,#00c3ff 30.5px,#05f5fa 49.5px,#62ff9e 73.5px,#acff55 89.5px,#c0ff47 98.5px,#99fb6d 99.5px,#3ff4c3 100.5px,#19eee7 101.5px,#24dfdc 102.5px,#6c9e94 104.5px,#b4614b 105.5px,#eb3814 106.5px,#fc3303 107.5px,#ff8300 116.5px,#ffc200 128.5px,#fbfe03 143.5px,#88ff6c 170.5px,#71ff87 176.5px,#7aff7c 277.5px,#8fff64 302.5px,#75ff82 348.5px,#4bffad 394.5px,#1fffd9 443.5px,#0cfbee 475.5px,#00e9ff 566.5px,#00d0ff 687.5px,#00cdff 699.5px)"></i>
<i style="top:171px;height:1px;background:linear-gradient(90deg,#0889f0 0.5px,#00c3ff 30.5px,#05f5fa 49.5px,#62ff9e 73.5px,#acff55 89.5px,#c0ff47 98.5px,#99fb6d 99.5px,#41f1c0 100.5px,#2adcd6 101.5px,#5ea5a2 102.5px,#a65e59 103.5px,#cf3e30 104.5px,#ee2c12 105.5px,#fc2a03 106.5px,#ff8000 115.5px,#ffbd00 126.5px,#fbfe03 142.5px,#83ff71 170.5px,#70ff88 177.5px,#7aff7c 277.5px,#8eff65 303.5px,#75ff82 348.5px,#4bffad 394.5px,#1fffd9 443.5px,#0cfbee 475.5px,#00e9ff 566.5px,#00d0ff 687.5px,#00cdff 699.5px)"></i>
<i style="top:172px;height:1px;background:linear-gradient(90deg,#0889f0 0.5px,#00c3ff 30.5px,#05f5fa 49.5px,#62ff9e 73.5px,#acff55 89.5px,#c0ff47 98.5px,#9afa6c 99.5px,#50e2b2 100.5px,#61a49f 101.5px,#b24f4d 102.5px,#ea1b15 103.5px,#fa1505 104.5px,#ff7c00 114.5px,#ffb700 124.5px,#fbfe03 141.5px,#83ff72 169.5px,#70ff88 177.5px,#7aff7c 277.5px,#8eff65 303.5px,#76ff81 347.5px,#4bffad 393.5px,#21ffd7 441.5px,#0cfced 473.5px,#00eaff 564.5px,#00d0ff 685.5px,#00ceff 697.5px,#00cdff 699.5px)"></i>
<i style="top:173px;height:1px;background:linear-gradient(90deg,#0889f0 0.5px,#00c3ff 30.5px,#05f5fa 49.5px,#62ff9e 73.5px,#acff55 89.5px,#c0ff47 98.5px,#9cf769 99.5px,#6bc797 100.5px,#a65f5a 101.5px,#e81817 102.5px,#fc0903 103.5px,#ff6f00 112.5px,#ffb100 122.5px,#fcfe02 140.5px,#7fff76 169.5px,#70ff88 178.5px,#7aff7d 277.5px,#8eff65 303.5px,#76ff81 347.5px,#4bffad 393.5px,#21ffd7 441.5px,#0cfced 473.5px,#00eaff 564.5px,#00d0ff 685.5px,#00ceff 697.5px,#00cdff 699.5px)"></i>
</div>
<svg width="700" height="739" viewBox="0 0 700 739">
<path d="M0 25H100V0.5M0 148.5H100.5V174" stroke="#28352f" stroke-width="1.2" fill="none" stroke-linejoin="round"/>
<path d="M100 0.5L175 40H274V59.3H175L100 25" stroke="#28352f" stroke-width="1.2" fill="none" stroke-linejoin="round"/>
<path d="M100.5 148.5L175 89.5H274V111.3H175L100.5 174" stroke="#28352f" stroke-width="1.2" fill="none" stroke-linejoin="round"/>
<path d="M32 62.4L129.8 81.8L33 101.6" fill="none" stroke="#303030" stroke-width="1"/>
<rect x="0" y="0" width="700" height="1" fill="#c8f4ff"/><rect x="0" y="0" width="1.2" height="174" fill="#f0f8ff"/>
<ellipse cx="417.4" cy="15.90" rx="1.9" ry="3" fill="#f00000"/><ellipse cx="417.4" cy="24.85" rx="1.9" ry="3" fill="#f00000"/><ellipse cx="417.4" cy="33.80" rx="1.9" ry="3" fill="#f00000"/><ellipse cx="417.4" cy="42.75" rx="1.9" ry="3" fill="#f00000"/><ellipse cx="417.4" cy="51.70" rx="1.9" ry="3" fill="#f00000"/><ellipse cx="417.4" cy="60.65" rx="1.9" ry="3" fill="#f00000"/><ellipse cx="417.4" cy="69.60" rx="1.9" ry="3" fill="#f00000"/><ellipse cx="417.4" cy="78.55" rx="1.9" ry="3" fill="#f00000"/><ellipse cx="417.4" cy="87.50" rx="1.9" ry="3" fill="#f00000"/><ellipse cx="417.4" cy="96.45" rx="1.9" ry="3" fill="#f00000"/><ellipse cx="417.4" cy="105.40" rx="1.9" ry="3" fill="#f00000"/><ellipse cx="417.4" cy="114.35" rx="1.9" ry="3" fill="#f00000"/><ellipse cx="417.4" cy="123.30" rx="1.9" ry="3" fill="#f00000"/><ellipse cx="417.4" cy="132.25" rx="1.9" ry="3" fill="#f00000"/><ellipse cx="417.4" cy="141.20" rx="1.9" ry="3" fill="#f00000"/><ellipse cx="417.4" cy="150.15" rx="1.9" ry="3" fill="#f00000"/><ellipse cx="417.4" cy="159.10" rx="1.9" ry="3" fill="#f00000"/>
<text x="459.4" y="23.8" class="red">Laser</text>
<text x="437.2" y="51.6" class="red" style="white-space:pre">(z = 5 mm)</text>
<text x="578" y="34.9" class="biga">(a)</text>
<defs><linearGradient id="cbg" x1="0" x2="1" y1="0" y2="0"><stop offset="0.0000" stop-color="#0000e8"/><stop offset="0.0667" stop-color="#0030ff"/><stop offset="0.1333" stop-color="#0064ff"/><stop offset="0.2000" stop-color="#0096ff"/><stop offset="0.2667" stop-color="#00c8ff"/><stop offset="0.3200" stop-color="#00f0ff"/><stop offset="0.3600" stop-color="#10ffe8"/><stop offset="0.4000" stop-color="#40ffb8"/><stop offset="0.4667" stop-color="#70ff88"/><stop offset="0.5333" stop-color="#a0ff50"/><stop offset="0.6000" stop-color="#d8ff20"/><stop offset="0.6533" stop-color="#ffff00"/><stop offset="0.7333" stop-color="#ffc800"/><stop offset="0.8000" stop-color="#ffa000"/><stop offset="0.8667" stop-color="#ff7000"/><stop offset="0.9333" stop-color="#ff3800"/><stop offset="1.0000" stop-color="#ff0000"/></linearGradient></defs><rect x="17.5" y="199.3" width="655.3" height="10" fill="url(#cbg)" stroke="#333" stroke-width="1"/><path d="M104.9 199.3v2.5M104.9 209.3v-2.5M192.2 199.3v2.5M192.2 209.3v-2.5M279.6 199.3v2.5M279.6 209.3v-2.5M367.0 199.3v2.5M367.0 209.3v-2.5M454.4 199.3v2.5M454.4 209.3v-2.5M541.7 199.3v2.5M541.7 209.3v-2.5M629.1 199.3v2.5M629.1 209.3v-2.5" stroke="#222" stroke-width="1"/><text x="17.5" y="223.5" class="cbl" text-anchor="middle">0</text><text x="104.9" y="223.5" class="cbl" text-anchor="middle">2</text><text x="192.2" y="223.5" class="cbl" text-anchor="middle">4</text><text x="279.6" y="223.5" class="cbl" text-anchor="middle">6</text><text x="367.0" y="223.5" class="cbl" text-anchor="middle">8</text><text x="454.4" y="223.5" class="cbl" text-anchor="middle">10</text><text x="541.7" y="223.5" class="cbl" text-anchor="middle">12</text><text x="629.1" y="223.5" class="cbl" text-anchor="middle">14</text><text x="155" y="262.6" class="cap" style="white-space:pre">Electric Field,  x component</text><text x="434" y="262.6" class="cap">(</text><text x="443.5" y="262.6" class="cap">kV/cm</text><text x="510.5" y="262.6" class="cap">)</text>
<line x1="225.7" y1="310.0" x2="225.7" y2="672.0" class="grid"/><line x1="317.6" y1="310.0" x2="317.6" y2="672.0" class="grid"/><line x1="409.6" y1="310.0" x2="409.6" y2="672.0" class="grid"/><line x1="501.5" y1="310.0" x2="501.5" y2="672.0" class="grid"/><line x1="140.8" y1="616.9" x2="586.4" y2="616.9" class="grid"/><line x1="140.8" y1="559.9" x2="586.4" y2="559.9" class="grid"/><line x1="140.8" y1="502.8" x2="586.4" y2="502.8" class="grid"/><line x1="140.8" y1="445.7" x2="586.4" y2="445.7" class="grid"/><line x1="140.8" y1="388.7" x2="586.4" y2="388.7" class="grid"/><line x1="140.8" y1="331.6" x2="586.4" y2="331.6" class="grid"/><path d="M133.8 674.0V680.7M225.7 674.0V680.7M225.7 303.0V309.8M317.6 674.0V680.7M317.6 303.0V309.8M409.6 674.0V680.7M409.6 303.0V309.8M501.5 674.0V680.7M501.5 303.0V309.8M593.4 674.0V680.7M179.8 674.0V677.2M179.8 303.0V306.0M271.7 674.0V677.2M271.7 303.0V306.0M363.6 674.0V677.2M363.6 303.0V306.0M455.5 674.0V677.2M455.5 303.0V306.0M547.4 674.0V677.2M547.4 303.0V306.0M133.8 616.9H140.8M593.4 616.9H586.4M133.8 559.9H140.8M593.4 559.9H586.4M133.8 502.8H140.8M593.4 502.8H586.4M133.8 445.7H140.8M593.4 445.7H586.4M133.8 388.7H140.8M593.4 388.7H586.4M133.8 331.6H140.8M593.4 331.6H586.4M133.8 645.5H137.3M593.4 645.5H589.9M133.8 588.4H137.3M593.4 588.4H589.9M133.8 531.3H137.3M593.4 531.3H589.9M133.8 474.3H137.3M593.4 474.3H589.9M133.8 417.2H137.3M593.4 417.2H589.9M133.8 360.1H137.3M593.4 360.1H589.9M133.8 303.0H137.3M593.4 303.0H589.9" stroke="#000" stroke-width="2.8" fill="none"/><rect x="133.8" y="303.0" width="459.6" height="371.0" fill="none" stroke="#000" stroke-width="3"/><text x="133.8" y="701" class="tl" text-anchor="middle">1</text><text x="225.7" y="701" class="tl" text-anchor="middle">2</text><text x="317.6" y="701" class="tl" text-anchor="middle">3</text><text x="409.6" y="701" class="tl" text-anchor="middle">4</text><text x="501.5" y="701" class="tl" text-anchor="middle">5</text><text x="593.4" y="701" class="tl" text-anchor="middle">6</text><text x="126.5" y="679.8" class="tl" text-anchor="end">0</text><text x="126.5" y="622.7" class="tl" text-anchor="end">10</text><text x="126.5" y="565.7" class="tl" text-anchor="end">20</text><text x="126.5" y="508.6" class="tl" text-anchor="end">30</text><text x="126.5" y="451.5" class="tl" text-anchor="end">40</text><text x="126.5" y="394.5" class="tl" text-anchor="end">50</text><text x="126.5" y="337.4" class="tl" text-anchor="end">60</text><circle cx="225.7" cy="615.8" r="4.2" fill="#000"/><circle cx="271.7" cy="593.5" r="4.2" fill="#000"/><circle cx="317.6" cy="579.3" r="4.2" fill="#000"/><circle cx="363.6" cy="569.6" r="4.2" fill="#000"/><circle cx="409.6" cy="551.3" r="4.2" fill="#000"/><circle cx="455.5" cy="525.0" r="4.2" fill="#000"/><circle cx="501.5" cy="513.6" r="4.2" fill="#000"/><circle cx="225.7" cy="589.5" r="3.6" fill="none" stroke="#000098" stroke-width="1.9"/><circle cx="271.7" cy="562.7" r="3.6" fill="none" stroke="#000098" stroke-width="1.9"/><circle cx="317.6" cy="539.3" r="3.6" fill="none" stroke="#000098" stroke-width="1.9"/><circle cx="363.6" cy="530.2" r="3.6" fill="none" stroke="#000098" stroke-width="1.9"/><circle cx="409.6" cy="499.4" r="3.6" fill="none" stroke="#000098" stroke-width="1.9"/><circle cx="455.5" cy="468.5" r="3.6" fill="none" stroke="#000098" stroke-width="1.9"/><circle cx="501.5" cy="446.3" r="3.6" fill="none" stroke="#000098" stroke-width="1.9"/><path d="M220.2 556.4L225.7 547.4L231.2 556.4Z" fill="#f00"/><path d="M266.2 514.1L271.7 505.1L277.2 514.1Z" fill="#f00"/><path d="M312.1 486.2L317.6 477.2L323.1 486.2Z" fill="#f00"/><path d="M358.1 466.8L363.6 457.8L369.1 466.8Z" fill="#f00"/><path d="M404.1 434.2L409.6 425.2L415.1 434.2Z" fill="#f00"/><path d="M450.0 381.2L455.5 372.2L461.0 381.2Z" fill="#f00"/><path d="M496.0 355.5L501.5 346.5L507.0 355.5Z" fill="#f00"/><line x1="225.7" y1="614.6" x2="501.5" y2="513.5" stroke="#000" stroke-width="3" stroke-linecap="round"/><line x1="225.7" y1="590.3" x2="501.5" y2="448.5" stroke="#0818f0" stroke-width="3" stroke-linecap="round" stroke-dasharray="10 14.4"/><line x1="225.7" y1="551.2" x2="501.5" y2="352.5" stroke="#f01010" stroke-width="3" stroke-linecap="round" stroke-dasharray="11.5 9.5 1 9.5" stroke-dashoffset="-0.9"/><circle cx="171.4" cy="338.3" r="4.1" fill="#000"/><circle cx="171.4" cy="366.9" r="3.6" fill="none" stroke="#000098" stroke-width="1.9"/><path d="M165.9 399.1L171.4 390.1L176.9 399.1Z" fill="#f00"/><text x="201" y="345.1" class="lg">pure He</text><text x="201" y="373.7" class="lg">He + 0.5% O<tspan dy="4.8" font-size="13.5">2</tspan></text><text x="201" y="401.1" class="lg">He + 1.0% O<tspan dy="4.8" font-size="13.5">2</tspan></text><text x="375.5" y="348.3" class="k" fill="#f01414">k = 11.605</text><text x="479" y="432.3" class="k" fill="#1428e6">k = 8.285</text><text x="462.6" y="571.2" class="k" fill="#000">k = 5.903</text><text x="524" y="349.8" class="big">(b)</text><text x="368.3" y="735.5" class="at" text-anchor="middle">Electric Field (kV/cm)</text><text transform="translate(79.8 501.3) rotate(-90)" class="at" text-anchor="middle" style="white-space:pre">Square  of  E-FISH</text>
</svg>
</body></html>
